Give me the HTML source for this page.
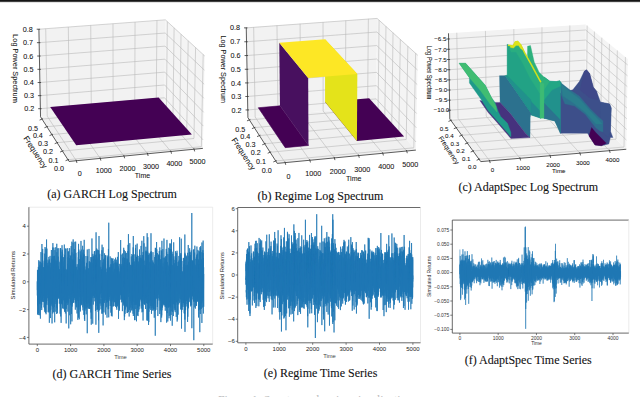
<!DOCTYPE html>
<html><head><meta charset="utf-8"><style>html,body{margin:0;padding:0;background:#fff;width:640px;height:397px;overflow:hidden}svg{display:block}</style></head>
<body><svg width="640" height="397" viewBox="0 0 640 397">
<rect width="640" height="397" fill="#fff"/>
<rect x="0" y="0" width="640" height="1" fill="#141414"/><rect x="0" y="1" width="640" height="1" fill="#404040"/><rect x="0" y="2" width="640" height="1" fill="#e2e2e2"/>
<polygon points="69.09,161.45 202.89,148.37 164.41,105.70 40.53,116.78" fill="#f0f0f0" />
<polygon points="40.53,116.78 164.41,105.70 165.33,19.79 38.90,29.15" fill="#f2f2f2" />
<polygon points="202.89,148.37 164.41,105.70 165.33,19.79 204.73,55.89" fill="#f4f4f4" />
<line x1="76.32" y1="160.74" x2="47.22" y2="116.18" stroke="#b8b8b8" stroke-width="0.6" />
<line x1="47.22" y1="116.18" x2="45.72" y2="28.64" stroke="#b8b8b8" stroke-width="0.6" />
<line x1="100.26" y1="158.40" x2="69.35" y2="114.20" stroke="#b8b8b8" stroke-width="0.6" />
<line x1="69.35" y1="114.20" x2="68.32" y2="26.97" stroke="#b8b8b8" stroke-width="0.6" />
<line x1="124.00" y1="156.08" x2="91.32" y2="112.24" stroke="#b8b8b8" stroke-width="0.6" />
<line x1="91.32" y1="112.24" x2="90.74" y2="25.31" stroke="#b8b8b8" stroke-width="0.6" />
<line x1="147.54" y1="153.78" x2="113.12" y2="110.29" stroke="#b8b8b8" stroke-width="0.6" />
<line x1="113.12" y1="110.29" x2="112.99" y2="23.66" stroke="#b8b8b8" stroke-width="0.6" />
<line x1="170.89" y1="151.50" x2="134.74" y2="108.35" stroke="#b8b8b8" stroke-width="0.6" />
<line x1="134.74" y1="108.35" x2="135.06" y2="22.03" stroke="#b8b8b8" stroke-width="0.6" />
<line x1="194.04" y1="149.23" x2="156.21" y2="106.43" stroke="#b8b8b8" stroke-width="0.6" />
<line x1="156.21" y1="106.43" x2="156.96" y2="20.41" stroke="#b8b8b8" stroke-width="0.6" />
<line x1="67.97" y1="159.70" x2="201.38" y2="146.70" stroke="#b8b8b8" stroke-width="0.6" />
<line x1="201.38" y1="146.70" x2="203.18" y2="54.48" stroke="#b8b8b8" stroke-width="0.6" />
<line x1="62.45" y1="151.07" x2="193.96" y2="138.47" stroke="#b8b8b8" stroke-width="0.6" />
<line x1="193.96" y1="138.47" x2="195.57" y2="47.50" stroke="#b8b8b8" stroke-width="0.6" />
<line x1="57.10" y1="142.70" x2="186.76" y2="130.48" stroke="#b8b8b8" stroke-width="0.6" />
<line x1="186.76" y1="130.48" x2="188.20" y2="40.74" stroke="#b8b8b8" stroke-width="0.6" />
<line x1="51.92" y1="134.59" x2="179.77" y2="122.73" stroke="#b8b8b8" stroke-width="0.6" />
<line x1="179.77" y1="122.73" x2="181.04" y2="34.18" stroke="#b8b8b8" stroke-width="0.6" />
<line x1="46.88" y1="126.72" x2="172.99" y2="115.21" stroke="#b8b8b8" stroke-width="0.6" />
<line x1="172.99" y1="115.21" x2="174.10" y2="27.82" stroke="#b8b8b8" stroke-width="0.6" />
<line x1="42.00" y1="119.08" x2="166.40" y2="107.90" stroke="#b8b8b8" stroke-width="0.6" />
<line x1="166.40" y1="107.90" x2="167.36" y2="21.65" stroke="#b8b8b8" stroke-width="0.6" />
<line x1="40.38" y1="108.69" x2="164.50" y2="97.77" stroke="#b8b8b8" stroke-width="0.6" />
<line x1="164.50" y1="97.77" x2="203.06" y2="139.85" stroke="#b8b8b8" stroke-width="0.6" />
<line x1="40.13" y1="95.65" x2="164.63" y2="84.98" stroke="#b8b8b8" stroke-width="0.6" />
<line x1="164.63" y1="84.98" x2="203.33" y2="126.10" stroke="#b8b8b8" stroke-width="0.6" />
<line x1="39.89" y1="82.53" x2="164.77" y2="72.11" stroke="#b8b8b8" stroke-width="0.6" />
<line x1="164.77" y1="72.11" x2="203.61" y2="112.25" stroke="#b8b8b8" stroke-width="0.6" />
<line x1="39.64" y1="69.32" x2="164.91" y2="59.16" stroke="#b8b8b8" stroke-width="0.6" />
<line x1="164.91" y1="59.16" x2="203.88" y2="98.32" stroke="#b8b8b8" stroke-width="0.6" />
<line x1="39.40" y1="56.03" x2="165.05" y2="46.14" stroke="#b8b8b8" stroke-width="0.6" />
<line x1="165.05" y1="46.14" x2="204.16" y2="84.29" stroke="#b8b8b8" stroke-width="0.6" />
<line x1="39.15" y1="42.66" x2="165.19" y2="33.03" stroke="#b8b8b8" stroke-width="0.6" />
<line x1="165.19" y1="33.03" x2="204.44" y2="70.17" stroke="#b8b8b8" stroke-width="0.6" />
<line x1="38.90" y1="29.21" x2="165.33" y2="19.84" stroke="#b8b8b8" stroke-width="0.6" />
<line x1="165.33" y1="19.84" x2="204.73" y2="55.96" stroke="#b8b8b8" stroke-width="0.6" />
<line x1="40.53" y1="116.78" x2="38.90" y2="29.15" stroke="#333" stroke-width="0.8" />
<line x1="69.09" y1="161.45" x2="40.53" y2="116.78" stroke="#333" stroke-width="0.8" />
<line x1="69.09" y1="161.45" x2="202.89" y2="148.37" stroke="#333" stroke-width="0.8" />
<line x1="38.18" y1="108.69" x2="41.58" y2="108.69" stroke="#333" stroke-width="0.8" />
<line x1="37.93" y1="95.65" x2="41.33" y2="95.65" stroke="#333" stroke-width="0.8" />
<line x1="37.69" y1="82.53" x2="41.09" y2="82.53" stroke="#333" stroke-width="0.8" />
<line x1="37.44" y1="69.32" x2="40.84" y2="69.32" stroke="#333" stroke-width="0.8" />
<line x1="37.20" y1="56.03" x2="40.60" y2="56.03" stroke="#333" stroke-width="0.8" />
<line x1="36.95" y1="42.66" x2="40.35" y2="42.66" stroke="#333" stroke-width="0.8" />
<line x1="36.70" y1="29.21" x2="40.10" y2="29.21" stroke="#333" stroke-width="0.8" />
<line x1="76.12" y1="159.74" x2="76.92" y2="162.94" stroke="#333" stroke-width="0.8" />
<line x1="100.06" y1="157.40" x2="100.86" y2="160.60" stroke="#333" stroke-width="0.8" />
<line x1="123.80" y1="155.08" x2="124.60" y2="158.28" stroke="#333" stroke-width="0.8" />
<line x1="147.34" y1="152.78" x2="148.14" y2="155.98" stroke="#333" stroke-width="0.8" />
<line x1="170.69" y1="150.50" x2="171.49" y2="153.70" stroke="#333" stroke-width="0.8" />
<line x1="193.84" y1="148.23" x2="194.64" y2="151.43" stroke="#333" stroke-width="0.8" />
<line x1="68.97" y1="159.30" x2="65.57" y2="160.70" stroke="#333" stroke-width="0.8" />
<line x1="63.45" y1="150.67" x2="60.05" y2="152.07" stroke="#333" stroke-width="0.8" />
<line x1="58.10" y1="142.30" x2="54.70" y2="143.70" stroke="#333" stroke-width="0.8" />
<line x1="52.92" y1="134.19" x2="49.52" y2="135.59" stroke="#333" stroke-width="0.8" />
<line x1="47.88" y1="126.32" x2="44.48" y2="127.72" stroke="#333" stroke-width="0.8" />
<line x1="43.00" y1="118.68" x2="39.60" y2="120.08" stroke="#333" stroke-width="0.8" />
<text x="79.82" y="175.74" font-family="Liberation Sans" font-size="7.2" text-anchor="middle" fill="#111" stroke="#111" stroke-width="0.06" >0</text>
<text x="103.76" y="173.39" font-family="Liberation Sans" font-size="7.2" text-anchor="middle" fill="#111" stroke="#111" stroke-width="0.06" >1000</text>
<text x="127.50" y="171.07" font-family="Liberation Sans" font-size="7.2" text-anchor="middle" fill="#111" stroke="#111" stroke-width="0.06" >2000</text>
<text x="151.04" y="168.77" font-family="Liberation Sans" font-size="7.2" text-anchor="middle" fill="#111" stroke="#111" stroke-width="0.06" >3000</text>
<text x="174.39" y="166.49" font-family="Liberation Sans" font-size="7.2" text-anchor="middle" fill="#111" stroke="#111" stroke-width="0.06" >4000</text>
<text x="197.54" y="164.23" font-family="Liberation Sans" font-size="7.2" text-anchor="middle" fill="#111" stroke="#111" stroke-width="0.06" >5000</text>
<text x="58.97" y="171.39" font-family="Liberation Sans" font-size="7.2" text-anchor="middle" fill="#111" stroke="#111" stroke-width="0.06" >0.0</text>
<text x="53.45" y="162.76" font-family="Liberation Sans" font-size="7.2" text-anchor="middle" fill="#111" stroke="#111" stroke-width="0.06" >0.1</text>
<text x="48.10" y="154.40" font-family="Liberation Sans" font-size="7.2" text-anchor="middle" fill="#111" stroke="#111" stroke-width="0.06" >0.2</text>
<text x="42.92" y="146.28" font-family="Liberation Sans" font-size="7.2" text-anchor="middle" fill="#111" stroke="#111" stroke-width="0.06" >0.3</text>
<text x="37.88" y="138.41" font-family="Liberation Sans" font-size="7.2" text-anchor="middle" fill="#111" stroke="#111" stroke-width="0.06" >0.4</text>
<text x="33.00" y="130.77" font-family="Liberation Sans" font-size="7.2" text-anchor="middle" fill="#111" stroke="#111" stroke-width="0.06" >0.5</text>
<text x="29.18" y="111.29" font-family="Liberation Sans" font-size="7.2" text-anchor="middle" fill="#111" stroke="#111" stroke-width="0.06" >0.2</text>
<text x="28.93" y="98.24" font-family="Liberation Sans" font-size="7.2" text-anchor="middle" fill="#111" stroke="#111" stroke-width="0.06" >0.3</text>
<text x="28.69" y="85.12" font-family="Liberation Sans" font-size="7.2" text-anchor="middle" fill="#111" stroke="#111" stroke-width="0.06" >0.4</text>
<text x="28.44" y="71.91" font-family="Liberation Sans" font-size="7.2" text-anchor="middle" fill="#111" stroke="#111" stroke-width="0.06" >0.5</text>
<text x="28.20" y="58.63" font-family="Liberation Sans" font-size="7.2" text-anchor="middle" fill="#111" stroke="#111" stroke-width="0.06" >0.6</text>
<text x="27.95" y="45.26" font-family="Liberation Sans" font-size="7.2" text-anchor="middle" fill="#111" stroke="#111" stroke-width="0.06" >0.7</text>
<text x="27.70" y="31.80" font-family="Liberation Sans" font-size="7.2" text-anchor="middle" fill="#111" stroke="#111" stroke-width="0.06" >0.8</text>
<polygon points="50.20,107.10 158.60,97.60 191.90,134.40 76.20,145.30" fill="#440154" />
<text x="15.40" y="68.50" font-family="Liberation Sans" font-size="7.8" text-anchor="middle" fill="#111" stroke="#111" stroke-width="0.06" transform="rotate(90 15.40 68.50)" dominant-baseline="central" textLength="68.5" lengthAdjust="spacingAndGlyphs">Log Power Spectrum</text>
<text x="35.30" y="152.30" font-family="Liberation Sans" font-size="7.8" text-anchor="middle" fill="#111" stroke="#111" stroke-width="0.06" transform="rotate(57 35.30 152.30)" dominant-baseline="central">Frequency</text>
<text x="142.50" y="178.00" font-family="Liberation Sans" font-size="7.0" text-anchor="middle" fill="#111" stroke="#111" stroke-width="0.06" >Time</text>
<polygon points="277.26,163.38 415.89,150.11 376.15,106.42 247.91,117.64" fill="#f0f0f0" />
<polygon points="247.91,117.64 376.15,106.42 377.08,18.19 246.26,27.64" fill="#f2f2f2" />
<polygon points="415.89,150.11 376.15,106.42 377.08,18.19 417.77,55.03" fill="#f4f4f4" />
<line x1="285.12" y1="162.62" x2="255.17" y2="117.00" stroke="#b8b8b8" stroke-width="0.6" />
<line x1="255.17" y1="117.00" x2="253.66" y2="27.11" stroke="#b8b8b8" stroke-width="0.6" />
<line x1="309.84" y1="160.26" x2="278.01" y2="115.00" stroke="#b8b8b8" stroke-width="0.6" />
<line x1="278.01" y1="115.00" x2="276.97" y2="25.42" stroke="#b8b8b8" stroke-width="0.6" />
<line x1="334.35" y1="157.91" x2="300.67" y2="113.02" stroke="#b8b8b8" stroke-width="0.6" />
<line x1="300.67" y1="113.02" x2="300.09" y2="23.75" stroke="#b8b8b8" stroke-width="0.6" />
<line x1="358.66" y1="155.58" x2="323.15" y2="111.05" stroke="#b8b8b8" stroke-width="0.6" />
<line x1="323.15" y1="111.05" x2="323.03" y2="22.10" stroke="#b8b8b8" stroke-width="0.6" />
<line x1="382.77" y1="153.28" x2="345.46" y2="109.10" stroke="#b8b8b8" stroke-width="0.6" />
<line x1="345.46" y1="109.10" x2="345.79" y2="20.45" stroke="#b8b8b8" stroke-width="0.6" />
<line x1="406.68" y1="150.99" x2="367.61" y2="107.16" stroke="#b8b8b8" stroke-width="0.6" />
<line x1="367.61" y1="107.16" x2="368.37" y2="18.82" stroke="#b8b8b8" stroke-width="0.6" />
<line x1="275.71" y1="160.96" x2="413.80" y2="147.80" stroke="#b8b8b8" stroke-width="0.6" />
<line x1="413.80" y1="147.80" x2="415.62" y2="53.09" stroke="#b8b8b8" stroke-width="0.6" />
<line x1="270.11" y1="152.24" x2="406.23" y2="139.48" stroke="#b8b8b8" stroke-width="0.6" />
<line x1="406.23" y1="139.48" x2="407.86" y2="46.06" stroke="#b8b8b8" stroke-width="0.6" />
<line x1="264.69" y1="143.78" x2="398.89" y2="131.41" stroke="#b8b8b8" stroke-width="0.6" />
<line x1="398.89" y1="131.41" x2="400.34" y2="39.25" stroke="#b8b8b8" stroke-width="0.6" />
<line x1="259.43" y1="135.58" x2="391.76" y2="123.58" stroke="#b8b8b8" stroke-width="0.6" />
<line x1="391.76" y1="123.58" x2="393.04" y2="32.65" stroke="#b8b8b8" stroke-width="0.6" />
<line x1="254.32" y1="127.63" x2="384.84" y2="115.97" stroke="#b8b8b8" stroke-width="0.6" />
<line x1="384.84" y1="115.97" x2="385.97" y2="26.24" stroke="#b8b8b8" stroke-width="0.6" />
<line x1="249.37" y1="119.90" x2="378.12" y2="108.59" stroke="#b8b8b8" stroke-width="0.6" />
<line x1="378.12" y1="108.59" x2="379.10" y2="20.02" stroke="#b8b8b8" stroke-width="0.6" />
<line x1="247.77" y1="109.94" x2="376.23" y2="98.87" stroke="#b8b8b8" stroke-width="0.6" />
<line x1="376.23" y1="98.87" x2="416.05" y2="141.99" stroke="#b8b8b8" stroke-width="0.6" />
<line x1="247.52" y1="96.47" x2="376.37" y2="85.66" stroke="#b8b8b8" stroke-width="0.6" />
<line x1="376.37" y1="85.66" x2="416.33" y2="127.77" stroke="#b8b8b8" stroke-width="0.6" />
<line x1="247.27" y1="82.92" x2="376.51" y2="72.37" stroke="#b8b8b8" stroke-width="0.6" />
<line x1="376.51" y1="72.37" x2="416.62" y2="113.46" stroke="#b8b8b8" stroke-width="0.6" />
<line x1="247.02" y1="69.28" x2="376.65" y2="59.00" stroke="#b8b8b8" stroke-width="0.6" />
<line x1="376.65" y1="59.00" x2="416.90" y2="99.05" stroke="#b8b8b8" stroke-width="0.6" />
<line x1="246.77" y1="55.56" x2="376.79" y2="45.55" stroke="#b8b8b8" stroke-width="0.6" />
<line x1="376.79" y1="45.55" x2="417.19" y2="84.55" stroke="#b8b8b8" stroke-width="0.6" />
<line x1="246.52" y1="41.76" x2="376.93" y2="32.02" stroke="#b8b8b8" stroke-width="0.6" />
<line x1="376.93" y1="32.02" x2="417.47" y2="69.96" stroke="#b8b8b8" stroke-width="0.6" />
<line x1="246.26" y1="27.87" x2="377.08" y2="18.41" stroke="#b8b8b8" stroke-width="0.6" />
<line x1="377.08" y1="18.41" x2="417.76" y2="55.27" stroke="#b8b8b8" stroke-width="0.6" />
<line x1="247.91" y1="117.64" x2="246.26" y2="27.64" stroke="#333" stroke-width="0.8" />
<line x1="277.26" y1="163.38" x2="247.91" y2="117.64" stroke="#333" stroke-width="0.8" />
<line x1="277.26" y1="163.38" x2="415.89" y2="150.11" stroke="#333" stroke-width="0.8" />
<line x1="245.57" y1="109.94" x2="248.97" y2="109.94" stroke="#333" stroke-width="0.8" />
<line x1="245.32" y1="96.47" x2="248.72" y2="96.47" stroke="#333" stroke-width="0.8" />
<line x1="245.07" y1="82.92" x2="248.47" y2="82.92" stroke="#333" stroke-width="0.8" />
<line x1="244.82" y1="69.28" x2="248.22" y2="69.28" stroke="#333" stroke-width="0.8" />
<line x1="244.57" y1="55.56" x2="247.97" y2="55.56" stroke="#333" stroke-width="0.8" />
<line x1="244.32" y1="41.76" x2="247.72" y2="41.76" stroke="#333" stroke-width="0.8" />
<line x1="244.06" y1="27.87" x2="247.46" y2="27.87" stroke="#333" stroke-width="0.8" />
<line x1="284.92" y1="161.62" x2="285.72" y2="164.82" stroke="#333" stroke-width="0.8" />
<line x1="309.64" y1="159.26" x2="310.44" y2="162.46" stroke="#333" stroke-width="0.8" />
<line x1="334.15" y1="156.91" x2="334.95" y2="160.11" stroke="#333" stroke-width="0.8" />
<line x1="358.46" y1="154.58" x2="359.26" y2="157.78" stroke="#333" stroke-width="0.8" />
<line x1="382.57" y1="152.28" x2="383.37" y2="155.48" stroke="#333" stroke-width="0.8" />
<line x1="406.48" y1="149.99" x2="407.28" y2="153.19" stroke="#333" stroke-width="0.8" />
<line x1="276.71" y1="160.56" x2="273.31" y2="161.96" stroke="#333" stroke-width="0.8" />
<line x1="271.11" y1="151.84" x2="267.71" y2="153.24" stroke="#333" stroke-width="0.8" />
<line x1="265.69" y1="143.38" x2="262.29" y2="144.78" stroke="#333" stroke-width="0.8" />
<line x1="260.43" y1="135.18" x2="257.03" y2="136.58" stroke="#333" stroke-width="0.8" />
<line x1="255.32" y1="127.23" x2="251.92" y2="128.63" stroke="#333" stroke-width="0.8" />
<line x1="250.37" y1="119.50" x2="246.97" y2="120.90" stroke="#333" stroke-width="0.8" />
<text x="288.62" y="178.82" font-family="Liberation Sans" font-size="7.2" text-anchor="middle" fill="#111" stroke="#111" stroke-width="0.06" >0</text>
<text x="313.34" y="176.45" font-family="Liberation Sans" font-size="7.2" text-anchor="middle" fill="#111" stroke="#111" stroke-width="0.06" >1000</text>
<text x="337.85" y="174.10" font-family="Liberation Sans" font-size="7.2" text-anchor="middle" fill="#111" stroke="#111" stroke-width="0.06" >2000</text>
<text x="362.16" y="171.78" font-family="Liberation Sans" font-size="7.2" text-anchor="middle" fill="#111" stroke="#111" stroke-width="0.06" >3000</text>
<text x="386.27" y="169.47" font-family="Liberation Sans" font-size="7.2" text-anchor="middle" fill="#111" stroke="#111" stroke-width="0.06" >4000</text>
<text x="410.18" y="167.18" font-family="Liberation Sans" font-size="7.2" text-anchor="middle" fill="#111" stroke="#111" stroke-width="0.06" >5000</text>
<text x="266.71" y="172.65" font-family="Liberation Sans" font-size="7.2" text-anchor="middle" fill="#111" stroke="#111" stroke-width="0.06" >0.0</text>
<text x="261.11" y="163.93" font-family="Liberation Sans" font-size="7.2" text-anchor="middle" fill="#111" stroke="#111" stroke-width="0.06" >0.1</text>
<text x="255.69" y="155.47" font-family="Liberation Sans" font-size="7.2" text-anchor="middle" fill="#111" stroke="#111" stroke-width="0.06" >0.2</text>
<text x="250.43" y="147.27" font-family="Liberation Sans" font-size="7.2" text-anchor="middle" fill="#111" stroke="#111" stroke-width="0.06" >0.3</text>
<text x="245.32" y="139.32" font-family="Liberation Sans" font-size="7.2" text-anchor="middle" fill="#111" stroke="#111" stroke-width="0.06" >0.4</text>
<text x="240.37" y="131.60" font-family="Liberation Sans" font-size="7.2" text-anchor="middle" fill="#111" stroke="#111" stroke-width="0.06" >0.5</text>
<text x="236.57" y="112.54" font-family="Liberation Sans" font-size="7.2" text-anchor="middle" fill="#111" stroke="#111" stroke-width="0.06" >0.2</text>
<text x="236.32" y="99.06" font-family="Liberation Sans" font-size="7.2" text-anchor="middle" fill="#111" stroke="#111" stroke-width="0.06" >0.3</text>
<text x="236.07" y="85.51" font-family="Liberation Sans" font-size="7.2" text-anchor="middle" fill="#111" stroke="#111" stroke-width="0.06" >0.4</text>
<text x="235.82" y="71.87" font-family="Liberation Sans" font-size="7.2" text-anchor="middle" fill="#111" stroke="#111" stroke-width="0.06" >0.5</text>
<text x="235.57" y="58.15" font-family="Liberation Sans" font-size="7.2" text-anchor="middle" fill="#111" stroke="#111" stroke-width="0.06" >0.6</text>
<text x="235.32" y="44.35" font-family="Liberation Sans" font-size="7.2" text-anchor="middle" fill="#111" stroke="#111" stroke-width="0.06" >0.7</text>
<text x="235.06" y="30.46" font-family="Liberation Sans" font-size="7.2" text-anchor="middle" fill="#111" stroke="#111" stroke-width="0.06" >0.8</text>
<polygon points="285.22,147.64 308.49,145.47 279.96,105.85 258.28,107.72" fill="#440154" stroke="#440154" stroke-width="0.6" stroke-linejoin="round"/>
<polygon points="356.91,140.96 404.07,136.57 369.12,98.19 325.10,101.97" fill="#440154" />
<polygon points="356.91,140.96 325.10,101.97 325.04,39.32 357.33,73.95" fill="#e4e31a" />
<polygon points="308.49,145.47 279.96,105.85 279.26,42.76 308.17,77.96" fill="#48105f" />
<polygon points="308.17,77.96 357.33,73.95 325.04,39.32 279.26,42.76" fill="#fde725" />
<text x="223.50" y="69.30" font-family="Liberation Sans" font-size="7.8" text-anchor="middle" fill="#111" stroke="#111" stroke-width="0.06" transform="rotate(90 223.50 69.30)" dominant-baseline="central" textLength="67.5" lengthAdjust="spacingAndGlyphs">Log Power Spectrum</text>
<text x="243.50" y="154.00" font-family="Liberation Sans" font-size="7.8" text-anchor="middle" fill="#111" stroke="#111" stroke-width="0.06" transform="rotate(57 243.50 154.00)" dominant-baseline="central">Frequency</text>
<text x="353.75" y="181.25" font-family="Liberation Sans" font-size="7.0" text-anchor="middle" fill="#111" stroke="#111" stroke-width="0.06" >Time</text>
<polygon points="480.75,161.62 626.28,149.28 584.96,108.40 449.79,118.93" fill="#f0f0f0" />
<polygon points="449.79,118.93 584.96,108.40 585.70,24.41 448.49,33.30" fill="#f2f2f2" />
<polygon points="626.28,149.28 584.96,108.40 585.70,24.41 627.75,58.96" fill="#f4f4f4" />
<line x1="489.60" y1="160.87" x2="457.99" y2="118.29" stroke="#b8b8b8" stroke-width="0.55" />
<line x1="457.99" y1="118.29" x2="456.81" y2="32.76" stroke="#b8b8b8" stroke-width="0.55" />
<line x1="519.99" y1="158.29" x2="486.19" y2="116.10" stroke="#b8b8b8" stroke-width="0.55" />
<line x1="486.19" y1="116.10" x2="485.44" y2="30.90" stroke="#b8b8b8" stroke-width="0.55" />
<line x1="550.10" y1="155.74" x2="514.15" y2="113.92" stroke="#b8b8b8" stroke-width="0.55" />
<line x1="514.15" y1="113.92" x2="513.83" y2="29.06" stroke="#b8b8b8" stroke-width="0.55" />
<line x1="579.94" y1="153.21" x2="541.87" y2="111.76" stroke="#b8b8b8" stroke-width="0.55" />
<line x1="541.87" y1="111.76" x2="541.96" y2="27.24" stroke="#b8b8b8" stroke-width="0.55" />
<line x1="609.50" y1="150.70" x2="569.35" y2="109.62" stroke="#b8b8b8" stroke-width="0.55" />
<line x1="569.35" y1="109.62" x2="569.85" y2="25.43" stroke="#b8b8b8" stroke-width="0.55" />
<line x1="479.04" y1="159.26" x2="624.01" y2="147.02" stroke="#b8b8b8" stroke-width="0.55" />
<line x1="624.01" y1="147.02" x2="625.43" y2="57.06" stroke="#b8b8b8" stroke-width="0.55" />
<line x1="473.07" y1="151.03" x2="616.05" y2="139.15" stroke="#b8b8b8" stroke-width="0.55" />
<line x1="616.05" y1="139.15" x2="617.33" y2="50.40" stroke="#b8b8b8" stroke-width="0.55" />
<line x1="467.28" y1="143.04" x2="608.32" y2="131.51" stroke="#b8b8b8" stroke-width="0.55" />
<line x1="608.32" y1="131.51" x2="609.46" y2="43.93" stroke="#b8b8b8" stroke-width="0.55" />
<line x1="461.66" y1="135.29" x2="600.81" y2="124.08" stroke="#b8b8b8" stroke-width="0.55" />
<line x1="600.81" y1="124.08" x2="601.82" y2="37.65" stroke="#b8b8b8" stroke-width="0.55" />
<line x1="456.19" y1="127.75" x2="593.52" y2="116.86" stroke="#b8b8b8" stroke-width="0.55" />
<line x1="593.52" y1="116.86" x2="594.40" y2="31.55" stroke="#b8b8b8" stroke-width="0.55" />
<line x1="450.88" y1="120.43" x2="586.42" y2="109.84" stroke="#b8b8b8" stroke-width="0.55" />
<line x1="586.42" y1="109.84" x2="587.18" y2="25.62" stroke="#b8b8b8" stroke-width="0.55" />
<line x1="449.66" y1="110.21" x2="585.04" y2="99.85" stroke="#b8b8b8" stroke-width="0.55" />
<line x1="585.04" y1="99.85" x2="626.43" y2="140.09" stroke="#b8b8b8" stroke-width="0.55" />
<line x1="449.51" y1="100.15" x2="585.13" y2="89.97" stroke="#b8b8b8" stroke-width="0.55" />
<line x1="585.13" y1="89.97" x2="626.61" y2="129.48" stroke="#b8b8b8" stroke-width="0.55" />
<line x1="449.35" y1="90.04" x2="585.21" y2="80.06" stroke="#b8b8b8" stroke-width="0.55" />
<line x1="585.21" y1="80.06" x2="626.78" y2="118.83" stroke="#b8b8b8" stroke-width="0.55" />
<line x1="449.20" y1="79.90" x2="585.30" y2="70.11" stroke="#b8b8b8" stroke-width="0.55" />
<line x1="585.30" y1="70.11" x2="626.95" y2="108.14" stroke="#b8b8b8" stroke-width="0.55" />
<line x1="449.04" y1="69.73" x2="585.39" y2="60.13" stroke="#b8b8b8" stroke-width="0.55" />
<line x1="585.39" y1="60.13" x2="627.13" y2="97.40" stroke="#b8b8b8" stroke-width="0.55" />
<line x1="448.89" y1="59.52" x2="585.48" y2="50.12" stroke="#b8b8b8" stroke-width="0.55" />
<line x1="585.48" y1="50.12" x2="627.30" y2="86.63" stroke="#b8b8b8" stroke-width="0.55" />
<line x1="448.73" y1="49.27" x2="585.57" y2="40.06" stroke="#b8b8b8" stroke-width="0.55" />
<line x1="585.57" y1="40.06" x2="627.48" y2="75.82" stroke="#b8b8b8" stroke-width="0.55" />
<line x1="448.57" y1="38.98" x2="585.65" y2="29.98" stroke="#b8b8b8" stroke-width="0.55" />
<line x1="585.65" y1="29.98" x2="627.66" y2="64.96" stroke="#b8b8b8" stroke-width="0.55" />
<line x1="449.79" y1="118.93" x2="448.49" y2="33.30" stroke="#333" stroke-width="0.8" />
<line x1="480.75" y1="161.62" x2="449.79" y2="118.93" stroke="#333" stroke-width="0.8" />
<line x1="480.75" y1="161.62" x2="626.28" y2="149.28" stroke="#333" stroke-width="0.8" />
<line x1="447.46" y1="110.21" x2="450.86" y2="110.21" stroke="#333" stroke-width="0.8" />
<line x1="447.31" y1="100.15" x2="450.71" y2="100.15" stroke="#333" stroke-width="0.8" />
<line x1="447.15" y1="90.04" x2="450.55" y2="90.04" stroke="#333" stroke-width="0.8" />
<line x1="447.00" y1="79.90" x2="450.40" y2="79.90" stroke="#333" stroke-width="0.8" />
<line x1="446.84" y1="69.73" x2="450.24" y2="69.73" stroke="#333" stroke-width="0.8" />
<line x1="446.69" y1="59.52" x2="450.09" y2="59.52" stroke="#333" stroke-width="0.8" />
<line x1="446.53" y1="49.27" x2="449.93" y2="49.27" stroke="#333" stroke-width="0.8" />
<line x1="446.37" y1="38.98" x2="449.77" y2="38.98" stroke="#333" stroke-width="0.8" />
<line x1="489.40" y1="159.87" x2="490.20" y2="163.07" stroke="#333" stroke-width="0.8" />
<line x1="519.79" y1="157.29" x2="520.59" y2="160.49" stroke="#333" stroke-width="0.8" />
<line x1="549.90" y1="154.74" x2="550.70" y2="157.94" stroke="#333" stroke-width="0.8" />
<line x1="579.74" y1="152.21" x2="580.54" y2="155.41" stroke="#333" stroke-width="0.8" />
<line x1="609.30" y1="149.70" x2="610.10" y2="152.90" stroke="#333" stroke-width="0.8" />
<line x1="480.04" y1="158.86" x2="476.64" y2="160.26" stroke="#333" stroke-width="0.8" />
<line x1="474.07" y1="150.63" x2="470.67" y2="152.03" stroke="#333" stroke-width="0.8" />
<line x1="468.28" y1="142.64" x2="464.88" y2="144.04" stroke="#333" stroke-width="0.8" />
<line x1="462.66" y1="134.89" x2="459.26" y2="136.29" stroke="#333" stroke-width="0.8" />
<line x1="457.19" y1="127.35" x2="453.79" y2="128.75" stroke="#333" stroke-width="0.8" />
<line x1="451.88" y1="120.03" x2="448.48" y2="121.43" stroke="#333" stroke-width="0.8" />
<text x="492.60" y="172.40" font-family="Liberation Sans" font-size="6.2" text-anchor="middle" fill="#111" stroke="#111" stroke-width="0.06" >0</text>
<text x="522.99" y="169.82" font-family="Liberation Sans" font-size="6.2" text-anchor="middle" fill="#111" stroke="#111" stroke-width="0.06" >1000</text>
<text x="553.10" y="167.27" font-family="Liberation Sans" font-size="6.2" text-anchor="middle" fill="#111" stroke="#111" stroke-width="0.06" >2000</text>
<text x="582.94" y="164.74" font-family="Liberation Sans" font-size="6.2" text-anchor="middle" fill="#111" stroke="#111" stroke-width="0.06" >3000</text>
<text x="612.50" y="162.23" font-family="Liberation Sans" font-size="6.2" text-anchor="middle" fill="#111" stroke="#111" stroke-width="0.06" >4000</text>
<text x="472.24" y="169.49" font-family="Liberation Sans" font-size="6.2" text-anchor="middle" fill="#111" stroke="#111" stroke-width="0.06" >0.0</text>
<text x="466.27" y="161.26" font-family="Liberation Sans" font-size="6.2" text-anchor="middle" fill="#111" stroke="#111" stroke-width="0.06" >0.1</text>
<text x="460.48" y="153.28" font-family="Liberation Sans" font-size="6.2" text-anchor="middle" fill="#111" stroke="#111" stroke-width="0.06" >0.2</text>
<text x="454.86" y="145.52" font-family="Liberation Sans" font-size="6.2" text-anchor="middle" fill="#111" stroke="#111" stroke-width="0.06" >0.3</text>
<text x="449.39" y="137.99" font-family="Liberation Sans" font-size="6.2" text-anchor="middle" fill="#111" stroke="#111" stroke-width="0.06" >0.4</text>
<text x="444.08" y="130.66" font-family="Liberation Sans" font-size="6.2" text-anchor="middle" fill="#111" stroke="#111" stroke-width="0.06" >0.5</text>
<text x="441.46" y="112.44" font-family="Liberation Sans" font-size="6.2" text-anchor="middle" fill="#111" stroke="#111" stroke-width="0.06" >−10.0</text>
<text x="441.31" y="102.38" font-family="Liberation Sans" font-size="6.2" text-anchor="middle" fill="#111" stroke="#111" stroke-width="0.06" >−9.5</text>
<text x="441.15" y="92.28" font-family="Liberation Sans" font-size="6.2" text-anchor="middle" fill="#111" stroke="#111" stroke-width="0.06" >−9.0</text>
<text x="441.00" y="82.14" font-family="Liberation Sans" font-size="6.2" text-anchor="middle" fill="#111" stroke="#111" stroke-width="0.06" >−8.5</text>
<text x="440.84" y="71.96" font-family="Liberation Sans" font-size="6.2" text-anchor="middle" fill="#111" stroke="#111" stroke-width="0.06" >−8.0</text>
<text x="440.69" y="61.75" font-family="Liberation Sans" font-size="6.2" text-anchor="middle" fill="#111" stroke="#111" stroke-width="0.06" >−7.5</text>
<text x="440.53" y="51.50" font-family="Liberation Sans" font-size="6.2" text-anchor="middle" fill="#111" stroke="#111" stroke-width="0.06" >−7.0</text>
<text x="440.37" y="41.21" font-family="Liberation Sans" font-size="6.2" text-anchor="middle" fill="#111" stroke="#111" stroke-width="0.06" >−6.5</text>
<polygon points="560.0,93.0 572.8,89.8 579.3,81.6 584.3,71.3 586.5,69.8 589.6,73.6 593.3,87.2 596.6,91.4 600.6,102.2 604.7,103.0 609.6,103.9 611.2,108.0 610.4,130.9 612.9,137.5 610.4,137.5 608.8,144.0 601.4,145.7 595.0,145.0 587.5,133.2 560.0,133.2" fill="#3d4f8a" stroke="#3d4f8a" stroke-width="0.35" stroke-linejoin="round" />
<polygon points="600.6,102.2 604.7,103.0 609.6,103.9 611.2,108.0 610.4,130.9 608.0,137.0 600.0,130.0" fill="#3b528b" stroke="#3b528b" stroke-width="0.35" stroke-linejoin="round" />
<polygon points="584.3,71.3 586.5,69.8 589.6,73.6 593.3,87.2 596.6,91.4 598.0,100.0 590.0,98.0 580.0,90.0" fill="#3f4889" stroke="#3f4889" stroke-width="0.35" stroke-linejoin="round" />
<polygon points="559.5,81.8 570.1,90.1 579.2,96.1 589.7,108.2 598.8,117.3 603.0,121.0 603.0,132.0 600.0,130.9 595.8,127.8 585.2,114.3 574.6,106.0 564.8,103.7 560.5,93.0" fill="#2d708e" stroke="#2d708e" stroke-width="0.35" stroke-linejoin="round" />
<polygon points="561.0,84.0 570.1,92.0 579.2,98.5 589.7,110.5 598.8,120.0 602.0,124.0 596.0,124.0 585.0,112.0 572.0,102.0 563.0,96.0" fill="#2a7f8e" stroke="#2a7f8e" stroke-width="0.35" stroke-linejoin="round" />
<polygon points="591.6,127.6 595.7,132.5 606.3,143.2 601.4,145.7 595.0,145.0 589.0,136.0" fill="#440154" stroke="#440154" stroke-width="0.35" stroke-linejoin="round" />
<polygon points="544.0,77.0 549.7,81.2 556.4,81.6 559.7,80.7 561.3,82.4 560.5,93.0 560.5,133.2 554.8,120.9 544.9,118.4 544.0,118.4" fill="#21918c" stroke="#21918c" stroke-width="0.35" stroke-linejoin="round" />
<polygon points="544.0,77.0 549.7,81.2 556.4,81.6 559.7,80.7 560.5,86.0 552.0,90.0 544.0,100.0" fill="#22a785" stroke="#22a785" stroke-width="0.35" stroke-linejoin="round" />
<polygon points="544.0,103.0 559.7,119.3 560.5,133.2 554.8,120.9 544.9,118.4 544.0,118.4" fill="#2c728e" stroke="#2c728e" stroke-width="0.35" stroke-linejoin="round" />
<polygon points="527.5,46.3 530.5,45.6 534.3,62.2 536.5,66.7 539.1,72.3 544.0,77.0 549.7,81.2 544.0,90.0 540.3,83.3 531.3,65.2 527.5,58.0" fill="#2db17d" stroke="#2db17d" stroke-width="0.35" stroke-linejoin="round" />
<polygon points="505.2,75.7 507.1,75.0 507.1,44.1 510.1,46.3 513.1,47.1 515.4,42.6 517.7,42.3 520.7,45.6 525.2,54.6 531.3,65.2 540.9,82.9 540.9,118.2 530.5,114.7 531.0,113.0" fill="#22a285" stroke="#22a285" stroke-width="0.35" stroke-linejoin="round" />
<polygon points="516.0,90.0 525.0,95.0 540.9,112.0 540.9,118.2 530.5,114.7 531.0,113.0" fill="#23898e" stroke="#23898e" stroke-width="0.35" stroke-linejoin="round" />
<polygon points="509.0,46.5 513.1,47.1 515.4,42.6 517.7,42.3 520.7,45.6 525.2,54.6 531.3,65.2 540.9,82.9 540.9,95.0 530.0,78.0 522.0,62.0 516.0,52.0 511.0,52.0" fill="#29ad80" stroke="#29ad80" stroke-width="0.35" stroke-linejoin="round" />
<polyline points="508,45.2 510.1,45.6 513.1,46.2 515.4,41.9 517.7,41.6 520.7,44.9 525.2,53.9 531.3,64.6 540.9,82.4" fill="none" stroke="#cfe01c" stroke-width="1.5" stroke-linejoin="round"/>
<polygon points="510.5,45.6 513.1,46.0 515.4,41.5 517.7,41.2 520.7,44.5 523.5,50.0 521.0,49.0 518.5,45.5 516.0,45.6 513.5,48.0 510.5,47.5" fill="#dde31b" stroke="#dde31b" stroke-width="0.35" stroke-linejoin="round" />
<polygon points="540.0,82.9 544.0,83.5 544.0,118.2 540.0,118.2" fill="#3dbb74" stroke="#3dbb74" stroke-width="0.35" stroke-linejoin="round" />
<polygon points="499.5,75.7 505.2,75.7 531.0,113.0 530.2,117.7 530.0,137.5 525.6,133.5 517.7,123.3 510.9,114.3 500.1,102.4" fill="#2c718e" stroke="#2c718e" stroke-width="0.35" stroke-linejoin="round" />
<polygon points="505.2,75.7 507.1,75.7 531.0,100.0 531.0,113.0" fill="#21918c" stroke="#21918c" stroke-width="0.35" stroke-linejoin="round" />
<polygon points="495.0,102.4 500.1,102.4 510.9,114.3 517.7,123.3 525.6,133.5 530.0,137.5 510.9,138.6 507.5,134.6 497.3,122.7 488.2,112.5 479.8,100.5" fill="#46327e" stroke="#46327e" stroke-width="0.35" stroke-linejoin="round" />
<polygon points="459.2,63.3 465.6,63.3 485.2,85.2 491.3,97.3 495.0,102.4 498.4,112.0 500.7,116.5 507.5,123.3 510.9,132.4 510.9,136.8 507.5,132.8 497.3,121.0 488.2,110.8 481.5,100.0 469.4,83.0 469.4,77.7" fill="#1f9a8a" stroke="#1f9a8a" stroke-width="0.35" stroke-linejoin="round" />
<polygon points="459.2,63.3 465.6,63.3 485.2,85.2 491.3,97.3 496.0,106.0 497.0,112.0 490.0,104.0 480.0,90.0 469.4,77.7" fill="#40bd72" stroke="#40bd72" stroke-width="0.35" stroke-linejoin="round" />
<text x="429.00" y="72.50" font-family="Liberation Sans" font-size="6.3" text-anchor="middle" fill="#111" stroke="#111" stroke-width="0.06" transform="rotate(90 429.00 72.50)" dominant-baseline="central" textLength="53.5" lengthAdjust="spacingAndGlyphs">Log Power Spectrum</text>
<text x="449.00" y="150.00" font-family="Liberation Sans" font-size="6.8" text-anchor="middle" fill="#111" stroke="#111" stroke-width="0.06" transform="rotate(57 449.00 150.00)" dominant-baseline="central">Frequency</text>
<text x="558.75" y="172.75" font-family="Liberation Sans" font-size="6.2" text-anchor="middle" fill="#111" stroke="#111" stroke-width="0.06" >Time</text>
<text x="47.30" y="197.70" font-family="Liberation Serif" font-size="12.0" text-anchor="start" fill="#111" stroke="#111" stroke-width="0.1" >(a) GARCH Log Spectrum</text>
<text x="257.60" y="199.50" font-family="Liberation Serif" font-size="12.0" text-anchor="start" fill="#111" stroke="#111" stroke-width="0.1" >(b) Regime Log Spectrum</text>
<text x="458.40" y="190.70" font-family="Liberation Serif" font-size="12.0" text-anchor="start" fill="#111" stroke="#111" stroke-width="0.1" >(c) AdaptSpec Log Spectrum</text>
<text x="52.50" y="377.80" font-family="Liberation Serif" font-size="12.0" text-anchor="start" fill="#111" stroke="#111" stroke-width="0.1" >(d) GARCH Time Series</text>
<text x="263.70" y="377.20" font-family="Liberation Serif" font-size="12.0" text-anchor="start" fill="#111" stroke="#111" stroke-width="0.1" >(e) Regime Time Series</text>
<text x="464.80" y="363.80" font-family="Liberation Serif" font-size="12.0" text-anchor="start" fill="#111" stroke="#111" stroke-width="0.1" >(f) AdaptSpec Time Series</text>
<text x="218.00" y="403.50" font-family="Liberation Serif" font-size="11.8" text-anchor="start" fill="#bbb" >Figure 1: Spectra and series visualization</text>
<path d="M37.30,281.78 37.33,295.52 37.37,281.05 37.40,290.17 37.43,280.08 37.47,269.87 37.50,314.57 37.53,286.27 37.57,279.37 37.60,289.73 37.63,305.40 37.67,292.57 37.70,282.23 37.73,283.40 37.77,299.15 37.80,302.22 37.83,289.41 37.87,299.26 37.90,284.38 37.93,273.68 37.97,278.68 38.00,300.13 38.03,270.30 38.07,292.53 38.10,288.64 38.13,271.42 38.17,284.80 38.20,285.95 38.23,285.07 38.27,287.25 38.30,282.12 38.33,266.89 38.37,299.71 38.40,313.24 38.43,279.79 38.47,290.98 38.50,284.47 38.53,273.15 38.57,281.21 38.60,292.63 38.63,280.41 38.67,315.06 38.70,312.29 38.73,267.83 38.77,279.26 38.80,260.13 38.83,284.59 38.87,289.84 38.90,292.65 38.93,283.78 38.96,292.18 39.00,281.68 39.03,303.72 39.06,293.41 39.10,291.27 39.13,285.11 39.16,271.20 39.20,292.04 39.23,284.20 39.26,261.38 39.30,282.33 39.33,272.29 39.36,281.52 39.40,275.90 39.43,269.81 39.46,274.72 39.50,267.75 39.53,298.09 39.56,271.52 39.60,303.05 39.63,297.15 39.66,315.22 39.70,281.05 39.73,298.01 39.76,300.31 39.80,282.68 39.83,292.85 39.86,278.63 39.90,277.97 39.93,268.98 39.96,304.10 40.00,283.03 40.03,264.88 40.06,295.41 40.10,292.68 40.13,280.99 40.16,265.87 40.20,282.58 40.23,274.07 40.26,273.76 40.30,300.36 40.33,297.69 40.36,288.05 40.40,318.64 40.43,280.21 40.46,284.16 40.50,281.87 40.53,286.78 40.56,272.36 40.60,285.52 40.63,261.71 40.66,291.17 40.70,274.45 40.73,297.98 40.76,287.75 40.80,279.82 40.83,292.73 40.86,274.90 40.90,272.43 40.93,281.83 40.96,252.10 41.00,297.44 41.03,296.22 41.06,268.32 41.10,275.30 41.13,292.23 41.16,262.75 41.20,295.44 41.23,284.76 41.26,286.15 41.30,282.93 41.33,273.44 41.36,274.48 41.40,270.63 41.43,307.69 41.46,274.33 41.50,295.38 41.53,284.86 41.56,296.29 41.60,264.89 41.63,283.86 41.66,304.84 41.70,284.62 41.73,310.05 41.76,275.35 41.80,278.08 41.83,270.74 41.86,263.63 41.90,287.73 41.93,244.01 41.96,292.28 42.00,287.06 42.03,266.51 42.06,289.74 42.10,290.56 42.13,299.59 42.16,265.59 42.20,292.86 42.23,288.14 42.26,276.03 42.29,273.19 42.33,282.59 42.36,281.14 42.39,282.51 42.43,301.57 42.46,280.71 42.49,299.18 42.53,275.54 42.56,272.42 42.59,298.40 42.63,253.17 42.66,282.28 42.69,248.93 42.73,301.54 42.76,267.02 42.79,286.38 42.83,272.79 42.86,298.12 42.89,293.98 42.93,288.44 42.96,287.52 42.99,283.37 43.03,282.27 43.06,283.95 43.09,291.31 43.13,295.60 43.16,278.08 43.19,295.82 43.23,278.39 43.26,280.64 43.29,287.45 43.33,279.61 43.36,287.85 43.39,289.56 43.43,278.50 43.46,287.61 43.49,275.46 43.53,275.84 43.56,273.22 43.59,302.01 43.63,267.23 43.66,267.53 43.69,274.91 43.73,289.69 43.76,278.64 43.79,283.32 43.83,291.14 43.86,280.41 43.89,282.53 43.93,267.38 43.96,275.78 43.99,273.40 44.03,307.38 44.06,300.14 44.09,268.77 44.13,282.00 44.16,283.49 44.19,260.63 44.23,277.71 44.26,282.32 44.29,284.10 44.33,262.60 44.36,296.44 44.39,271.58 44.43,294.62 44.46,301.38 44.49,273.92 44.53,284.87 44.56,293.79 44.59,272.33 44.63,280.70 44.66,279.08 44.69,287.17 44.73,253.62 44.76,257.73 44.79,280.07 44.83,311.84 44.86,294.12 44.89,271.90 44.93,295.69 44.96,264.98 44.99,287.22 45.03,308.60 45.06,247.00 45.09,272.54 45.13,286.71 45.16,271.10 45.19,258.42 45.23,310.38 45.26,275.44 45.29,306.21 45.33,287.38 45.36,311.41 45.39,267.88 45.43,313.01 45.46,289.87 45.49,275.32 45.53,283.49 45.56,290.28 45.59,282.14 45.62,264.56 45.66,260.47 45.69,286.16 45.72,283.23 45.76,248.67 45.79,274.02 45.82,284.60 45.86,280.32 45.89,280.52 45.92,312.26 45.96,272.18 45.99,303.36 46.02,291.33 46.06,314.27 46.09,291.79 46.12,256.84 46.16,295.26 46.19,274.57 46.22,282.82 46.26,283.34 46.29,272.82 46.32,276.01 46.36,303.06 46.39,278.06 46.42,280.00 46.46,285.88 46.49,280.37 46.52,292.13 46.56,239.51 46.59,294.70 46.62,289.51 46.66,297.21 46.69,304.70 46.72,285.48 46.76,270.80 46.79,293.80 46.82,300.86 46.86,278.95 46.89,267.00 46.92,248.63 46.96,283.11 46.99,291.29 47.02,281.58 47.06,277.67 47.09,272.14 47.12,278.23 47.16,295.22 47.19,270.37 47.22,285.77 47.26,298.22 47.29,296.45 47.32,297.21 47.36,269.03 47.39,284.74 47.42,280.58 47.46,266.63 47.49,278.81 47.52,271.28 47.56,292.04 47.59,271.89 47.62,265.89 47.66,284.19 47.69,263.08 47.72,262.86 47.76,286.61 47.79,287.73 47.82,290.69 47.86,290.05 47.89,281.34 47.92,266.37 47.96,265.55 47.99,292.81 48.02,259.70 48.06,295.31 48.09,270.69 48.12,272.08 48.16,312.20 48.19,266.18 48.22,275.29 48.26,305.11 48.29,283.89 48.32,266.38 48.36,274.35 48.39,285.43 48.42,293.17 48.46,274.33 48.49,275.85 48.52,277.52 48.56,291.72 48.59,280.93 48.62,308.31 48.66,275.52 48.69,284.93 48.72,311.08 48.76,294.26 48.79,269.86 48.82,286.59 48.86,256.91 48.89,295.65 48.92,269.22 48.95,312.40 48.99,288.03 49.02,302.35 49.05,261.40 49.09,287.29 49.12,290.94 49.15,288.16 49.19,295.74 49.22,290.44 49.25,261.90 49.29,262.66 49.32,283.88 49.35,322.78 49.39,285.56 49.42,284.69 49.45,281.80 49.49,278.17 49.52,270.94 49.55,259.45 49.59,278.42 49.62,298.66 49.65,290.06 49.69,270.34 49.72,299.43 49.75,284.16 49.79,274.81 49.82,283.71 49.85,294.90 49.89,293.37 49.92,279.24 49.95,297.39 49.99,311.32 50.02,269.52 50.05,255.86 50.09,288.83 50.12,262.68 50.15,271.64 50.19,280.92 50.22,280.75 50.25,305.50 50.29,284.15 50.32,289.82 50.35,294.33 50.39,297.33 50.42,273.76 50.45,312.76 50.49,318.05 50.52,288.88 50.55,281.88 50.59,284.27 50.62,278.76 50.65,288.14 50.69,268.11 50.72,284.08 50.75,278.58 50.79,309.78 50.82,269.68 50.85,284.98 50.89,285.14 50.92,284.76 50.95,296.85 50.99,263.34 51.02,273.47 51.05,292.14 51.09,273.76 51.12,267.33 51.15,304.57 51.19,287.00 51.22,293.20 51.25,278.94 51.29,274.76 51.32,289.29 51.35,263.59 51.39,250.01 51.42,278.19 51.45,269.05 51.49,279.39 51.52,276.94 51.55,290.38 51.59,283.46 51.62,264.50 51.65,289.19 51.69,262.61 51.72,259.67 51.75,303.85 51.79,293.06 51.82,259.08 51.85,284.85 51.89,289.68 51.92,305.76 51.95,279.23 51.99,267.58 52.02,290.02 52.05,323.45 52.09,256.38 52.12,301.43 52.15,281.33 52.19,272.10 52.22,264.40 52.25,258.13 52.28,277.95 52.32,275.45 52.35,280.82 52.38,301.16 52.42,306.97 52.45,276.84 52.48,290.80 52.52,285.68 52.55,301.78 52.58,276.29 52.62,274.56 52.65,273.45 52.68,286.06 52.72,313.51 52.75,247.51 52.78,298.54 52.82,266.46 52.85,271.17 52.88,243.12 52.92,294.60 52.95,257.21 52.98,285.68 53.02,280.21 53.05,283.06 53.08,282.35 53.12,286.08 53.15,286.56 53.18,256.14 53.22,297.80 53.25,265.22 53.28,291.66 53.32,270.42 53.35,272.19 53.38,308.33 53.42,284.35 53.45,273.62 53.48,294.31 53.52,268.77 53.55,300.24 53.58,312.21 53.62,297.93 53.65,279.85 53.68,275.06 53.72,280.92 53.75,276.91 53.78,260.25 53.82,282.87 53.85,289.78 53.88,271.63 53.92,277.67 53.95,247.63 53.98,284.90 54.02,255.97 54.05,288.36 54.08,287.94 54.12,259.27 54.15,271.72 54.18,274.06 54.22,267.86 54.25,272.22 54.28,274.95 54.32,291.08 54.35,273.63 54.38,266.32 54.42,283.04 54.45,304.29 54.48,306.92 54.52,283.30 54.55,279.73 54.58,287.93 54.62,255.87 54.65,299.88 54.68,322.33 54.72,288.26 54.75,296.13 54.78,258.59 54.82,282.71 54.85,281.79 54.88,288.58 54.92,250.10 54.95,270.92 54.98,292.21 55.02,299.70 55.05,276.85 55.08,281.56 55.12,286.56 55.15,294.24 55.18,311.71 55.22,290.79 55.25,282.41 55.28,270.52 55.32,260.29 55.35,264.25 55.38,278.80 55.42,296.15 55.45,296.32 55.48,295.05 55.52,292.63 55.55,276.53 55.58,296.79 55.61,267.33 55.65,263.88 55.68,299.31 55.71,247.27 55.75,291.25 55.78,279.51 55.81,261.13 55.85,304.04 55.88,286.92 55.91,287.88 55.95,284.95 55.98,294.66 56.01,287.70 56.05,282.52 56.08,262.29 56.11,267.57 56.15,301.95 56.18,289.49 56.21,272.92 56.25,288.84 56.28,296.33 56.31,272.36 56.35,294.41 56.38,262.54 56.41,277.34 56.45,266.73 56.48,263.23 56.51,279.36 56.55,285.61 56.58,272.88 56.61,313.94 56.65,293.77 56.68,270.61 56.71,306.94 56.75,267.59 56.78,243.78 56.81,287.15 56.85,252.26 56.88,265.26 56.91,261.48 56.95,308.00 56.98,289.95 57.01,290.57 57.05,273.31 57.08,260.41 57.11,266.75 57.15,288.10 57.18,280.41 57.21,303.12 57.25,275.79 57.28,294.16 57.31,309.57 57.35,287.60 57.38,299.91 57.41,313.25 57.45,297.58 57.48,300.90 57.51,278.08 57.55,287.75 57.58,263.74 57.61,254.77 57.65,248.32 57.68,267.45 57.71,261.33 57.75,279.05 57.78,270.46 57.81,287.96 57.85,298.30 57.88,293.39 57.91,275.78 57.95,268.32 57.98,286.81 58.01,277.93 58.05,266.46 58.08,274.82 58.11,278.92 58.15,256.65 58.18,283.22 58.21,287.22 58.25,285.34 58.28,266.47 58.31,273.92 58.35,273.41 58.38,282.09 58.41,273.83 58.45,297.75 58.48,269.30 58.51,269.54 58.55,283.05 58.58,279.98 58.61,276.31 58.65,282.60 58.68,288.60 58.71,275.36 58.75,277.15 58.78,278.15 58.81,248.23 58.85,294.61 58.88,282.59 58.91,298.94 58.94,279.73 58.98,292.26 59.01,275.43 59.04,283.56 59.08,295.63 59.11,271.83 59.14,276.27 59.18,273.57 59.21,269.66 59.24,291.15 59.28,294.35 59.31,290.85 59.34,303.68 59.38,292.19 59.41,269.24 59.44,291.62 59.48,297.87 59.51,276.13 59.54,289.71 59.58,278.28 59.61,279.92 59.64,279.90 59.68,286.76 59.71,293.22 59.74,290.49 59.78,270.04 59.81,270.88 59.84,295.56 59.88,277.39 59.91,270.38 59.94,262.21 59.98,281.78 60.01,270.20 60.04,300.64 60.08,313.72 60.11,287.76 60.14,293.10 60.18,292.58 60.21,287.20 60.24,270.96 60.28,260.66 60.31,296.58 60.34,286.60 60.38,291.45 60.41,294.41 60.44,306.67 60.48,293.38 60.51,248.09 60.54,271.53 60.58,268.78 60.61,285.74 60.64,250.26 60.68,297.30 60.71,316.43 60.74,248.53 60.78,273.47 60.81,266.48 60.84,280.62 60.88,299.39 60.91,299.68 60.94,283.35 60.98,275.52 61.01,266.39 61.04,302.67 61.08,287.23 61.11,322.87 61.14,268.32 61.18,280.58 61.21,273.54 61.24,255.60 61.28,265.39 61.31,293.18 61.34,261.36 61.38,273.17 61.41,260.72 61.44,274.92 61.48,262.26 61.51,300.83 61.54,291.59 61.58,261.34 61.61,293.75 61.64,289.89 61.68,303.19 61.71,279.87 61.74,287.55 61.78,303.99 61.81,280.77 61.84,259.36 61.88,292.76 61.91,302.20 61.94,276.53 61.98,268.27 62.01,286.00 62.04,245.20 62.08,275.94 62.11,268.61 62.14,267.87 62.18,251.81 62.21,304.56 62.24,290.04 62.27,284.38 62.31,280.35 62.34,249.75 62.37,292.87 62.41,276.23 62.44,264.05 62.47,260.84 62.51,272.36 62.54,263.39 62.57,280.21 62.61,308.28 62.64,253.84 62.67,290.16 62.71,300.62 62.74,287.45 62.77,285.21 62.81,286.07 62.84,291.89 62.87,273.87 62.91,287.76 62.94,288.72 62.97,278.81 63.01,266.50 63.04,291.10 63.07,294.01 63.11,279.07 63.14,295.99 63.17,308.56 63.21,277.33 63.24,283.93 63.27,293.35 63.31,267.44 63.34,284.15 63.37,278.02 63.41,257.21 63.44,262.38 63.47,286.41 63.51,273.56 63.54,300.22 63.57,286.00 63.61,287.64 63.64,269.89 63.67,291.47 63.71,287.79 63.74,268.96 63.77,278.95 63.81,298.01 63.84,261.60 63.87,299.44 63.91,280.55 63.94,286.98 63.97,286.09 64.01,269.74 64.04,288.78 64.07,295.74 64.11,309.22 64.14,296.81 64.17,285.26 64.21,276.84 64.24,273.45 64.27,297.11 64.31,286.00 64.34,244.58 64.37,272.75 64.41,290.99 64.44,293.74 64.47,281.60 64.51,301.94 64.54,254.90 64.57,265.46 64.61,264.94 64.64,279.18 64.67,297.35 64.71,311.50 64.74,306.13 64.77,280.55 64.81,297.74 64.84,276.22 64.87,291.48 64.91,283.55 64.94,273.45 64.97,311.91 65.01,281.25 65.04,282.67 65.07,270.85 65.11,276.20 65.14,279.60 65.17,268.95 65.21,269.32 65.24,282.32 65.27,279.98 65.31,291.58 65.34,279.15 65.37,286.30 65.41,313.45 65.44,290.75 65.47,248.65 65.51,288.81 65.54,284.31 65.57,289.78 65.60,302.16 65.64,290.55 65.67,303.05 65.70,280.85 65.74,275.12 65.77,278.05 65.80,275.30 65.84,279.96 65.87,283.69 65.90,270.73 65.94,286.26 65.97,293.18 66.00,284.89 66.04,284.84 66.07,276.96 66.10,248.56 66.14,259.86 66.17,323.46 66.20,269.42 66.24,282.46 66.27,286.50 66.30,300.49 66.34,293.39 66.37,308.81 66.40,304.76 66.44,269.92 66.47,279.87 66.50,296.83 66.54,275.88 66.57,280.37 66.60,280.10 66.64,278.75 66.67,274.96 66.70,275.88 66.74,302.91 66.77,276.54 66.80,293.29 66.84,297.71 66.87,271.98 66.90,278.24 66.94,298.59 66.97,274.50 67.00,290.07 67.04,274.85 67.07,275.21 67.10,276.18 67.14,283.44 67.17,270.67 67.20,300.81 67.24,285.76 67.27,290.26 67.30,295.89 67.34,290.83 67.37,285.27 67.40,300.20 67.44,268.49 67.47,269.73 67.50,263.76 67.54,274.40 67.57,270.96 67.60,265.84 67.64,290.04 67.67,293.28 67.70,248.16 67.74,305.08 67.77,268.89 67.80,293.82 67.84,270.31 67.87,273.02 67.90,311.62 67.94,288.08 67.97,257.26 68.00,262.03 68.04,293.48 68.07,289.23 68.10,273.94 68.14,301.74 68.17,297.38 68.20,303.43 68.24,279.87 68.27,285.51 68.30,252.04 68.34,263.82 68.37,251.17 68.40,285.26 68.44,284.10 68.47,295.66 68.50,263.15 68.54,275.97 68.57,278.49 68.60,290.74 68.64,291.12 68.67,266.00 68.70,265.29 68.74,271.65 68.77,328.39 68.80,284.04 68.84,292.76 68.87,282.58 68.90,268.36 68.94,289.92 68.97,291.39 69.00,295.58 69.03,282.80 69.07,289.72 69.10,281.89 69.13,272.92 69.17,270.29 69.20,290.27 69.23,285.32 69.27,276.64 69.30,278.15 69.33,267.09 69.37,298.73 69.40,258.14 69.43,296.37 69.47,278.08 69.50,277.10 69.53,271.72 69.57,283.20 69.60,275.67 69.63,268.26 69.67,248.13 69.70,267.84 69.73,315.28 69.77,266.23 69.80,294.54 69.83,285.47 69.87,287.04 69.90,265.70 69.93,282.57 69.97,280.58 70.00,290.69 70.03,268.62 70.07,297.33 70.10,255.23 70.13,284.92 70.17,262.48 70.20,290.57 70.23,284.75 70.27,286.10 70.30,267.19 70.33,291.68 70.37,281.52 70.40,302.11 70.43,282.00 70.47,273.32 70.50,269.65 70.53,267.46 70.57,273.69 70.60,256.20 70.63,276.19 70.67,324.26 70.70,282.65 70.73,269.00 70.77,296.72 70.80,283.71 70.83,287.33 70.87,305.25 70.90,273.60 70.93,295.34 70.97,283.26 71.00,282.09 71.03,266.25 71.07,268.06 71.10,283.34 71.13,252.69 71.17,246.08 71.20,272.02 71.23,280.39 71.27,279.62 71.30,281.02 71.33,283.87 71.37,259.07 71.40,263.50 71.43,282.05 71.47,290.16 71.50,313.93 71.53,302.08 71.57,286.34 71.60,280.73 71.63,265.58 71.67,279.60 71.70,297.57 71.73,291.42 71.77,285.41 71.80,281.70 71.83,241.69 71.87,294.50 71.90,279.58 71.93,252.39 71.97,321.42 72.00,270.11 72.03,267.91 72.07,268.26 72.10,306.59 72.13,270.89 72.17,281.33 72.20,289.67 72.23,292.29 72.27,286.19 72.30,270.62 72.33,286.92 72.36,277.82 72.40,283.55 72.43,304.20 72.46,276.60 72.50,267.90 72.53,288.13 72.56,268.61 72.60,287.55 72.63,271.39 72.66,281.07 72.70,266.39 72.73,279.63 72.76,266.12 72.80,286.17 72.83,291.48 72.86,259.63 72.90,285.86 72.93,292.84 72.96,259.68 73.00,278.40 73.03,266.92 73.06,242.69 73.10,296.02 73.13,280.87 73.16,239.37 73.20,271.57 73.23,282.08 73.26,277.33 73.30,275.32 73.33,274.32 73.36,287.46 73.40,276.81 73.43,301.50 73.46,293.85 73.50,302.70 73.53,278.20 73.56,278.14 73.60,295.01 73.63,280.29 73.66,274.28 73.70,289.69 73.73,287.42 73.76,261.51 73.80,268.66 73.83,302.53 73.86,283.03 73.90,288.64 73.93,262.13 73.96,290.08 74.00,254.30 74.03,290.10 74.06,264.96 74.10,299.88 74.13,266.44 74.16,297.55 74.20,260.91 74.23,289.93 74.26,297.55 74.30,294.35 74.33,297.83 74.36,292.79 74.40,249.06 74.43,281.13 74.46,286.34 74.50,283.67 74.53,283.97 74.56,279.30 74.60,295.41 74.63,293.74 74.66,272.01 74.70,281.33 74.73,280.72 74.76,297.26 74.80,297.58 74.83,241.82 74.86,270.80 74.90,275.47 74.93,277.86 74.96,267.77 75.00,298.21 75.03,287.68 75.06,264.56 75.10,275.68 75.13,275.54 75.16,279.72 75.20,291.31 75.23,266.07 75.26,294.29 75.30,278.98 75.33,309.68 75.36,256.99 75.40,303.43 75.43,279.88 75.46,286.43 75.50,267.42 75.53,287.20 75.56,276.70 75.59,290.84 75.63,295.08 75.66,241.64 75.69,267.84 75.73,276.19 75.76,302.82 75.79,288.86 75.83,284.35 75.86,287.57 75.89,253.77 75.93,252.89 75.96,281.73 75.99,289.37 76.03,276.31 76.06,283.57 76.09,292.71 76.13,274.47 76.16,275.95 76.19,282.42 76.23,274.37 76.26,306.77 76.29,267.21 76.33,289.43 76.36,294.54 76.39,299.16 76.43,280.99 76.46,290.60 76.49,273.36 76.53,281.77 76.56,271.44 76.59,288.78 76.63,290.34 76.66,272.44 76.69,294.41 76.73,285.39 76.76,274.96 76.79,282.24 76.83,277.64 76.86,307.46 76.89,266.71 76.93,297.32 76.96,280.10 76.99,272.69 77.03,313.44 77.06,286.17 77.09,270.95 77.13,297.41 77.16,299.57 77.19,264.23 77.23,283.86 77.26,288.85 77.29,272.12 77.33,298.77 77.36,272.46 77.39,279.31 77.43,293.72 77.46,284.18 77.49,298.07 77.53,283.97 77.56,285.53 77.59,289.99 77.63,276.49 77.66,300.87 77.69,287.00 77.73,292.39 77.76,281.08 77.79,291.84 77.83,319.84 77.86,288.20 77.89,279.41 77.93,270.07 77.96,295.93 77.99,285.44 78.03,270.66 78.06,290.90 78.09,269.83 78.13,274.88 78.16,269.34 78.19,286.80 78.23,273.86 78.26,292.64 78.29,252.09 78.33,269.25 78.36,257.26 78.39,289.21 78.43,271.02 78.46,271.23 78.49,286.62 78.53,317.61 78.56,243.89 78.59,270.21 78.63,306.85 78.66,300.82 78.69,274.41 78.73,291.24 78.76,296.02 78.79,293.79 78.83,271.35 78.86,268.99 78.89,274.00 78.92,249.60 78.96,265.81 78.99,296.09 79.02,272.36 79.06,295.46 79.09,287.40 79.12,280.76 79.16,277.63 79.19,272.70 79.22,281.69 79.26,301.93 79.29,319.31 79.32,289.42 79.36,288.48 79.39,278.34 79.42,277.72 79.46,267.83 79.49,288.18 79.52,297.11 79.56,276.07 79.59,277.72 79.62,282.52 79.66,285.68 79.69,288.69 79.72,273.30 79.76,272.02 79.79,277.18 79.82,290.19 79.86,259.11 79.89,288.25 79.92,280.46 79.96,273.13 79.99,265.03 80.02,259.16 80.06,309.50 80.09,283.32 80.12,300.15 80.16,264.69 80.19,272.85 80.22,251.31 80.26,288.67 80.29,282.13 80.32,265.77 80.36,290.86 80.39,291.99 80.42,311.48 80.46,300.54 80.49,278.87 80.52,288.15 80.56,281.75 80.59,293.23 80.62,287.26 80.66,263.44 80.69,288.02 80.72,286.48 80.76,285.09 80.79,255.91 80.82,288.94 80.86,283.50 80.89,254.63 80.92,269.87 80.96,305.47 80.99,240.92 81.02,302.94 81.06,265.09 81.09,293.33 81.12,300.83 81.16,300.23 81.19,292.96 81.22,262.97 81.26,285.40 81.29,261.24 81.32,304.20 81.36,249.65 81.39,291.48 81.42,281.48 81.46,281.57 81.49,281.51 81.52,276.25 81.56,281.14 81.59,286.75 81.62,269.66 81.66,296.43 81.69,288.33 81.72,282.07 81.76,261.42 81.79,304.92 81.82,291.70 81.86,277.79 81.89,294.78 81.92,300.60 81.96,284.46 81.99,274.94 82.02,281.12 82.06,279.17 82.09,283.47 82.12,293.78 82.16,296.88 82.19,290.49 82.22,284.51 82.25,281.73 82.29,294.64 82.32,278.32 82.35,285.86 82.39,270.98 82.42,282.13 82.45,288.23 82.49,281.74 82.52,278.96 82.55,290.71 82.59,275.68 82.62,245.81 82.65,276.75 82.69,257.43 82.72,272.68 82.75,284.28 82.79,269.14 82.82,307.31 82.85,260.35 82.89,276.88 82.92,288.72 82.95,310.32 82.99,305.75 83.02,261.60 83.05,252.60 83.09,282.06 83.12,276.48 83.15,271.67 83.19,304.75 83.22,290.92 83.25,260.43 83.29,287.22 83.32,296.80 83.35,279.16 83.39,293.55 83.42,272.33 83.45,276.83 83.49,298.64 83.52,262.66 83.55,255.53 83.59,302.62 83.62,283.89 83.65,249.71 83.69,291.78 83.72,274.43 83.75,265.96 83.79,302.11 83.82,289.12 83.85,314.89 83.89,281.50 83.92,270.12 83.95,296.15 83.99,283.99 84.02,293.81 84.05,261.95 84.09,278.51 84.12,287.92 84.15,258.34 84.19,239.85 84.22,291.59 84.25,254.41 84.29,306.03 84.32,273.94 84.35,265.61 84.39,273.44 84.42,267.60 84.45,319.30 84.49,294.58 84.52,282.33 84.55,286.08 84.59,315.28 84.62,288.29 84.65,288.20 84.69,305.98 84.72,320.96 84.75,265.91 84.79,273.61 84.82,311.01 84.85,297.72 84.89,302.09 84.92,286.51 84.95,302.27 84.99,295.46 85.02,290.55 85.05,292.63 85.09,276.53 85.12,281.47 85.15,302.12 85.19,271.08 85.22,290.96 85.25,290.38 85.29,289.53 85.32,271.54 85.35,298.31 85.39,289.95 85.42,279.70 85.45,279.78 85.49,283.42 85.52,288.04 85.55,269.63 85.58,283.29 85.62,287.00 85.65,285.12 85.68,284.18 85.72,273.79 85.75,274.54 85.78,289.92 85.82,278.57 85.85,309.62 85.88,293.92 85.92,291.22 85.95,308.21 85.98,256.01 86.02,260.91 86.05,292.28 86.08,282.35 86.12,277.68 86.15,276.82 86.18,279.32 86.22,298.26 86.25,314.32 86.28,298.50 86.32,266.99 86.35,273.10 86.38,290.55 86.42,271.35 86.45,267.24 86.48,299.72 86.52,263.50 86.55,283.12 86.58,274.82 86.62,287.12 86.65,262.79 86.68,292.09 86.72,271.76 86.75,303.66 86.78,283.94 86.82,282.27 86.85,267.98 86.88,275.96 86.92,285.21 86.95,284.30 86.98,289.33 87.02,295.65 87.05,275.40 87.08,274.09 87.12,286.81 87.15,295.30 87.18,303.92 87.22,295.60 87.25,333.23 87.28,249.49 87.32,307.43 87.35,269.80 87.38,284.28 87.42,272.38 87.45,287.57 87.48,268.42 87.52,282.27 87.55,276.74 87.58,282.62 87.62,260.84 87.65,256.29 87.68,280.98 87.72,273.15 87.75,286.46 87.78,286.66 87.82,283.73 87.85,299.06 87.88,286.63 87.92,279.35 87.95,287.99 87.98,270.78 88.02,281.31 88.05,281.25 88.08,291.89 88.12,292.77 88.15,293.94 88.18,286.45 88.22,292.48 88.25,288.16 88.28,308.72 88.32,279.34 88.35,272.66 88.38,303.15 88.42,272.45 88.45,281.47 88.48,291.86 88.52,277.02 88.55,298.90 88.58,299.72 88.62,285.90 88.65,277.95 88.68,292.10 88.72,268.27 88.75,291.49 88.78,268.71 88.82,308.28 88.85,275.10 88.88,284.77 88.91,286.08 88.95,273.25 88.98,248.92 89.01,253.53 89.05,261.19 89.08,268.40 89.11,285.09 89.15,288.85 89.18,282.74 89.21,305.74 89.25,261.37 89.28,265.58 89.31,287.76 89.35,286.41 89.38,283.33 89.41,284.94 89.45,281.12 89.48,308.95 89.51,297.81 89.55,291.92 89.58,302.21 89.61,277.29 89.65,276.08 89.68,264.14 89.71,286.58 89.75,305.70 89.78,261.58 89.81,285.83 89.85,284.61 89.88,271.05 89.91,304.23 89.95,304.77 89.98,274.99 90.01,297.59 90.05,308.91 90.08,266.65 90.11,289.75 90.15,295.39 90.18,270.57 90.21,299.76 90.25,300.48 90.28,300.58 90.31,302.25 90.35,289.03 90.38,279.83 90.41,291.01 90.45,305.13 90.48,303.82 90.51,284.44 90.55,263.43 90.58,285.27 90.61,296.67 90.65,282.20 90.68,305.65 90.71,293.40 90.75,281.66 90.78,262.22 90.81,276.98 90.85,266.52 90.88,273.18 90.91,312.48 90.95,302.95 90.98,257.17 91.01,265.15 91.05,276.62 91.08,296.23 91.11,280.49 91.15,318.80 91.18,276.02 91.21,257.03 91.25,287.68 91.28,324.71 91.31,287.85 91.35,287.67 91.38,284.99 91.41,273.25 91.45,291.42 91.48,287.23 91.51,279.70 91.55,258.62 91.58,281.32 91.61,268.57 91.65,278.15 91.68,302.04 91.71,289.38 91.75,286.96 91.78,274.23 91.81,284.33 91.85,288.53 91.88,265.67 91.91,283.89 91.95,238.46 91.98,263.92 92.01,285.32 92.05,269.74 92.08,270.39 92.11,296.36 92.15,279.44 92.18,283.63 92.21,290.22 92.25,275.15 92.28,287.42 92.31,274.87 92.34,275.67 92.38,278.03 92.41,281.39 92.44,262.79 92.48,283.78 92.51,280.75 92.54,290.48 92.58,295.23 92.61,291.08 92.64,280.27 92.68,290.47 92.71,291.86 92.74,323.70 92.78,283.42 92.81,296.21 92.84,253.86 92.88,267.71 92.91,256.91 92.94,281.89 92.98,298.02 93.01,265.51 93.04,273.30 93.08,268.27 93.11,295.58 93.14,294.06 93.18,294.38 93.21,276.43 93.24,304.60 93.28,285.48 93.31,275.31 93.34,285.35 93.38,275.41 93.41,274.67 93.44,293.33 93.48,285.77 93.51,276.56 93.54,294.66 93.58,287.20 93.61,282.30 93.64,271.30 93.68,259.40 93.71,293.26 93.74,287.65 93.78,284.92 93.81,266.54 93.84,256.07 93.88,295.78 93.91,270.11 93.94,265.15 93.98,275.54 94.01,276.90 94.04,293.43 94.08,280.52 94.11,260.97 94.14,254.87 94.18,254.61 94.21,279.95 94.24,286.96 94.28,284.70 94.31,251.39 94.34,270.78 94.38,260.22 94.41,297.48 94.44,278.80 94.48,263.38 94.51,277.87 94.54,262.33 94.58,294.76 94.61,286.29 94.64,258.52 94.68,297.76 94.71,294.77 94.74,251.00 94.78,296.40 94.81,273.39 94.84,301.32 94.88,294.09 94.91,280.23 94.94,289.64 94.98,290.72 95.01,271.57 95.04,255.17 95.08,264.87 95.11,293.19 95.14,292.42 95.18,292.21 95.21,262.84 95.24,268.96 95.28,266.30 95.31,291.01 95.34,276.24 95.38,260.73 95.41,288.74 95.44,288.26 95.48,311.05 95.51,277.45 95.54,271.13 95.57,285.13 95.61,259.56 95.64,293.08 95.67,276.81 95.71,269.47 95.74,280.57 95.77,261.04 95.81,268.38 95.84,286.29 95.87,281.60 95.91,324.70 95.94,278.60 95.97,254.59 96.01,283.45 96.04,281.25 96.07,232.30 96.11,299.38 96.14,283.31 96.17,290.81 96.21,286.95 96.24,286.71 96.27,249.95 96.31,268.69 96.34,279.14 96.37,268.65 96.41,279.69 96.44,278.94 96.47,272.64 96.51,262.87 96.54,282.66 96.57,296.70 96.61,260.46 96.64,256.49 96.67,248.36 96.71,277.04 96.74,274.86 96.77,259.75 96.81,287.54 96.84,280.45 96.87,289.07 96.91,292.73 96.94,310.04 96.97,300.96 97.01,269.25 97.04,298.04 97.07,305.87 97.11,285.78 97.14,264.20 97.17,282.56 97.21,277.92 97.24,269.26 97.27,303.08 97.31,295.45 97.34,268.22 97.37,281.58 97.41,309.22 97.44,281.64 97.47,249.65 97.51,309.22 97.54,285.46 97.57,259.66 97.61,294.01 97.64,278.20 97.67,282.63 97.71,268.31 97.74,272.48 97.77,271.24 97.81,286.68 97.84,283.40 97.87,299.65 97.91,301.37 97.94,257.41 97.97,278.20 98.01,271.73 98.04,289.93 98.07,283.74 98.11,311.83 98.14,260.74 98.17,277.26 98.21,297.98 98.24,289.52 98.27,268.22 98.31,268.82 98.34,287.89 98.37,307.29 98.41,284.93 98.44,289.18 98.47,270.59 98.51,320.28 98.54,304.66 98.57,280.09 98.61,279.11 98.64,250.23 98.67,268.45 98.71,250.63 98.74,263.29 98.77,332.85 98.81,317.60 98.84,273.17 98.87,281.17 98.91,282.28 98.94,270.09 98.97,275.90 99.00,235.99 99.04,277.38 99.07,283.06 99.10,300.18 99.14,287.93 99.17,295.76 99.20,258.66 99.24,294.40 99.27,278.35 99.30,276.72 99.34,269.73 99.37,310.34 99.40,255.19 99.44,301.13 99.47,303.40 99.50,273.75 99.54,300.51 99.57,296.71 99.60,289.29 99.64,277.84 99.67,267.25 99.70,296.88 99.74,296.95 99.77,253.80 99.80,286.77 99.84,269.05 99.87,281.33 99.90,291.85 99.94,268.50 99.97,290.52 100.00,285.30 100.04,285.96 100.07,281.38 100.10,283.85 100.14,275.30 100.17,287.31 100.20,303.45 100.24,271.38 100.27,270.86 100.30,267.50 100.34,269.54 100.37,280.23 100.40,285.38 100.44,277.73 100.47,276.54 100.50,280.07 100.54,276.19 100.57,292.98 100.60,280.72 100.64,286.50 100.67,290.28 100.70,260.14 100.74,294.12 100.77,270.10 100.80,266.75 100.84,275.10 100.87,274.66 100.90,293.64 100.94,288.96 100.97,305.71 101.00,298.79 101.04,309.33 101.07,283.81 101.10,284.52 101.14,272.40 101.17,279.71 101.20,294.83 101.24,298.02 101.27,287.21 101.30,279.50 101.34,269.76 101.37,277.03 101.40,285.17 101.44,272.88 101.47,292.74 101.50,275.96 101.54,273.11 101.57,270.26 101.60,287.81 101.64,270.19 101.67,268.99 101.70,286.82 101.74,283.78 101.77,286.33 101.80,282.11 101.84,270.68 101.87,313.64 101.90,250.24 101.94,255.88 101.97,254.94 102.00,270.55 102.04,289.97 102.07,244.68 102.10,292.52 102.14,289.19 102.17,292.35 102.20,269.23 102.23,283.07 102.27,313.62 102.30,277.03 102.33,303.51 102.37,267.01 102.40,286.97 102.43,299.42 102.47,274.61 102.50,304.04 102.53,285.78 102.57,301.16 102.60,277.69 102.63,282.76 102.67,265.47 102.70,284.96 102.73,311.66 102.77,287.36 102.80,294.29 102.83,307.41 102.87,296.44 102.90,280.44 102.93,273.71 102.97,291.02 103.00,291.48 103.03,286.32 103.07,262.68 103.10,325.42 103.13,247.31 103.17,270.02 103.20,290.00 103.23,268.54 103.27,298.86 103.30,262.68 103.33,279.85 103.37,305.62 103.40,287.18 103.43,259.42 103.47,290.55 103.50,280.07 103.53,271.06 103.57,271.95 103.60,272.36 103.63,297.86 103.67,265.00 103.70,265.62 103.73,280.09 103.77,276.77 103.80,280.00 103.83,282.29 103.87,281.45 103.90,268.35 103.93,296.97 103.97,291.66 104.00,312.47 104.03,292.13 104.07,275.78 104.10,287.20 104.13,269.16 104.17,296.01 104.20,300.86 104.23,289.98 104.27,291.35 104.30,303.03 104.33,294.84 104.37,257.81 104.40,279.26 104.43,298.14 104.47,301.43 104.50,282.63 104.53,266.95 104.57,253.40 104.60,278.41 104.63,265.07 104.67,277.03 104.70,264.55 104.73,288.67 104.77,298.89 104.80,258.83 104.83,279.66 104.87,286.15 104.90,267.01 104.93,284.10 104.97,268.03 105.00,262.35 105.03,274.54 105.07,286.32 105.10,287.69 105.13,279.96 105.17,278.51 105.20,279.59 105.23,283.13 105.27,295.42 105.30,288.70 105.33,296.51 105.37,255.45 105.40,289.40 105.43,258.01 105.47,294.49 105.50,298.79 105.53,314.56 105.56,264.00 105.60,269.79 105.63,285.00 105.66,255.22 105.70,271.32 105.73,276.49 105.76,267.79 105.80,285.33 105.83,300.11 105.86,278.88 105.90,278.46 105.93,282.64 105.96,268.92 106.00,292.06 106.03,287.37 106.06,293.94 106.10,284.20 106.13,292.90 106.16,285.19 106.20,299.64 106.23,277.72 106.26,292.50 106.30,277.95 106.33,281.82 106.36,274.76 106.40,292.01 106.43,278.64 106.46,280.75 106.50,282.04 106.53,296.97 106.56,277.00 106.60,302.60 106.63,272.23 106.66,277.24 106.70,287.13 106.73,307.28 106.76,278.91 106.80,289.42 106.83,288.01 106.86,296.10 106.90,275.58 106.93,297.46 106.96,279.50 107.00,288.98 107.03,317.64 107.06,314.39 107.10,299.11 107.13,279.15 107.16,291.43 107.20,301.71 107.23,255.56 107.26,278.67 107.30,278.16 107.33,279.89 107.36,286.76 107.40,299.70 107.43,275.48 107.46,260.80 107.50,289.92 107.53,273.43 107.56,293.92 107.60,291.40 107.63,288.30 107.66,257.30 107.70,273.14 107.73,267.59 107.76,273.33 107.80,294.74 107.83,276.31 107.86,281.72 107.90,302.29 107.93,258.98 107.96,281.19 108.00,264.99 108.03,271.24 108.06,295.34 108.10,297.50 108.13,305.21 108.16,309.22 108.20,264.96 108.23,268.59 108.26,293.27 108.30,283.06 108.33,290.52 108.36,289.32 108.40,306.02 108.43,248.94 108.46,265.38 108.50,260.82 108.53,305.95 108.56,291.55 108.60,308.88 108.63,301.96 108.66,294.24 108.70,265.45 108.73,317.35 108.76,222.72 108.80,276.47 108.83,281.30 108.86,270.81 108.89,286.32 108.93,274.76 108.96,267.21 108.99,275.43 109.03,281.26 109.06,299.42 109.09,288.68 109.13,283.37 109.16,278.63 109.19,281.55 109.23,274.20 109.26,271.62 109.29,272.39 109.33,282.66 109.36,273.86 109.39,276.86 109.43,288.18 109.46,278.48 109.49,284.58 109.53,287.88 109.56,281.65 109.59,293.70 109.63,285.65 109.66,296.82 109.69,268.47 109.73,267.78 109.76,275.83 109.79,296.38 109.83,284.86 109.86,297.41 109.89,300.74 109.93,279.95 109.96,281.73 109.99,289.95 110.03,267.35 110.06,279.81 110.09,292.74 110.13,256.37 110.16,295.29 110.19,272.51 110.23,268.01 110.26,305.92 110.29,292.59 110.33,290.53 110.36,284.20 110.39,275.74 110.43,275.74 110.46,288.39 110.49,272.70 110.53,276.33 110.56,287.20 110.59,277.14 110.63,284.37 110.66,276.13 110.69,267.02 110.73,291.50 110.76,293.84 110.79,278.65 110.83,286.15 110.86,312.66 110.89,264.15 110.93,268.93 110.96,284.84 110.99,290.07 111.03,282.28 111.06,301.73 111.09,296.33 111.13,282.90 111.16,278.31 111.19,280.34 111.23,273.59 111.26,257.87 111.29,260.90 111.33,285.08 111.36,265.23 111.39,315.93 111.43,269.47 111.46,272.62 111.49,285.29 111.53,314.98 111.56,271.46 111.59,271.58 111.63,264.54 111.66,290.27 111.69,296.48 111.73,289.96 111.76,286.47 111.79,280.62 111.83,274.79 111.86,283.59 111.89,266.97 111.93,301.44 111.96,279.02 111.99,284.37 112.03,258.76 112.06,280.70 112.09,316.44 112.13,287.20 112.16,300.50 112.19,258.78 112.22,275.91 112.26,279.07 112.29,293.17 112.32,295.80 112.36,283.98 112.39,279.14 112.42,276.35 112.46,292.44 112.49,292.88 112.52,281.36 112.56,282.33 112.59,289.67 112.62,297.67 112.66,282.23 112.69,271.04 112.72,274.56 112.76,280.07 112.79,283.97 112.82,291.25 112.86,271.65 112.89,306.60 112.92,300.63 112.96,273.20 112.99,258.35 113.02,285.63 113.06,261.09 113.09,268.21 113.12,273.44 113.16,279.13 113.19,291.48 113.22,301.47 113.26,281.16 113.29,272.40 113.32,299.04 113.36,283.17 113.39,263.58 113.42,297.12 113.46,287.99 113.49,297.64 113.52,292.80 113.56,306.17 113.59,277.76 113.62,287.55 113.66,298.32 113.69,295.52 113.72,294.96 113.76,273.73 113.79,299.38 113.82,276.39 113.86,297.47 113.89,273.19 113.92,276.27 113.96,281.66 113.99,273.86 114.02,297.89 114.06,276.37 114.09,278.41 114.12,280.42 114.16,296.55 114.19,286.29 114.22,279.53 114.26,296.60 114.29,290.21 114.32,276.67 114.36,285.11 114.39,270.56 114.42,286.84 114.46,283.48 114.49,294.03 114.52,293.28 114.56,291.06 114.59,268.93 114.62,302.27 114.66,287.24 114.69,259.42 114.72,286.52 114.76,274.84 114.79,284.38 114.82,295.71 114.86,276.39 114.89,262.68 114.92,301.40 114.96,301.69 114.99,293.25 115.02,279.42 115.06,306.01 115.09,277.51 115.12,294.43 115.16,275.00 115.19,271.00 115.22,284.25 115.26,290.64 115.29,295.54 115.32,288.13 115.36,282.18 115.39,280.05 115.42,273.36 115.46,263.01 115.49,306.77 115.52,269.39 115.55,257.71 115.59,265.81 115.62,291.78 115.65,303.92 115.69,277.58 115.72,287.20 115.75,276.07 115.79,283.50 115.82,293.69 115.85,281.37 115.89,261.87 115.92,272.18 115.95,264.90 115.99,289.00 116.02,289.08 116.05,278.59 116.09,299.65 116.12,297.97 116.15,298.11 116.19,287.73 116.22,275.80 116.25,296.20 116.29,268.83 116.32,259.68 116.35,278.85 116.39,286.65 116.42,272.60 116.45,282.34 116.49,307.96 116.52,285.30 116.55,264.16 116.59,263.54 116.62,273.64 116.65,286.78 116.69,276.31 116.72,271.84 116.75,269.16 116.79,275.98 116.82,309.78 116.85,266.85 116.89,288.80 116.92,298.90 116.95,272.60 116.99,269.12 117.02,283.56 117.05,278.12 117.09,283.94 117.12,263.90 117.15,284.36 117.19,271.99 117.22,281.10 117.25,305.71 117.29,294.40 117.32,262.75 117.35,297.72 117.39,306.43 117.42,287.29 117.45,256.86 117.49,264.32 117.52,303.57 117.55,291.71 117.59,286.14 117.62,298.93 117.65,286.97 117.69,290.02 117.72,290.69 117.75,267.55 117.79,269.60 117.82,288.05 117.85,276.38 117.89,291.64 117.92,266.42 117.95,288.47 117.99,266.54 118.02,266.81 118.05,282.48 118.09,302.46 118.12,277.51 118.15,291.59 118.19,302.70 118.22,272.96 118.25,275.62 118.29,265.57 118.32,252.07 118.35,278.31 118.39,289.03 118.42,274.67 118.45,289.92 118.49,284.59 118.52,318.87 118.55,308.63 118.59,268.96 118.62,284.01 118.65,288.54 118.69,268.41 118.72,297.73 118.75,296.65 118.79,280.45 118.82,274.67 118.85,279.08 118.88,304.80 118.92,274.43 118.95,281.60 118.98,294.93 119.02,278.95 119.05,279.66 119.08,284.84 119.12,263.80 119.15,281.51 119.18,271.45 119.22,296.74 119.25,282.05 119.28,274.55 119.32,297.14 119.35,308.73 119.38,294.19 119.42,281.08 119.45,285.15 119.48,310.64 119.52,280.73 119.55,283.75 119.58,276.41 119.62,290.45 119.65,295.44 119.68,285.19 119.72,277.36 119.75,294.72 119.78,281.03 119.82,283.73 119.85,275.22 119.88,299.97 119.92,275.42 119.95,283.57 119.98,278.22 120.02,274.99 120.05,281.33 120.08,273.90 120.12,299.35 120.15,294.01 120.18,273.58 120.22,283.24 120.25,264.09 120.28,269.85 120.32,279.51 120.35,290.90 120.38,290.80 120.42,265.23 120.45,266.92 120.48,275.65 120.52,290.40 120.55,284.82 120.58,274.06 120.62,276.81 120.65,240.04 120.68,293.09 120.72,265.98 120.75,287.54 120.78,294.21 120.82,294.85 120.85,271.43 120.88,279.36 120.92,284.65 120.95,283.32 120.98,289.81 121.02,278.82 121.05,287.78 121.08,295.25 121.12,278.52 121.15,254.62 121.18,294.61 121.22,281.61 121.25,274.90 121.28,278.43 121.32,267.22 121.35,272.08 121.38,298.69 121.42,302.31 121.45,298.79 121.48,274.38 121.52,291.08 121.55,290.65 121.58,298.85 121.62,286.90 121.65,289.92 121.68,294.91 121.72,292.21 121.75,270.42 121.78,271.87 121.82,264.15 121.85,291.12 121.88,265.64 121.92,288.56 121.95,284.16 121.98,281.41 122.02,273.97 122.05,283.52 122.08,299.73 122.12,273.89 122.15,275.39 122.18,292.18 122.22,271.82 122.25,279.28 122.28,274.55 122.31,289.25 122.35,281.32 122.38,288.10 122.41,311.12 122.45,253.56 122.48,268.58 122.51,281.44 122.55,297.62 122.58,299.93 122.61,257.87 122.65,279.32 122.68,284.95 122.71,301.50 122.75,297.67 122.78,281.18 122.81,290.78 122.85,282.86 122.88,271.34 122.91,263.77 122.95,285.71 122.98,264.61 123.01,266.45 123.05,279.88 123.08,294.68 123.11,288.61 123.15,280.68 123.18,289.41 123.21,287.67 123.25,281.90 123.28,278.57 123.31,289.77 123.35,276.28 123.38,271.32 123.41,282.22 123.45,286.64 123.48,298.41 123.51,301.90 123.55,286.89 123.58,303.50 123.61,293.61 123.65,256.91 123.68,305.51 123.71,247.79 123.75,291.90 123.78,271.05 123.81,293.15 123.85,287.66 123.88,290.60 123.91,283.84 123.95,294.16 123.98,294.20 124.01,292.66 124.05,293.07 124.08,276.19 124.11,282.15 124.15,270.45 124.18,268.84 124.21,249.91 124.25,286.26 124.28,282.96 124.31,267.60 124.35,320.14 124.38,280.35 124.41,299.46 124.45,315.81 124.48,281.95 124.51,282.46 124.55,274.99 124.58,264.46 124.61,316.68 124.65,262.50 124.68,284.96 124.71,301.79 124.75,306.82 124.78,258.05 124.81,279.06 124.85,303.75 124.88,258.36 124.91,290.60 124.95,265.79 124.98,293.73 125.01,263.43 125.05,269.97 125.08,313.87 125.11,271.72 125.15,267.94 125.18,285.30 125.21,286.89 125.25,287.11 125.28,291.06 125.31,276.18 125.35,309.50 125.38,251.29 125.41,283.50 125.45,290.65 125.48,306.39 125.51,280.48 125.55,265.05 125.58,286.54 125.61,295.72 125.64,283.47 125.68,253.36 125.71,265.22 125.74,268.66 125.78,265.49 125.81,288.94 125.84,275.11 125.88,287.11 125.91,284.51 125.94,264.69 125.98,292.50 126.01,275.45 126.04,265.97 126.08,265.46 126.11,269.99 126.14,268.19 126.18,268.72 126.21,278.20 126.24,266.20 126.28,280.75 126.31,299.13 126.34,288.16 126.38,270.22 126.41,279.79 126.44,266.49 126.48,262.14 126.51,278.29 126.54,271.87 126.58,270.65 126.61,277.14 126.64,305.87 126.68,252.88 126.71,290.83 126.74,294.84 126.78,258.63 126.81,293.67 126.84,307.23 126.88,280.33 126.91,298.36 126.94,289.28 126.98,279.91 127.01,279.68 127.04,289.19 127.08,290.73 127.11,313.08 127.14,279.57 127.18,283.57 127.21,282.92 127.24,286.25 127.28,275.05 127.31,261.22 127.34,270.25 127.38,258.86 127.41,286.09 127.44,312.73 127.48,296.11 127.51,275.25 127.54,292.98 127.58,284.42 127.61,291.71 127.64,287.07 127.68,291.49 127.71,275.33 127.74,290.37 127.78,279.71 127.81,263.71 127.84,268.34 127.88,280.57 127.91,266.04 127.94,250.97 127.98,263.50 128.01,278.11 128.04,244.85 128.08,257.57 128.11,293.60 128.14,273.13 128.18,285.68 128.21,269.31 128.24,297.13 128.28,278.78 128.31,285.65 128.34,289.04 128.38,283.99 128.41,264.31 128.44,234.14 128.48,278.94 128.51,276.98 128.54,278.66 128.58,311.95 128.61,286.50 128.64,272.33 128.68,280.95 128.71,285.75 128.74,272.81 128.78,273.27 128.81,269.94 128.84,280.06 128.88,282.75 128.91,277.58 128.94,269.75 128.97,288.76 129.01,268.35 129.04,280.03 129.07,285.33 129.11,262.99 129.14,290.06 129.17,316.53 129.21,280.16 129.24,282.00 129.27,272.41 129.31,278.06 129.34,262.92 129.37,271.01 129.41,290.63 129.44,262.52 129.47,278.09 129.51,309.84 129.54,271.35 129.57,269.32 129.61,277.15 129.64,280.90 129.67,288.95 129.71,293.51 129.74,272.26 129.77,293.04 129.81,243.19 129.84,273.63 129.87,275.14 129.91,281.76 129.94,268.76 129.97,292.90 130.01,268.72 130.04,284.07 130.07,264.89 130.11,279.55 130.14,286.62 130.17,299.14 130.21,294.94 130.24,294.96 130.27,275.01 130.31,283.91 130.34,290.68 130.37,301.03 130.41,277.55 130.44,278.11 130.47,285.28 130.51,292.42 130.54,276.72 130.57,312.48 130.61,283.39 130.64,267.24 130.67,273.60 130.71,264.91 130.74,279.42 130.77,270.06 130.81,276.43 130.84,307.60 130.87,283.50 130.91,289.56 130.94,270.84 130.97,280.31 131.01,287.03 131.04,267.75 131.07,279.78 131.11,289.61 131.14,279.96 131.17,280.34 131.21,265.12 131.24,283.72 131.27,302.45 131.31,278.81 131.34,256.51 131.37,274.18 131.41,265.84 131.44,286.08 131.47,293.69 131.51,297.41 131.54,310.42 131.57,279.12 131.61,273.69 131.64,294.67 131.67,282.23 131.71,296.10 131.74,275.61 131.77,277.41 131.81,303.51 131.84,276.91 131.87,254.02 131.91,296.15 131.94,271.69 131.97,304.97 132.01,288.64 132.04,284.99 132.07,269.14 132.11,271.46 132.14,279.55 132.17,284.02 132.20,278.30 132.24,287.42 132.27,279.60 132.30,279.99 132.34,289.43 132.37,283.37 132.40,308.42 132.44,262.41 132.47,287.55 132.50,285.40 132.54,278.99 132.57,273.05 132.60,276.82 132.64,288.61 132.67,254.99 132.70,277.65 132.74,293.52 132.77,310.45 132.80,279.04 132.84,305.01 132.87,282.27 132.90,283.23 132.94,298.37 132.97,296.15 133.00,313.69 133.04,307.12 133.07,283.98 133.10,290.07 133.14,276.85 133.17,270.37 133.20,247.38 133.24,271.84 133.27,251.29 133.30,236.01 133.34,315.99 133.37,288.40 133.40,284.31 133.44,301.38 133.47,271.24 133.50,265.11 133.54,271.12 133.57,289.42 133.60,285.63 133.64,258.83 133.67,292.58 133.70,279.83 133.74,288.40 133.77,285.53 133.80,283.08 133.84,263.75 133.87,287.16 133.90,294.48 133.94,283.32 133.97,281.15 134.00,283.08 134.04,301.14 134.07,287.94 134.10,262.27 134.14,254.32 134.17,274.16 134.20,272.92 134.24,291.29 134.27,281.91 134.30,289.98 134.34,272.72 134.37,276.55 134.40,300.89 134.44,295.52 134.47,289.13 134.50,320.10 134.54,264.24 134.57,261.47 134.60,263.22 134.64,266.92 134.67,294.80 134.70,304.88 134.74,281.44 134.77,268.99 134.80,283.48 134.84,272.81 134.87,278.05 134.90,271.50 134.94,301.56 134.97,267.41 135.00,283.69 135.04,320.13 135.07,318.78 135.10,290.16 135.14,278.86 135.17,274.97 135.20,274.00 135.24,279.01 135.27,269.03 135.30,304.44 135.34,277.61 135.37,285.66 135.40,296.59 135.44,291.39 135.47,248.31 135.50,269.86 135.53,304.63 135.57,288.82 135.60,297.92 135.63,280.82 135.67,309.04 135.70,274.61 135.73,290.66 135.77,301.49 135.80,244.81 135.83,283.30 135.87,288.74 135.90,270.40 135.93,278.67 135.97,292.59 136.00,265.45 136.03,272.43 136.07,278.12 136.10,283.06 136.13,290.42 136.17,283.64 136.20,261.81 136.23,296.23 136.27,280.43 136.30,273.01 136.33,278.57 136.37,304.56 136.40,257.03 136.43,278.11 136.47,279.85 136.50,321.33 136.53,285.91 136.57,286.52 136.60,256.86 136.63,286.43 136.67,296.13 136.70,282.76 136.73,274.76 136.77,277.25 136.80,269.69 136.83,288.34 136.87,275.45 136.90,294.84 136.93,302.13 136.97,271.45 137.00,304.74 137.03,298.44 137.07,291.38 137.10,295.44 137.13,277.38 137.17,243.65 137.20,276.48 137.23,286.34 137.27,284.46 137.30,254.85 137.33,278.13 137.37,276.48 137.40,256.22 137.43,307.71 137.47,265.39 137.50,302.62 137.53,279.46 137.57,315.36 137.60,289.77 137.63,307.54 137.67,270.19 137.70,287.94 137.73,261.26 137.77,285.57 137.80,292.29 137.83,277.74 137.87,285.10 137.90,282.30 137.93,272.46 137.97,285.72 138.00,274.24 138.03,316.08 138.07,261.64 138.10,282.78 138.13,294.89 138.17,255.95 138.20,277.45 138.23,295.96 138.27,284.33 138.30,274.25 138.33,306.09 138.37,297.40 138.40,291.38 138.43,282.29 138.47,276.07 138.50,274.44 138.53,284.34 138.57,299.84 138.60,278.27 138.63,290.54 138.67,294.50 138.70,311.77 138.73,299.85 138.77,298.40 138.80,298.34 138.83,292.31 138.87,261.83 138.90,280.85 138.93,283.82 138.96,286.77 139.00,266.28 139.03,284.90 139.06,309.42 139.10,304.53 139.13,287.82 139.16,295.96 139.20,264.83 139.23,267.13 139.26,275.08 139.30,258.06 139.33,305.44 139.36,291.71 139.40,282.90 139.43,266.43 139.46,298.19 139.50,249.49 139.53,256.53 139.56,291.70 139.60,279.11 139.63,277.92 139.66,306.36 139.70,300.08 139.73,260.82 139.76,274.62 139.80,271.62 139.83,299.13 139.86,280.45 139.90,286.40 139.93,298.25 139.96,285.77 140.00,284.41 140.03,279.74 140.06,277.72 140.10,255.12 140.13,296.29 140.16,263.34 140.20,257.90 140.23,263.52 140.26,275.34 140.30,271.40 140.33,264.82 140.36,296.44 140.40,299.68 140.43,290.20 140.46,292.58 140.50,280.12 140.53,295.34 140.56,289.75 140.60,279.17 140.63,285.34 140.66,273.44 140.70,272.03 140.73,277.77 140.76,284.21 140.80,260.50 140.83,273.10 140.86,298.71 140.90,292.42 140.93,257.63 140.96,272.89 141.00,273.26 141.03,245.92 141.06,269.72 141.10,291.62 141.13,289.22 141.16,282.02 141.20,301.42 141.23,275.37 141.26,308.59 141.30,290.74 141.33,287.36 141.36,285.16 141.40,291.52 141.43,291.53 141.46,258.65 141.50,276.09 141.53,292.24 141.56,270.21 141.60,286.48 141.63,263.47 141.66,292.70 141.70,300.71 141.73,288.35 141.76,277.26 141.80,259.55 141.83,265.19 141.86,240.77 141.90,276.38 141.93,270.46 141.96,259.88 142.00,312.30 142.03,267.41 142.06,293.37 142.10,279.79 142.13,292.71 142.16,264.57 142.19,305.87 142.23,287.52 142.26,295.38 142.29,302.69 142.33,263.72 142.36,270.04 142.39,255.09 142.43,263.20 142.46,291.84 142.49,284.38 142.53,279.94 142.56,281.83 142.59,269.09 142.63,281.40 142.66,285.82 142.69,291.12 142.73,279.07 142.76,286.61 142.79,311.72 142.83,271.40 142.86,282.46 142.89,285.20 142.93,265.36 142.96,294.02 142.99,293.15 143.03,276.32 143.06,320.51 143.09,286.76 143.13,298.63 143.16,258.09 143.19,252.08 143.23,296.31 143.26,259.80 143.29,295.04 143.33,251.83 143.36,252.78 143.39,299.43 143.43,278.56 143.46,274.35 143.49,291.41 143.53,284.15 143.56,271.66 143.59,280.83 143.63,259.54 143.66,272.97 143.69,277.22 143.73,277.54 143.76,236.17 143.79,262.19 143.83,303.84 143.86,284.64 143.89,277.93 143.93,278.65 143.96,287.35 143.99,300.62 144.03,295.07 144.06,243.29 144.09,293.36 144.13,285.87 144.16,285.18 144.19,260.74 144.23,276.19 144.26,294.46 144.29,265.54 144.33,274.05 144.36,292.48 144.39,283.21 144.43,304.69 144.46,289.34 144.49,283.38 144.53,300.26 144.56,265.28 144.59,296.22 144.63,290.52 144.66,303.41 144.69,266.59 144.73,304.22 144.76,265.39 144.79,275.01 144.83,280.23 144.86,302.40 144.89,296.86 144.93,273.64 144.96,285.94 144.99,284.20 145.03,294.24 145.06,266.45 145.09,284.69 145.13,293.92 145.16,265.76 145.19,277.06 145.23,290.34 145.26,293.01 145.29,270.82 145.33,272.31 145.36,271.07 145.39,268.82 145.43,272.79 145.46,288.36 145.49,266.43 145.52,308.99 145.56,273.68 145.59,298.81 145.62,276.09 145.66,273.86 145.69,299.30 145.72,292.68 145.76,289.87 145.79,297.59 145.82,250.65 145.86,269.11 145.89,295.70 145.92,246.75 145.96,262.97 145.99,282.10 146.02,268.18 146.06,251.97 146.09,271.25 146.12,299.93 146.16,270.11 146.19,285.94 146.22,296.06 146.26,266.30 146.29,251.90 146.32,279.79 146.36,283.83 146.39,276.72 146.42,265.20 146.46,294.12 146.49,260.17 146.52,303.07 146.56,268.05 146.59,264.57 146.62,288.37 146.66,260.26 146.69,275.73 146.72,255.17 146.76,278.20 146.79,299.35 146.82,320.46 146.86,268.81 146.89,274.81 146.92,287.44 146.96,250.76 146.99,296.80 147.02,264.05 147.06,293.90 147.09,288.89 147.12,258.24 147.16,233.20 147.19,283.86 147.22,273.62 147.26,297.58 147.29,303.94 147.32,291.58 147.36,262.69 147.39,270.64 147.42,283.25 147.46,290.88 147.49,270.64 147.52,272.38 147.56,276.73 147.59,268.47 147.62,285.88 147.66,320.68 147.69,251.63 147.72,278.27 147.76,284.51 147.79,279.03 147.82,237.21 147.86,299.70 147.89,290.38 147.92,303.10 147.96,298.08 147.99,290.85 148.02,288.31 148.06,298.90 148.09,279.50 148.12,276.91 148.16,265.03 148.19,285.20 148.22,298.64 148.26,269.55 148.29,319.49 148.32,310.42 148.36,317.05 148.39,275.77 148.42,290.64 148.46,259.40 148.49,254.85 148.52,278.52 148.56,324.98 148.59,257.19 148.62,264.77 148.66,268.91 148.69,308.95 148.72,298.63 148.76,270.60 148.79,273.26 148.82,322.12 148.86,281.94 148.89,277.40 148.92,311.78 148.95,262.83 148.99,275.49 149.02,279.00 149.05,292.43 149.09,252.89 149.12,295.28 149.15,289.92 149.19,282.44 149.22,273.58 149.25,287.45 149.29,292.47 149.32,270.95 149.35,276.63 149.39,290.93 149.42,277.83 149.45,280.14 149.49,285.00 149.52,282.72 149.55,273.37 149.59,284.82 149.62,290.95 149.65,290.39 149.69,270.52 149.72,265.39 149.75,254.21 149.79,289.52 149.82,308.33 149.85,277.27 149.89,269.99 149.92,289.33 149.95,302.78 149.99,296.32 150.02,262.09 150.05,300.57 150.09,268.69 150.12,285.94 150.15,291.70 150.19,283.02 150.22,273.28 150.25,274.31 150.29,261.56 150.32,273.45 150.35,278.19 150.39,271.39 150.42,263.70 150.45,271.11 150.49,285.95 150.52,262.54 150.55,251.69 150.59,300.85 150.62,270.05 150.65,309.88 150.69,308.22 150.72,271.33 150.75,281.90 150.79,280.91 150.82,281.17 150.85,303.40 150.89,306.04 150.92,266.26 150.95,299.58 150.99,233.22 151.02,292.25 151.05,273.13 151.09,281.93 151.12,305.68 151.15,298.83 151.19,253.54 151.22,280.36 151.25,263.59 151.29,284.87 151.32,283.18 151.35,286.90 151.39,266.04 151.42,266.41 151.45,301.11 151.49,313.83 151.52,273.94 151.55,251.38 151.59,302.47 151.62,284.95 151.65,279.81 151.69,275.62 151.72,297.68 151.75,273.60 151.79,294.93 151.82,273.47 151.85,281.75 151.89,273.69 151.92,262.87 151.95,274.34 151.99,289.09 152.02,308.18 152.05,263.76 152.09,306.06 152.12,269.78 152.15,284.31 152.19,293.42 152.22,301.54 152.25,289.58 152.28,273.92 152.32,269.67 152.35,282.20 152.38,284.14 152.42,292.71 152.45,284.78 152.48,280.50 152.52,296.56 152.55,291.66 152.58,273.69 152.62,273.83 152.65,272.90 152.68,266.30 152.72,294.05 152.75,260.36 152.78,289.26 152.82,310.42 152.85,261.85 152.88,282.58 152.92,299.34 152.95,288.91 152.98,252.17 153.02,310.52 153.05,284.74 153.08,288.82 153.12,281.60 153.15,293.21 153.18,263.87 153.22,269.17 153.25,287.83 153.28,306.71 153.32,286.33 153.35,268.32 153.38,286.87 153.42,262.77 153.45,293.99 153.48,263.21 153.52,292.95 153.55,284.98 153.58,266.73 153.62,308.91 153.65,280.74 153.68,288.74 153.72,282.45 153.75,304.47 153.78,309.49 153.82,274.79 153.85,276.94 153.88,264.44 153.92,276.46 153.95,280.82 153.98,267.22 154.02,297.41 154.05,280.91 154.08,299.87 154.12,272.29 154.15,277.25 154.18,300.39 154.22,282.17 154.25,317.71 154.28,306.72 154.32,273.01 154.35,287.43 154.38,295.14 154.42,285.49 154.45,273.00 154.48,270.68 154.52,271.62 154.55,269.92 154.58,303.38 154.62,300.72 154.65,264.25 154.68,289.26 154.72,257.03 154.75,279.14 154.78,279.09 154.82,285.75 154.85,276.33 154.88,296.06 154.92,284.89 154.95,308.91 154.98,282.91 155.02,273.59 155.05,265.88 155.08,287.25 155.12,289.19 155.15,264.87 155.18,283.07 155.22,278.78 155.25,255.22 155.28,335.72 155.32,247.80 155.35,311.00 155.38,276.39 155.42,262.97 155.45,302.54 155.48,284.18 155.51,248.01 155.55,275.98 155.58,265.19 155.61,277.73 155.65,291.05 155.68,280.89 155.71,261.64 155.75,281.79 155.78,290.92 155.81,283.70 155.85,260.92 155.88,261.45 155.91,296.14 155.95,309.86 155.98,297.98 156.01,271.65 156.05,259.65 156.08,296.18 156.11,291.43 156.15,280.27 156.18,298.68 156.21,285.42 156.25,298.14 156.28,282.72 156.31,293.53 156.35,260.86 156.38,272.41 156.41,292.21 156.45,286.57 156.48,274.74 156.51,263.21 156.55,263.70 156.58,242.00 156.61,285.83 156.65,287.72 156.68,270.42 156.71,268.50 156.75,275.46 156.78,295.73 156.81,249.27 156.85,276.76 156.88,287.00 156.91,291.43 156.95,280.11 156.98,279.54 157.01,288.92 157.05,267.29 157.08,274.42 157.11,297.83 157.15,274.97 157.18,259.61 157.21,286.62 157.25,290.11 157.28,299.12 157.31,282.82 157.35,307.01 157.38,259.80 157.41,253.04 157.45,274.18 157.48,270.11 157.51,286.60 157.55,304.37 157.58,281.31 157.61,278.03 157.65,293.16 157.68,280.03 157.71,289.13 157.75,290.20 157.78,267.13 157.81,265.65 157.85,316.05 157.88,304.88 157.91,286.21 157.95,285.16 157.98,288.79 158.01,268.91 158.05,284.35 158.08,290.73 158.11,283.17 158.15,276.80 158.18,269.74 158.21,275.68 158.25,266.74 158.28,268.74 158.31,298.25 158.35,266.86 158.38,281.31 158.41,266.27 158.45,291.61 158.48,294.65 158.51,289.21 158.55,292.31 158.58,254.52 158.61,276.38 158.65,259.40 158.68,278.94 158.71,260.52 158.75,285.66 158.78,284.30 158.81,275.65 158.84,256.40 158.88,278.86 158.91,255.25 158.94,265.15 158.98,258.07 159.01,267.17 159.04,279.05 159.08,300.54 159.11,300.37 159.14,274.19 159.18,271.55 159.21,280.85 159.24,277.08 159.28,251.10 159.31,264.25 159.34,264.77 159.38,267.22 159.41,281.57 159.44,277.80 159.48,287.68 159.51,279.92 159.54,288.66 159.58,285.96 159.61,297.35 159.64,279.73 159.68,266.13 159.71,255.31 159.74,284.56 159.78,314.02 159.81,247.38 159.84,298.94 159.88,278.48 159.91,277.65 159.94,260.98 159.98,292.71 160.01,271.21 160.04,294.31 160.08,271.42 160.11,287.28 160.14,299.02 160.18,271.68 160.21,299.65 160.24,273.83 160.28,277.89 160.31,285.67 160.34,290.61 160.38,310.39 160.41,306.03 160.44,295.55 160.48,297.49 160.51,300.83 160.54,260.00 160.58,269.67 160.61,275.40 160.64,265.12 160.68,281.73 160.71,265.61 160.74,288.57 160.78,281.80 160.81,281.96 160.84,277.12 160.88,322.10 160.91,259.07 160.94,272.86 160.98,293.11 161.01,278.02 161.04,290.53 161.08,279.45 161.11,259.28 161.14,271.10 161.18,277.78 161.21,259.61 161.24,250.27 161.28,292.00 161.31,271.77 161.34,259.85 161.38,285.75 161.41,290.80 161.44,296.59 161.48,266.29 161.51,295.28 161.54,288.06 161.58,288.36 161.61,260.37 161.64,317.55 161.68,251.22 161.71,315.37 161.74,282.71 161.78,271.02 161.81,307.88 161.84,293.69 161.88,280.52 161.91,240.83 161.94,294.21 161.98,310.31 162.01,283.89 162.04,286.53 162.08,298.69 162.11,289.48 162.14,274.52 162.18,286.61 162.21,287.84 162.24,276.29 162.27,266.74 162.31,275.13 162.34,303.64 162.37,276.29 162.41,286.60 162.44,282.71 162.47,301.74 162.51,288.31 162.54,276.88 162.57,307.37 162.61,273.58 162.64,287.72 162.67,276.89 162.71,266.71 162.74,272.70 162.77,287.46 162.81,280.16 162.84,249.18 162.87,258.26 162.91,285.24 162.94,278.88 162.97,263.46 163.01,265.46 163.04,274.73 163.07,266.82 163.11,263.50 163.14,257.81 163.17,278.06 163.21,285.12 163.24,283.18 163.27,276.23 163.31,299.41 163.34,290.14 163.37,291.98 163.41,275.57 163.44,304.03 163.47,292.33 163.51,270.72 163.54,286.48 163.57,273.29 163.61,277.43 163.64,282.02 163.67,305.16 163.71,305.34 163.74,287.12 163.77,281.49 163.81,287.27 163.84,293.16 163.87,291.81 163.91,254.69 163.94,252.28 163.97,238.53 164.01,285.67 164.04,268.45 164.07,278.18 164.11,295.99 164.14,275.12 164.17,288.24 164.21,302.78 164.24,280.55 164.27,284.76 164.31,277.94 164.34,262.32 164.37,288.65 164.41,293.70 164.44,305.02 164.47,257.57 164.51,291.61 164.54,289.54 164.57,299.94 164.61,278.26 164.64,281.65 164.67,267.25 164.71,270.87 164.74,268.14 164.77,299.05 164.81,268.85 164.84,290.14 164.87,281.09 164.91,261.87 164.94,296.16 164.97,297.08 165.01,306.55 165.04,271.43 165.07,285.76 165.11,285.24 165.14,282.88 165.17,290.17 165.21,289.96 165.24,274.04 165.27,310.70 165.31,258.67 165.34,272.52 165.37,294.47 165.41,287.90 165.44,276.99 165.47,256.35 165.50,306.73 165.54,280.40 165.57,284.36 165.60,275.61 165.64,287.79 165.67,278.43 165.70,286.29 165.74,288.62 165.77,288.71 165.80,266.98 165.84,278.53 165.87,289.53 165.90,283.27 165.94,282.58 165.97,302.41 166.00,302.86 166.04,267.89 166.07,283.11 166.10,273.17 166.14,289.46 166.17,280.62 166.20,273.19 166.24,248.91 166.27,275.99 166.30,279.02 166.34,268.26 166.37,285.91 166.40,261.72 166.44,286.42 166.47,259.26 166.50,308.00 166.54,270.51 166.57,289.54 166.60,299.21 166.64,322.65 166.67,279.36 166.70,251.82 166.74,284.92 166.77,276.74 166.80,282.29 166.84,285.20 166.87,271.00 166.90,289.90 166.94,239.90 166.97,290.55 167.00,290.48 167.04,298.36 167.07,305.29 167.10,253.97 167.14,280.10 167.17,313.10 167.20,282.67 167.24,282.50 167.27,278.17 167.30,275.09 167.34,273.25 167.37,291.80 167.40,295.61 167.44,297.61 167.47,262.17 167.50,264.39 167.54,297.34 167.57,289.45 167.60,279.48 167.64,275.12 167.67,302.86 167.70,272.81 167.74,265.01 167.77,321.48 167.80,282.42 167.84,286.53 167.87,286.28 167.90,271.08 167.94,286.12 167.97,271.52 168.00,283.40 168.04,289.74 168.07,278.67 168.10,282.76 168.14,285.82 168.17,307.34 168.20,275.60 168.24,307.49 168.27,279.85 168.30,281.35 168.34,289.25 168.37,295.33 168.40,280.40 168.44,294.50 168.47,278.93 168.50,285.02 168.54,272.87 168.57,287.17 168.60,286.59 168.64,288.28 168.67,266.53 168.70,301.49 168.74,281.22 168.77,284.56 168.80,247.80 168.83,290.13 168.87,307.32 168.90,285.61 168.93,305.97 168.97,286.09 169.00,298.49 169.03,318.29 169.07,274.41 169.10,296.44 169.13,254.13 169.17,271.41 169.20,265.71 169.23,315.86 169.27,275.25 169.30,264.28 169.33,301.18 169.37,289.67 169.40,259.71 169.43,255.77 169.47,297.82 169.50,278.81 169.53,260.87 169.57,269.91 169.60,279.73 169.63,248.78 169.67,273.03 169.70,285.08 169.73,267.95 169.77,302.94 169.80,292.91 169.83,278.71 169.87,267.55 169.90,306.79 169.93,305.18 169.97,276.90 170.00,243.13 170.03,248.75 170.07,301.27 170.10,275.34 170.13,243.96 170.17,271.88 170.20,299.88 170.23,262.84 170.27,306.16 170.30,279.32 170.33,280.49 170.37,302.70 170.40,304.20 170.43,289.80 170.47,280.99 170.50,268.35 170.53,320.61 170.57,293.15 170.60,304.40 170.63,291.98 170.67,258.24 170.70,302.04 170.73,282.18 170.77,307.55 170.80,293.41 170.83,277.33 170.87,274.32 170.90,249.44 170.93,287.92 170.97,261.96 171.00,249.51 171.03,288.52 171.07,269.67 171.10,250.21 171.13,314.93 171.17,280.51 171.20,286.52 171.23,249.54 171.27,311.35 171.30,282.49 171.33,270.25 171.37,293.38 171.40,278.78 171.43,274.14 171.47,288.53 171.50,239.42 171.53,258.09 171.57,302.84 171.60,277.88 171.63,274.32 171.67,294.85 171.70,288.61 171.73,265.50 171.77,277.71 171.80,288.08 171.83,271.87 171.87,279.17 171.90,291.43 171.93,275.10 171.97,290.00 172.00,280.15 172.03,300.80 172.07,284.21 172.10,251.69 172.13,273.91 172.17,296.45 172.20,280.78 172.23,325.74 172.26,265.11 172.30,281.14 172.33,289.78 172.36,284.64 172.40,303.89 172.43,278.01 172.46,269.76 172.50,299.34 172.53,311.89 172.56,280.04 172.60,295.08 172.63,275.92 172.66,281.81 172.70,289.59 172.73,265.58 172.76,292.21 172.80,294.20 172.83,253.90 172.86,260.10 172.90,303.98 172.93,277.09 172.96,271.14 173.00,304.22 173.03,278.22 173.06,281.59 173.10,277.37 173.13,275.59 173.16,284.24 173.20,283.65 173.23,265.89 173.26,304.20 173.30,268.72 173.33,283.81 173.36,316.06 173.40,296.82 173.43,293.11 173.46,278.43 173.50,270.82 173.53,294.18 173.56,282.92 173.60,258.70 173.63,261.06 173.66,275.68 173.70,242.34 173.73,287.94 173.76,294.26 173.80,270.52 173.83,297.49 173.86,292.66 173.90,256.33 173.93,292.49 173.96,296.78 174.00,259.95 174.03,277.35 174.06,287.11 174.10,277.75 174.13,292.39 174.16,298.33 174.20,263.21 174.23,276.68 174.26,308.41 174.30,304.98 174.33,287.56 174.36,293.54 174.40,292.53 174.43,289.71 174.46,292.24 174.50,277.77 174.53,265.57 174.56,304.97 174.60,289.07 174.63,264.48 174.66,299.15 174.70,292.47 174.73,279.40 174.76,310.36 174.80,267.60 174.83,285.06 174.86,263.51 174.90,287.56 174.93,271.62 174.96,275.51 175.00,283.14 175.03,283.63 175.06,290.35 175.10,299.40 175.13,284.43 175.16,269.82 175.20,312.15 175.23,296.58 175.26,286.93 175.30,298.44 175.33,284.99 175.36,277.64 175.40,279.15 175.43,301.55 175.46,309.95 175.50,251.28 175.53,259.24 175.56,293.78 175.59,267.57 175.63,290.97 175.66,283.84 175.69,268.65 175.73,276.18 175.76,270.97 175.79,256.36 175.83,286.83 175.86,260.83 175.89,281.58 175.93,264.35 175.96,261.51 175.99,293.54 176.03,301.85 176.06,266.04 176.09,279.59 176.13,275.98 176.16,294.60 176.19,296.69 176.23,316.90 176.26,278.34 176.29,271.82 176.33,261.99 176.36,281.85 176.39,276.90 176.43,282.94 176.46,288.42 176.49,258.07 176.53,280.03 176.56,273.57 176.59,283.44 176.63,281.48 176.66,302.36 176.69,262.07 176.73,252.80 176.76,282.67 176.79,285.56 176.83,281.88 176.86,287.47 176.89,275.01 176.93,285.74 176.96,266.80 176.99,283.91 177.03,250.78 177.06,290.03 177.09,267.39 177.13,296.85 177.16,321.54 177.19,285.30 177.23,304.73 177.26,266.72 177.29,295.04 177.33,274.08 177.36,294.59 177.39,280.81 177.43,281.33 177.46,266.46 177.49,277.87 177.53,305.46 177.56,319.58 177.59,293.97 177.63,271.05 177.66,286.76 177.69,265.92 177.73,286.32 177.76,284.59 177.79,282.52 177.83,282.48 177.86,282.61 177.89,275.25 177.93,290.71 177.96,288.06 177.99,279.79 178.03,294.85 178.06,262.13 178.09,283.12 178.13,314.66 178.16,291.20 178.19,268.61 178.23,275.77 178.26,287.86 178.29,291.18 178.33,266.21 178.36,282.20 178.39,275.04 178.43,276.62 178.46,270.61 178.49,301.02 178.53,284.33 178.56,268.22 178.59,280.11 178.63,295.92 178.66,261.60 178.69,281.37 178.73,282.22 178.76,304.45 178.79,297.56 178.82,266.36 178.86,275.10 178.89,255.94 178.92,293.95 178.96,272.73 178.99,271.72 179.02,287.35 179.06,272.88 179.09,260.38 179.12,290.80 179.16,282.81 179.19,284.18 179.22,268.74 179.26,273.42 179.29,267.14 179.32,287.53 179.36,269.99 179.39,282.54 179.42,294.22 179.46,267.29 179.49,265.78 179.52,282.29 179.56,271.47 179.59,302.81 179.62,237.23 179.66,271.55 179.69,282.53 179.72,278.19 179.76,286.54 179.79,298.32 179.82,284.81 179.86,273.82 179.89,289.86 179.92,270.89 179.96,268.84 179.99,277.36 180.02,295.09 180.06,287.55 180.09,276.69 180.12,259.90 180.16,280.63 180.19,288.65 180.22,274.07 180.26,285.13 180.29,283.17 180.32,283.23 180.36,271.39 180.39,279.26 180.42,259.47 180.46,299.47 180.49,293.25 180.52,278.85 180.56,276.95 180.59,285.32 180.62,274.43 180.66,309.47 180.69,271.94 180.72,269.30 180.76,254.59 180.79,274.35 180.82,285.60 180.86,253.05 180.89,285.85 180.92,289.07 180.96,285.86 180.99,280.00 181.02,283.44 181.06,283.18 181.09,281.33 181.12,282.19 181.16,257.79 181.19,264.03 181.22,302.06 181.26,273.49 181.29,238.68 181.32,270.35 181.36,272.90 181.39,258.93 181.42,278.70 181.46,286.79 181.49,268.23 181.52,328.61 181.56,278.35 181.59,311.84 181.62,267.01 181.66,293.97 181.69,271.42 181.72,296.25 181.76,271.54 181.79,275.04 181.82,307.15 181.86,294.40 181.89,287.86 181.92,265.23 181.96,261.04 181.99,294.91 182.02,271.36 182.06,272.21 182.09,271.67 182.12,294.94 182.15,279.67 182.19,272.95 182.22,272.83 182.25,274.51 182.29,309.75 182.32,285.78 182.35,290.14 182.39,274.11 182.42,277.37 182.45,282.75 182.49,296.63 182.52,286.57 182.55,296.89 182.59,272.43 182.62,285.10 182.65,287.72 182.69,284.01 182.72,277.62 182.75,280.31 182.79,272.35 182.82,279.79 182.85,281.62 182.89,294.66 182.92,277.51 182.95,274.14 182.99,300.09 183.02,283.86 183.05,306.81 183.09,296.59 183.12,283.71 183.15,279.84 183.19,302.90 183.22,281.37 183.25,273.23 183.29,277.24 183.32,294.18 183.35,257.88 183.39,270.08 183.42,274.02 183.45,283.38 183.49,271.00 183.52,278.46 183.55,301.04 183.59,264.56 183.62,279.16 183.65,282.87 183.69,284.97 183.72,288.68 183.75,285.38 183.79,277.97 183.82,289.85 183.85,290.63 183.89,303.14 183.92,278.46 183.95,272.81 183.99,282.31 184.02,258.42 184.05,273.94 184.09,273.84 184.12,272.02 184.15,292.29 184.19,304.81 184.22,288.49 184.25,274.23 184.29,313.41 184.32,283.56 184.35,313.15 184.39,290.01 184.42,284.41 184.45,282.62 184.49,276.26 184.52,300.64 184.55,271.25 184.59,297.62 184.62,265.31 184.65,272.08 184.69,293.06 184.72,278.61 184.75,313.73 184.79,260.03 184.82,295.77 184.85,234.52 184.89,319.61 184.92,252.79 184.95,279.44 184.99,331.86 185.02,266.76 185.05,275.31 185.09,254.14 185.12,306.77 185.15,285.35 185.19,298.59 185.22,296.05 185.25,275.45 185.29,287.35 185.32,303.77 185.35,277.34 185.39,299.06 185.42,281.51 185.45,270.98 185.49,284.15 185.52,294.80 185.55,265.29 185.58,278.93 185.62,310.12 185.65,277.49 185.68,276.40 185.72,271.81 185.75,277.50 185.78,280.93 185.82,285.74 185.85,284.53 185.88,265.48 185.92,286.46 185.95,289.43 185.98,289.18 186.02,273.82 186.05,288.98 186.08,276.34 186.12,278.32 186.15,255.54 186.18,287.56 186.22,275.48 186.25,287.24 186.28,276.28 186.32,282.38 186.35,265.62 186.38,288.37 186.42,298.91 186.45,300.85 186.48,279.28 186.52,296.18 186.55,287.59 186.58,289.30 186.62,256.55 186.65,265.86 186.68,294.81 186.72,284.17 186.75,300.92 186.78,268.98 186.82,272.38 186.85,285.96 186.88,306.48 186.92,289.35 186.95,283.32 186.98,304.08 187.02,282.91 187.05,292.28 187.08,298.62 187.12,298.56 187.15,298.74 187.18,287.22 187.22,289.93 187.25,285.99 187.28,287.14 187.32,288.34 187.35,291.27 187.38,281.10 187.42,265.35 187.45,287.64 187.48,283.37 187.52,270.03 187.55,294.22 187.58,321.96 187.62,292.92 187.65,252.79 187.68,300.53 187.72,282.73 187.75,265.45 187.78,265.62 187.82,273.82 187.85,316.76 187.88,273.19 187.92,300.67 187.95,281.21 187.98,264.71 188.02,306.41 188.05,303.39 188.08,275.24 188.12,284.05 188.15,305.94 188.18,266.28 188.22,289.93 188.25,244.98 188.28,259.93 188.32,302.71 188.35,288.43 188.38,292.12 188.42,261.72 188.45,288.67 188.48,308.30 188.52,281.73 188.55,271.95 188.58,279.86 188.62,281.37 188.65,289.92 188.68,267.55 188.72,269.49 188.75,275.71 188.78,291.16 188.81,292.19 188.85,298.54 188.88,255.79 188.91,265.75 188.95,278.11 188.98,301.96 189.01,270.17 189.05,277.83 189.08,295.93 189.11,277.66 189.15,282.19 189.18,269.34 189.21,296.85 189.25,283.03 189.28,268.69 189.31,293.48 189.35,269.80 189.38,265.11 189.41,264.02 189.45,286.69 189.48,270.49 189.51,251.97 189.55,283.07 189.58,281.28 189.61,253.18 189.65,248.27 189.68,280.14 189.71,290.18 189.75,260.18 189.78,284.59 189.81,279.76 189.85,281.07 189.88,282.46 189.91,290.55 189.95,266.93 189.98,281.95 190.01,294.59 190.05,287.78 190.08,301.48 190.11,265.76 190.15,298.11 190.18,285.89 190.21,282.29 190.25,271.99 190.28,261.88 190.31,288.97 190.35,256.90 190.38,302.64 190.41,285.24 190.45,284.83 190.48,269.50 190.51,273.65 190.55,255.08 190.58,290.59 190.61,264.12 190.65,305.41 190.68,283.48 190.71,292.50 190.75,252.30 190.78,288.85 190.81,306.46 190.85,287.05 190.88,271.22 190.91,286.68 190.95,287.10 190.98,284.68 191.01,286.73 191.05,260.97 191.08,278.38 191.11,293.79 191.15,296.58 191.18,259.77 191.21,302.02 191.25,250.46 191.28,282.60 191.31,285.97 191.35,272.06 191.38,284.84 191.41,295.79 191.45,291.71 191.48,274.14 191.51,285.88 191.55,265.28 191.58,290.00 191.61,305.31 191.65,259.91 191.68,260.83 191.71,283.39 191.75,288.21 191.78,266.06 191.81,213.00 191.85,328.21 191.88,285.36 191.91,277.15 191.95,280.00 191.98,284.01 192.01,265.16 192.05,289.99 192.08,291.74 192.11,294.94 192.14,261.01 192.18,271.67 192.21,279.21 192.24,270.94 192.28,285.13 192.31,296.42 192.34,295.36 192.38,290.37 192.41,269.18 192.44,269.94 192.48,292.49 192.51,295.74 192.54,295.44 192.58,276.39 192.61,270.21 192.64,268.37 192.68,273.07 192.71,260.51 192.74,275.06 192.78,276.54 192.81,277.79 192.84,272.03 192.88,282.10 192.91,299.46 192.94,260.78 192.98,278.37 193.01,275.81 193.04,285.48 193.08,292.03 193.11,274.57 193.14,279.40 193.18,260.83 193.21,270.53 193.24,266.11 193.28,274.14 193.31,269.91 193.34,275.28 193.38,288.96 193.41,249.93 193.44,296.46 193.48,272.07 193.51,301.49 193.54,298.46 193.58,282.15 193.61,282.13 193.64,298.39 193.68,285.32 193.71,273.07 193.74,284.23 193.78,315.18 193.81,340.18 193.84,249.18 193.88,284.85 193.91,266.95 193.94,289.26 193.98,294.39 194.01,263.59 194.04,291.05 194.08,268.45 194.11,271.14 194.14,270.97 194.18,273.34 194.21,290.26 194.24,284.03 194.28,297.57 194.31,272.11 194.34,288.23 194.38,273.51 194.41,301.56 194.44,301.39 194.48,271.67 194.51,264.50 194.54,284.27 194.58,274.11 194.61,275.56 194.64,252.59 194.68,293.70 194.71,278.21 194.74,273.87 194.78,307.38 194.81,287.94 194.84,245.69 194.88,291.51 194.91,293.47 194.94,274.49 194.98,271.23 195.01,285.24 195.04,283.20 195.08,285.92 195.11,283.76 195.14,279.18 195.18,278.02 195.21,281.19 195.24,284.30 195.28,276.05 195.31,269.61 195.34,308.64 195.38,279.15 195.41,280.42 195.44,285.98 195.48,278.10 195.51,274.56 195.54,268.39 195.57,300.64 195.61,289.47 195.64,266.52 195.67,269.63 195.71,285.23 195.74,298.45 195.77,264.86 195.81,302.49 195.84,258.79 195.87,298.15 195.91,292.89 195.94,287.57 195.97,294.30 196.01,284.87 196.04,279.80 196.07,291.72 196.11,278.87 196.14,285.19 196.17,268.27 196.21,285.07 196.24,305.62 196.27,281.22 196.31,279.14 196.34,256.96 196.37,287.87 196.41,274.32 196.44,288.50 196.47,268.95 196.51,293.25 196.54,305.74 196.57,273.59 196.61,298.20 196.64,290.94 196.67,286.52 196.71,256.60 196.74,269.06 196.77,254.65 196.81,289.64 196.84,281.42 196.87,285.76 196.91,246.53 196.94,291.08 196.97,271.98 197.01,280.82 197.04,268.30 197.07,263.48 197.11,302.00 197.14,282.17 197.17,299.67 197.21,280.63 197.24,295.83 197.27,297.52 197.31,278.69 197.34,284.35 197.37,298.60 197.41,284.26 197.44,286.57 197.47,299.87 197.51,301.13 197.54,265.85 197.57,253.63 197.61,256.31 197.64,264.27 197.67,291.68 197.71,274.57 197.74,270.37 197.77,286.15 197.81,279.97 197.84,282.93 197.87,274.23 197.91,249.92 197.94,277.93 197.97,268.02 198.01,299.39 198.04,268.55 198.07,273.53 198.11,271.57 198.14,294.34 198.17,284.75 198.21,280.64 198.24,293.03 198.27,286.04 198.31,272.96 198.34,295.39 198.37,290.64 198.41,267.55 198.44,263.95 198.47,311.32 198.51,317.47 198.54,295.62 198.57,283.22 198.61,259.44 198.64,280.93 198.67,310.34 198.71,264.66 198.74,270.45 198.77,274.64 198.81,283.39 198.84,264.38 198.87,292.06 198.90,273.19 198.94,250.96 198.97,292.24 199.00,287.81 199.04,281.72 199.07,267.80 199.10,298.56 199.14,272.27 199.17,286.04 199.20,283.16 199.24,289.76 199.27,300.07 199.30,280.58 199.34,276.15 199.37,300.21 199.40,276.25 199.44,277.47 199.47,251.71 199.50,270.89 199.54,264.19 199.57,309.52 199.60,270.75 199.64,275.80 199.67,278.08 199.70,282.18 199.74,298.62 199.77,265.92 199.80,332.17 199.84,277.62 199.87,280.94 199.90,247.23 199.94,276.31 199.97,277.35 200.00,298.50 200.04,280.41 200.07,271.26 200.10,300.81 200.14,291.38 200.17,280.60 200.20,273.88 200.24,285.08 200.27,285.71 200.30,314.02 200.34,296.79 200.37,300.43 200.40,291.92 200.44,283.62 200.47,283.25 200.50,263.04 200.54,309.47 200.57,247.84 200.60,296.40 200.64,246.11 200.67,305.88 200.70,283.15 200.74,277.46 200.77,276.19 200.80,273.47 200.84,268.09 200.87,271.85 200.90,281.04 200.94,292.37 200.97,280.58 201.00,288.32 201.04,292.52 201.07,275.88 201.10,269.84 201.14,303.32 201.17,291.88 201.20,271.76 201.24,293.41 201.27,289.53 201.30,264.25 201.34,287.41 201.37,308.89 201.40,266.49 201.44,291.09 201.47,267.99 201.50,264.82 201.54,259.37 201.57,274.98 201.60,268.58 201.64,296.58 201.67,283.84 201.70,277.95 201.74,270.39 201.77,297.95 201.80,270.22 201.84,276.49 201.87,252.21 201.90,322.94 201.94,242.53 201.97,302.66 202.00,265.83 202.04,286.04 202.07,296.16 202.10,272.60 202.13,291.23 202.17,285.27 202.20,277.81 202.23,282.77 202.27,273.80 202.30,307.54 202.33,273.24 202.37,275.41 202.40,289.88 202.43,295.29 202.47,284.93 202.50,295.75 202.53,292.01 202.57,288.74 202.60,279.65 202.63,261.35 202.67,294.31 202.70,300.59 202.73,300.57 202.77,290.42 202.80,285.62 202.83,283.58 202.87,250.19 202.90,291.43 202.93,284.31 202.97,285.65 203.00,287.74 203.03,253.12 203.07,297.47 203.10,271.56 203.13,240.59 203.17,282.24 203.20,297.49 203.23,293.29 203.27,263.05 203.30,289.49 203.33,281.50 203.37,311.08 203.40,313.50 203.43,260.93 203.47,258.09 203.50,290.25 203.53,290.24 203.57,284.85 203.60,272.11 203.63,267.25 203.67,280.12 203.70,306.76 203.73,283.01 203.77,273.93" fill="none" stroke="#1f77b4" stroke-width="0.75" stroke-linejoin="round"/>
<line x1="28.90" y1="207.20" x2="212.70" y2="207.20" stroke="#e6e6e6" stroke-width="0.8" />
<line x1="212.70" y1="207.20" x2="212.70" y2="344.10" stroke="#e6e6e6" stroke-width="0.8" />
<line x1="28.90" y1="344.10" x2="212.70" y2="344.10" stroke="#444" stroke-width="0.8" />
<line x1="28.90" y1="207.20" x2="28.90" y2="344.10" stroke="#444" stroke-width="0.8" />
<line x1="26.90" y1="226.20" x2="28.90" y2="226.20" stroke="#444" stroke-width="0.7" />
<text x="25.80" y="228.36" font-family="Liberation Sans" font-size="6.0" text-anchor="end" fill="#222" >4</text>
<line x1="26.90" y1="254.00" x2="28.90" y2="254.00" stroke="#444" stroke-width="0.7" />
<text x="25.80" y="256.16" font-family="Liberation Sans" font-size="6.0" text-anchor="end" fill="#222" >2</text>
<line x1="26.90" y1="281.80" x2="28.90" y2="281.80" stroke="#444" stroke-width="0.7" />
<text x="25.80" y="283.96" font-family="Liberation Sans" font-size="6.0" text-anchor="end" fill="#222" >0</text>
<line x1="26.90" y1="309.60" x2="28.90" y2="309.60" stroke="#444" stroke-width="0.7" />
<text x="25.80" y="311.76" font-family="Liberation Sans" font-size="6.0" text-anchor="end" fill="#222" >−2</text>
<line x1="26.90" y1="337.40" x2="28.90" y2="337.40" stroke="#444" stroke-width="0.7" />
<text x="25.80" y="339.56" font-family="Liberation Sans" font-size="6.0" text-anchor="end" fill="#222" >−4</text>
<line x1="37.30" y1="344.10" x2="37.30" y2="346.10" stroke="#444" stroke-width="0.7" />
<text x="37.30" y="352.10" font-family="Liberation Sans" font-size="6.0" text-anchor="middle" fill="#222" >0</text>
<line x1="70.60" y1="344.10" x2="70.60" y2="346.10" stroke="#444" stroke-width="0.7" />
<text x="70.60" y="352.10" font-family="Liberation Sans" font-size="6.0" text-anchor="middle" fill="#222" >1000</text>
<line x1="103.90" y1="344.10" x2="103.90" y2="346.10" stroke="#444" stroke-width="0.7" />
<text x="103.90" y="352.10" font-family="Liberation Sans" font-size="6.0" text-anchor="middle" fill="#222" >2000</text>
<line x1="137.20" y1="344.10" x2="137.20" y2="346.10" stroke="#444" stroke-width="0.7" />
<text x="137.20" y="352.10" font-family="Liberation Sans" font-size="6.0" text-anchor="middle" fill="#222" >3000</text>
<line x1="170.50" y1="344.10" x2="170.50" y2="346.10" stroke="#444" stroke-width="0.7" />
<text x="170.50" y="352.10" font-family="Liberation Sans" font-size="6.0" text-anchor="middle" fill="#222" >4000</text>
<line x1="203.80" y1="344.10" x2="203.80" y2="346.10" stroke="#444" stroke-width="0.7" />
<text x="203.80" y="352.10" font-family="Liberation Sans" font-size="6.0" text-anchor="middle" fill="#222" >5000</text>
<text x="12.50" y="275.25" font-family="Liberation Sans" font-size="6.2" text-anchor="middle" fill="#222" transform="rotate(-90 12.50 275.25)" dominant-baseline="central" textLength="48.5" lengthAdjust="spacingAndGlyphs">Simulated Returns</text>
<text x="120.50" y="358.70" font-family="Liberation Sans" font-size="5.8" text-anchor="middle" fill="#444" >Time</text>
<path d="M245.90,275.96 245.93,284.71 245.97,277.49 246.00,279.90 246.03,274.37 246.07,263.76 246.10,276.59 246.13,275.88 246.17,261.46 246.20,271.15 246.23,262.31 246.27,273.21 246.30,292.44 246.33,290.01 246.37,297.20 246.40,259.78 246.43,269.46 246.47,281.36 246.50,288.25 246.53,270.18 246.57,276.78 246.60,270.73 246.63,286.28 246.67,289.83 246.70,254.01 246.74,287.74 246.77,275.31 246.80,257.13 246.84,299.51 246.87,265.65 246.90,274.08 246.94,276.93 246.97,271.39 247.00,290.86 247.04,304.71 247.07,249.76 247.10,278.83 247.14,263.11 247.17,260.21 247.20,271.15 247.24,268.91 247.27,265.49 247.30,253.94 247.34,268.43 247.37,258.15 247.40,278.88 247.44,280.64 247.47,273.86 247.50,269.65 247.54,267.83 247.57,249.00 247.60,263.78 247.64,274.13 247.67,248.45 247.70,270.59 247.74,270.20 247.77,268.41 247.80,279.41 247.84,289.53 247.87,273.21 247.90,279.11 247.94,286.50 247.97,273.38 248.00,277.62 248.04,282.87 248.07,298.68 248.10,277.22 248.14,251.52 248.17,263.13 248.20,260.55 248.24,275.25 248.27,260.89 248.30,283.94 248.34,281.06 248.37,268.05 248.41,293.98 248.44,274.21 248.47,270.96 248.51,252.47 248.54,284.29 248.57,269.35 248.61,283.65 248.64,282.23 248.67,310.93 248.71,287.48 248.74,259.62 248.77,268.05 248.81,272.86 248.84,242.09 248.87,267.74 248.91,291.45 248.94,277.66 248.97,275.72 249.01,253.54 249.04,286.94 249.07,269.31 249.11,261.92 249.14,285.74 249.17,273.77 249.21,301.74 249.24,273.62 249.27,304.31 249.31,280.08 249.34,252.01 249.37,269.48 249.41,274.26 249.44,272.92 249.47,246.19 249.51,267.55 249.54,261.06 249.57,280.75 249.61,280.71 249.64,288.85 249.67,277.27 249.71,284.23 249.74,261.78 249.77,266.37 249.81,276.50 249.84,282.17 249.87,313.48 249.91,282.82 249.94,270.87 249.97,266.13 250.01,316.04 250.04,306.93 250.08,272.82 250.11,288.69 250.14,277.83 250.18,281.24 250.21,267.11 250.24,299.69 250.28,282.53 250.31,262.37 250.34,272.17 250.38,285.98 250.41,268.89 250.44,271.13 250.48,286.77 250.51,265.73 250.54,265.94 250.58,276.69 250.61,262.39 250.64,290.54 250.68,264.73 250.71,277.49 250.74,287.43 250.78,282.87 250.81,259.37 250.84,282.32 250.88,279.55 250.91,283.65 250.94,285.48 250.98,262.11 251.01,245.43 251.04,257.09 251.08,268.17 251.11,264.85 251.14,279.53 251.18,281.53 251.21,290.56 251.24,255.74 251.28,279.43 251.31,284.46 251.34,283.41 251.38,272.38 251.41,282.23 251.44,274.67 251.48,272.69 251.51,257.09 251.54,291.44 251.58,270.97 251.61,284.17 251.64,280.63 251.68,253.33 251.71,266.57 251.75,280.07 251.78,268.36 251.81,275.17 251.85,260.11 251.88,281.38 251.91,268.39 251.95,277.65 251.98,274.75 252.01,276.93 252.05,283.16 252.08,273.47 252.11,261.83 252.15,282.96 252.18,280.04 252.21,269.98 252.25,284.92 252.28,263.30 252.31,265.48 252.35,305.44 252.38,283.59 252.41,289.25 252.45,263.86 252.48,262.39 252.51,290.82 252.55,284.01 252.58,275.95 252.61,279.79 252.65,265.30 252.68,261.85 252.71,267.00 252.75,260.35 252.78,262.41 252.81,275.81 252.85,280.64 252.88,284.68 252.91,263.97 252.95,263.02 252.98,261.35 253.01,279.21 253.05,280.05 253.08,271.33 253.11,258.20 253.15,270.10 253.18,271.86 253.21,285.81 253.25,268.95 253.28,267.69 253.31,287.46 253.35,251.49 253.38,287.05 253.41,262.49 253.45,277.54 253.48,272.69 253.52,285.28 253.55,282.32 253.58,265.51 253.62,277.41 253.65,279.36 253.68,263.02 253.72,265.36 253.75,272.62 253.78,271.74 253.82,251.95 253.85,277.04 253.88,269.64 253.92,269.15 253.95,293.40 253.98,300.48 254.02,273.12 254.05,263.29 254.08,272.13 254.12,281.89 254.15,283.50 254.18,264.02 254.22,278.76 254.25,296.17 254.28,265.77 254.32,271.64 254.35,269.75 254.38,260.99 254.42,257.23 254.45,267.37 254.48,277.12 254.52,302.89 254.55,270.88 254.58,276.79 254.62,257.30 254.65,257.87 254.68,268.49 254.72,256.63 254.75,275.80 254.78,275.39 254.82,286.04 254.85,278.94 254.88,272.01 254.92,260.77 254.95,284.56 254.98,264.19 255.02,243.76 255.05,292.66 255.09,278.25 255.12,274.54 255.15,261.48 255.19,248.44 255.22,258.45 255.25,275.31 255.29,286.10 255.32,275.57 255.35,275.34 255.39,271.59 255.42,286.69 255.45,254.58 255.49,284.42 255.52,265.78 255.55,271.99 255.59,289.37 255.62,273.95 255.65,274.57 255.69,277.33 255.72,264.12 255.75,281.14 255.79,241.02 255.82,259.84 255.85,287.01 255.89,307.94 255.92,258.16 255.95,271.51 255.99,273.77 256.02,287.83 256.05,294.01 256.09,299.64 256.12,240.72 256.15,253.52 256.19,282.21 256.22,249.90 256.25,299.53 256.29,265.57 256.32,265.48 256.35,286.33 256.39,280.95 256.42,288.78 256.45,274.33 256.49,257.38 256.52,261.64 256.55,269.34 256.59,260.00 256.62,298.71 256.65,247.94 256.69,275.59 256.72,292.48 256.75,280.02 256.79,283.59 256.82,273.67 256.86,270.75 256.89,306.11 256.92,258.08 256.96,251.83 256.99,288.78 257.02,255.20 257.06,258.11 257.09,261.38 257.12,253.11 257.16,293.53 257.19,265.23 257.22,288.49 257.26,243.23 257.29,287.95 257.32,291.36 257.36,259.91 257.39,266.62 257.42,274.57 257.46,273.12 257.49,266.72 257.52,251.79 257.56,284.51 257.59,282.47 257.62,282.71 257.66,275.94 257.69,274.80 257.72,292.24 257.76,270.90 257.79,291.94 257.82,279.14 257.86,278.31 257.89,278.23 257.92,255.05 257.96,252.96 257.99,260.48 258.02,253.68 258.06,278.82 258.09,256.03 258.12,275.68 258.16,271.91 258.19,271.31 258.22,292.95 258.26,283.18 258.29,277.12 258.32,270.06 258.36,276.68 258.39,286.45 258.43,290.56 258.46,274.85 258.49,290.90 258.53,290.84 258.56,276.38 258.59,272.59 258.63,286.16 258.66,298.97 258.69,271.13 258.73,263.98 258.76,280.49 258.79,280.05 258.83,306.30 258.86,262.84 258.89,289.75 258.93,265.30 258.96,282.94 258.99,276.91 259.03,277.53 259.06,299.23 259.09,237.93 259.13,296.07 259.16,273.52 259.19,285.95 259.23,278.19 259.26,256.44 259.29,300.11 259.33,276.92 259.36,268.36 259.39,273.37 259.43,269.65 259.46,285.11 259.49,297.11 259.53,292.68 259.56,280.52 259.59,264.99 259.63,273.91 259.66,253.38 259.69,273.64 259.73,272.39 259.76,272.30 259.79,298.34 259.83,267.23 259.86,289.97 259.89,280.12 259.93,243.41 259.96,291.66 259.99,273.40 260.03,271.06 260.06,273.26 260.10,274.95 260.13,282.52 260.16,248.14 260.20,302.05 260.23,288.83 260.26,255.00 260.30,267.60 260.33,285.31 260.36,287.11 260.40,278.36 260.43,239.41 260.46,268.35 260.50,288.90 260.53,271.79 260.56,283.44 260.60,254.80 260.63,271.04 260.66,258.01 260.70,272.83 260.73,247.51 260.76,269.45 260.80,271.21 260.83,288.74 260.86,280.68 260.90,269.74 260.93,281.69 260.96,241.46 261.00,275.15 261.03,285.27 261.06,261.69 261.10,282.14 261.13,269.51 261.16,276.26 261.20,284.71 261.23,256.28 261.26,273.76 261.30,260.33 261.33,279.57 261.36,294.24 261.40,291.76 261.43,281.99 261.46,277.48 261.50,274.25 261.53,268.08 261.56,291.75 261.60,271.91 261.63,291.42 261.66,284.22 261.70,240.42 261.73,257.83 261.76,279.89 261.80,250.84 261.83,255.87 261.87,263.01 261.90,255.22 261.93,278.34 261.97,276.68 262.00,286.59 262.03,267.13 262.07,291.90 262.10,281.79 262.13,268.82 262.17,281.80 262.20,270.32 262.23,250.40 262.27,288.28 262.30,256.08 262.33,284.21 262.37,287.59 262.40,271.96 262.43,261.13 262.47,284.62 262.50,284.82 262.53,280.92 262.57,284.71 262.60,272.46 262.63,284.60 262.67,278.43 262.70,270.23 262.73,280.63 262.77,259.44 262.80,284.12 262.83,285.40 262.87,247.53 262.90,254.70 262.93,274.04 262.97,263.81 263.00,270.41 263.03,281.88 263.07,265.89 263.10,270.90 263.13,257.72 263.17,299.85 263.20,264.12 263.23,272.75 263.27,284.26 263.30,280.78 263.33,280.46 263.37,292.83 263.40,282.74 263.44,264.45 263.47,295.45 263.50,280.07 263.54,306.88 263.57,282.76 263.60,269.72 263.64,275.67 263.67,274.41 263.70,290.07 263.74,267.32 263.77,287.18 263.80,262.75 263.84,272.14 263.87,280.17 263.90,254.97 263.94,280.32 263.97,261.19 264.00,273.58 264.04,274.99 264.07,261.50 264.10,269.09 264.14,275.10 264.17,276.59 264.20,272.14 264.24,273.84 264.27,279.39 264.30,288.97 264.34,309.92 264.37,276.50 264.40,278.27 264.44,258.63 264.47,268.94 264.50,259.61 264.54,251.58 264.57,276.44 264.60,286.33 264.64,263.97 264.67,283.02 264.70,278.42 264.74,255.58 264.77,267.53 264.80,260.19 264.84,293.17 264.87,274.50 264.90,259.89 264.94,292.25 264.97,272.30 265.00,269.53 265.04,306.05 265.07,253.45 265.11,284.58 265.14,276.83 265.17,252.33 265.21,299.09 265.24,268.71 265.27,280.99 265.31,274.38 265.34,286.01 265.37,256.57 265.41,290.07 265.44,270.08 265.47,267.66 265.51,276.20 265.54,278.65 265.57,278.53 265.61,261.17 265.64,268.86 265.67,276.06 265.71,289.67 265.74,272.81 265.77,267.77 265.81,275.39 265.84,255.58 265.87,300.71 265.91,241.33 265.94,277.43 265.97,290.32 266.01,298.47 266.04,263.25 266.07,267.23 266.11,277.88 266.14,275.61 266.17,272.67 266.21,280.66 266.24,259.39 266.27,266.50 266.31,276.56 266.34,297.04 266.37,256.46 266.41,281.38 266.44,288.89 266.47,257.55 266.51,268.21 266.54,302.10 266.57,297.35 266.61,280.29 266.64,291.88 266.67,277.01 266.71,239.65 266.74,234.73 266.77,275.48 266.81,264.11 266.84,262.90 266.88,276.52 266.91,294.82 266.94,260.41 266.98,277.29 267.01,268.77 267.04,265.34 267.08,285.80 267.11,252.13 267.14,273.87 267.18,271.85 267.21,280.72 267.24,265.30 267.28,261.22 267.31,282.40 267.34,266.99 267.38,280.74 267.41,291.49 267.44,279.32 267.48,266.65 267.51,267.41 267.54,260.30 267.58,283.97 267.61,278.96 267.64,273.88 267.68,266.48 267.71,276.44 267.74,287.69 267.78,295.79 267.81,258.93 267.84,260.42 267.88,283.83 267.91,254.86 267.94,275.70 267.98,268.70 268.01,257.78 268.04,281.32 268.08,285.31 268.11,298.30 268.14,270.70 268.18,268.73 268.21,263.15 268.24,266.64 268.28,273.39 268.31,259.28 268.34,288.68 268.38,269.53 268.41,267.86 268.44,276.43 268.48,251.44 268.51,268.86 268.55,256.56 268.58,262.66 268.61,277.21 268.65,248.62 268.68,259.77 268.71,274.53 268.75,276.40 268.78,288.80 268.81,276.83 268.85,277.98 268.88,271.95 268.91,280.50 268.95,267.05 268.98,275.90 269.01,296.17 269.05,281.63 269.08,286.94 269.11,292.02 269.15,278.20 269.18,262.40 269.21,289.91 269.25,301.89 269.28,276.96 269.31,234.32 269.35,282.75 269.38,271.08 269.41,280.33 269.45,263.13 269.48,255.24 269.51,276.90 269.55,258.73 269.58,289.42 269.61,271.92 269.65,291.93 269.68,272.20 269.71,283.03 269.75,271.49 269.78,289.90 269.81,271.60 269.85,273.19 269.88,282.44 269.91,285.59 269.95,290.76 269.98,280.08 270.01,269.28 270.05,276.51 270.08,272.59 270.12,257.54 270.15,279.06 270.18,270.72 270.22,263.48 270.25,267.72 270.28,269.46 270.32,273.61 270.35,248.58 270.38,275.70 270.42,279.91 270.45,266.67 270.48,252.54 270.52,255.52 270.55,274.22 270.58,263.39 270.62,267.90 270.65,273.65 270.68,265.83 270.72,266.28 270.75,272.75 270.78,251.33 270.82,279.76 270.85,255.78 270.88,246.24 270.92,246.05 270.95,270.95 270.98,277.13 271.02,296.27 271.05,275.43 271.08,241.62 271.12,295.85 271.15,295.56 271.18,263.32 271.22,266.29 271.25,299.33 271.28,275.43 271.32,270.04 271.35,295.15 271.38,261.65 271.42,292.58 271.45,259.34 271.48,271.91 271.52,284.08 271.55,296.41 271.58,279.28 271.62,275.94 271.65,276.42 271.68,282.69 271.72,277.51 271.75,262.87 271.79,286.97 271.82,277.50 271.85,268.46 271.89,274.97 271.92,262.98 271.95,253.65 271.99,279.46 272.02,271.76 272.05,314.40 272.09,279.38 272.12,265.62 272.15,289.84 272.19,256.71 272.22,300.17 272.25,256.44 272.29,281.69 272.32,288.52 272.35,281.28 272.39,278.32 272.42,288.45 272.45,293.41 272.49,281.81 272.52,261.91 272.55,269.25 272.59,256.58 272.62,283.00 272.65,279.56 272.69,279.27 272.72,272.81 272.75,268.51 272.79,250.99 272.82,265.25 272.85,272.54 272.89,256.43 272.92,285.36 272.95,292.55 272.99,265.75 273.02,272.52 273.05,273.16 273.09,262.18 273.12,279.32 273.15,276.31 273.19,269.66 273.22,266.01 273.25,261.48 273.29,273.21 273.32,271.22 273.35,307.52 273.39,258.26 273.42,296.03 273.45,275.42 273.49,240.54 273.52,279.25 273.56,296.23 273.59,253.03 273.62,282.33 273.66,277.05 273.69,277.07 273.72,264.90 273.76,264.33 273.79,276.52 273.82,259.83 273.86,287.05 273.89,265.73 273.92,283.28 273.96,265.41 273.99,283.89 274.02,280.80 274.06,254.93 274.09,290.05 274.12,290.74 274.16,267.13 274.19,278.51 274.22,280.69 274.26,276.81 274.29,246.23 274.32,288.87 274.36,278.55 274.39,272.66 274.42,287.60 274.46,275.38 274.49,268.36 274.52,287.20 274.56,259.83 274.59,290.35 274.62,276.87 274.66,270.38 274.69,231.98 274.72,298.55 274.76,271.13 274.79,240.90 274.82,282.99 274.86,260.24 274.89,272.05 274.92,294.23 274.96,269.62 274.99,286.96 275.02,273.78 275.06,295.19 275.09,265.10 275.12,307.53 275.16,277.25 275.19,257.59 275.23,268.00 275.26,279.67 275.29,278.12 275.33,280.71 275.36,238.31 275.39,275.68 275.43,275.16 275.46,284.88 275.49,281.38 275.53,266.75 275.56,283.20 275.59,285.85 275.63,282.41 275.66,279.74 275.69,272.65 275.73,281.53 275.76,277.57 275.79,285.10 275.83,258.31 275.86,273.77 275.89,279.23 275.93,271.08 275.96,275.61 275.99,296.12 276.03,277.42 276.06,252.73 276.09,268.19 276.13,259.13 276.16,284.04 276.19,295.04 276.23,284.40 276.26,256.78 276.29,288.47 276.33,285.70 276.36,260.10 276.39,278.38 276.43,277.68 276.46,269.87 276.49,273.83 276.53,279.09 276.56,271.59 276.59,284.63 276.63,275.58 276.66,266.16 276.69,289.30 276.73,277.88 276.76,290.42 276.80,264.95 276.83,266.71 276.86,262.29 276.90,261.08 276.93,261.19 276.96,265.33 277.00,285.49 277.03,262.39 277.06,287.30 277.10,243.56 277.13,271.11 277.16,267.00 277.20,291.63 277.23,260.55 277.26,259.18 277.30,296.16 277.33,282.51 277.36,281.32 277.40,283.75 277.43,256.37 277.46,245.82 277.50,289.37 277.53,260.86 277.56,278.54 277.60,256.53 277.63,308.03 277.66,280.87 277.70,258.61 277.73,285.27 277.76,258.96 277.80,281.92 277.83,259.67 277.86,267.14 277.90,280.69 277.93,285.32 277.96,277.31 278.00,259.39 278.03,275.12 278.06,283.99 278.10,230.24 278.13,296.31 278.16,278.10 278.20,267.74 278.23,289.14 278.26,275.20 278.30,280.72 278.33,295.02 278.36,268.90 278.40,290.41 278.43,285.21 278.47,258.41 278.50,290.15 278.53,266.91 278.57,259.10 278.60,261.65 278.63,268.73 278.67,278.23 278.70,294.00 278.73,273.12 278.77,269.07 278.80,281.96 278.83,288.39 278.87,263.37 278.90,289.33 278.93,269.14 278.97,281.60 279.00,297.85 279.03,253.33 279.07,266.88 279.10,267.81 279.13,294.24 279.17,276.88 279.20,271.38 279.23,285.24 279.27,252.91 279.30,312.15 279.33,262.43 279.37,309.81 279.40,303.94 279.43,298.75 279.47,264.97 279.50,288.46 279.53,287.72 279.57,292.06 279.60,302.53 279.63,291.96 279.67,293.59 279.70,281.49 279.73,282.61 279.77,319.55 279.80,287.59 279.83,253.67 279.87,284.50 279.90,277.27 279.93,289.16 279.97,288.58 280.00,277.45 280.03,300.79 280.07,279.25 280.10,306.65 280.13,270.19 280.17,305.08 280.20,264.45 280.24,257.92 280.27,306.08 280.30,264.16 280.34,283.96 280.37,255.33 280.40,286.29 280.44,281.78 280.47,281.97 280.50,253.72 280.54,312.02 280.57,262.74 280.60,275.04 280.64,285.67 280.67,281.11 280.70,259.74 280.74,261.74 280.77,245.88 280.80,288.52 280.84,311.33 280.87,286.92 280.90,280.38 280.94,284.85 280.97,254.57 281.00,235.29 281.04,269.93 281.07,309.41 281.10,257.92 281.14,288.65 281.17,276.11 281.20,261.57 281.24,270.19 281.27,278.15 281.30,271.68 281.34,263.08 281.37,265.47 281.40,239.14 281.44,331.54 281.47,291.20 281.50,287.61 281.54,261.90 281.57,272.90 281.60,261.42 281.64,302.97 281.67,280.94 281.70,265.18 281.74,277.89 281.77,284.24 281.81,271.98 281.84,246.91 281.87,315.40 281.91,248.00 281.94,271.88 281.97,292.58 282.01,264.96 282.04,276.23 282.07,254.93 282.11,291.66 282.14,259.33 282.17,293.49 282.21,271.15 282.24,264.28 282.27,278.45 282.31,265.29 282.34,287.83 282.37,257.60 282.41,286.14 282.44,289.80 282.47,279.08 282.51,277.90 282.54,292.24 282.57,262.43 282.61,279.21 282.64,265.91 282.67,304.17 282.71,300.92 282.74,281.80 282.77,295.04 282.81,279.37 282.84,266.73 282.87,256.62 282.91,250.15 282.94,262.61 282.97,289.82 283.01,266.91 283.04,286.48 283.07,267.06 283.11,296.15 283.14,252.41 283.17,269.38 283.21,282.14 283.24,301.72 283.27,271.79 283.31,286.50 283.34,272.33 283.37,289.89 283.41,286.80 283.44,265.57 283.48,249.94 283.51,299.95 283.54,280.44 283.58,269.77 283.61,279.69 283.64,284.89 283.68,237.42 283.71,292.19 283.74,270.30 283.78,285.77 283.81,278.63 283.84,318.54 283.88,260.70 283.91,280.71 283.94,294.47 283.98,246.54 284.01,281.91 284.04,288.04 284.08,292.27 284.11,257.40 284.14,276.32 284.18,282.49 284.21,300.99 284.24,293.31 284.28,270.55 284.31,277.23 284.34,313.54 284.38,292.78 284.41,272.71 284.44,227.92 284.48,290.57 284.51,317.38 284.54,262.88 284.58,285.59 284.61,300.93 284.64,266.57 284.68,281.08 284.71,294.41 284.74,300.76 284.78,279.09 284.81,275.27 284.84,309.26 284.88,258.88 284.91,299.98 284.94,251.30 284.98,270.79 285.01,280.25 285.04,270.72 285.08,287.65 285.11,278.04 285.14,246.81 285.18,287.26 285.21,261.94 285.25,293.20 285.28,277.19 285.31,259.26 285.35,298.75 285.38,270.72 285.41,316.04 285.45,297.75 285.48,284.46 285.51,260.75 285.55,263.77 285.58,293.51 285.61,279.23 285.65,273.45 285.68,305.35 285.71,269.12 285.75,252.21 285.78,254.16 285.81,287.61 285.85,284.28 285.88,293.90 285.91,285.87 285.95,281.39 285.98,330.25 286.01,275.33 286.05,293.76 286.08,261.89 286.11,260.78 286.15,287.96 286.18,281.33 286.21,278.70 286.25,306.81 286.28,274.36 286.31,264.56 286.35,241.32 286.38,273.32 286.41,282.01 286.45,279.51 286.48,265.66 286.51,262.28 286.55,292.46 286.58,273.29 286.61,264.87 286.65,313.40 286.68,251.78 286.71,280.67 286.75,260.89 286.78,277.61 286.81,281.24 286.85,278.13 286.88,271.51 286.92,260.90 286.95,281.56 286.98,297.17 287.02,289.48 287.05,294.53 287.08,262.87 287.12,294.19 287.15,248.99 287.18,274.33 287.22,278.31 287.25,252.88 287.28,283.37 287.32,282.06 287.35,262.45 287.38,263.17 287.42,294.83 287.45,231.83 287.48,266.27 287.52,299.50 287.55,279.79 287.58,259.72 287.62,272.59 287.65,260.97 287.68,233.44 287.72,259.59 287.75,239.94 287.78,264.12 287.82,288.64 287.85,248.94 287.88,289.24 287.92,259.01 287.95,264.51 287.98,291.84 288.02,289.22 288.05,279.56 288.08,269.01 288.12,251.99 288.15,274.88 288.18,241.55 288.22,260.23 288.25,287.81 288.28,287.37 288.32,274.51 288.35,285.51 288.38,277.63 288.42,261.82 288.45,271.17 288.49,258.13 288.52,288.44 288.55,291.59 288.59,301.35 288.62,308.30 288.65,283.96 288.69,274.53 288.72,279.39 288.75,275.62 288.79,238.45 288.82,295.58 288.85,280.59 288.89,284.57 288.92,292.21 288.95,250.98 288.99,276.21 289.02,252.77 289.05,296.16 289.09,241.38 289.12,234.27 289.15,291.44 289.19,275.73 289.22,277.89 289.25,265.33 289.29,299.22 289.32,266.98 289.35,262.24 289.39,286.42 289.42,316.76 289.45,287.87 289.49,282.67 289.52,261.52 289.55,286.73 289.59,296.41 289.62,264.18 289.65,268.66 289.69,262.04 289.72,274.57 289.75,256.14 289.79,266.05 289.82,307.94 289.85,271.76 289.89,261.28 289.92,274.70 289.95,248.73 289.99,283.66 290.02,262.63 290.05,297.76 290.09,275.35 290.12,285.36 290.15,293.59 290.19,299.16 290.22,271.26 290.26,267.53 290.29,286.90 290.32,297.89 290.36,291.31 290.39,261.46 290.42,297.25 290.46,254.57 290.49,305.75 290.52,270.22 290.56,263.15 290.59,253.04 290.62,283.12 290.66,289.24 290.69,301.23 290.72,258.71 290.76,277.63 290.79,283.65 290.82,282.92 290.86,270.65 290.89,274.67 290.92,253.75 290.96,314.48 290.99,259.85 291.02,284.96 291.06,276.67 291.09,280.97 291.12,276.78 291.16,261.45 291.19,271.18 291.22,301.51 291.26,276.43 291.29,276.98 291.32,268.43 291.36,274.44 291.39,276.65 291.42,256.48 291.46,295.02 291.49,235.43 291.52,285.44 291.56,294.03 291.59,260.86 291.62,255.55 291.66,252.33 291.69,248.53 291.72,266.41 291.76,273.94 291.79,268.23 291.82,275.16 291.86,284.98 291.89,245.83 291.93,241.94 291.96,274.92 291.99,279.25 292.03,284.01 292.06,305.74 292.09,287.40 292.13,284.45 292.16,275.39 292.19,293.28 292.23,309.70 292.26,263.11 292.29,243.61 292.33,313.82 292.36,277.50 292.39,259.38 292.43,296.26 292.46,301.17 292.49,274.36 292.53,279.22 292.56,286.58 292.59,244.99 292.63,247.62 292.66,262.98 292.69,276.12 292.73,280.83 292.76,258.74 292.79,279.11 292.83,247.67 292.86,252.04 292.89,285.78 292.93,260.86 292.96,246.12 292.99,262.73 293.03,291.88 293.06,279.50 293.09,280.78 293.13,272.35 293.16,273.95 293.19,280.92 293.23,258.81 293.26,249.75 293.29,284.67 293.33,301.26 293.36,267.55 293.39,274.19 293.43,266.57 293.46,286.70 293.50,268.88 293.53,290.77 293.56,254.26 293.60,243.45 293.63,291.04 293.66,321.41 293.70,282.94 293.73,283.59 293.76,270.39 293.80,273.56 293.83,264.89 293.86,224.39 293.90,284.03 293.93,280.66 293.96,265.93 294.00,307.54 294.03,259.44 294.06,285.12 294.10,299.96 294.13,289.17 294.16,264.55 294.20,258.36 294.23,250.93 294.26,265.67 294.30,286.81 294.33,263.47 294.36,275.04 294.40,230.93 294.43,311.10 294.46,244.15 294.50,259.47 294.53,266.05 294.56,275.15 294.60,283.70 294.63,291.03 294.66,301.84 294.70,236.22 294.73,256.28 294.76,261.08 294.80,266.71 294.83,308.28 294.86,278.37 294.90,271.05 294.93,252.13 294.96,291.53 295.00,268.27 295.03,277.56 295.06,272.66 295.10,287.41 295.13,266.59 295.17,271.68 295.20,307.24 295.23,251.00 295.27,233.04 295.30,289.11 295.33,252.11 295.37,290.93 295.40,282.70 295.43,240.93 295.47,269.37 295.50,245.35 295.53,267.64 295.57,254.51 295.60,275.95 295.63,246.77 295.67,240.29 295.70,260.49 295.73,283.16 295.77,279.54 295.80,290.02 295.83,261.75 295.87,263.27 295.90,285.48 295.93,256.01 295.97,283.26 296.00,239.54 296.03,257.65 296.07,243.69 296.10,285.65 296.13,290.81 296.17,305.92 296.20,260.83 296.23,293.10 296.27,248.09 296.30,269.94 296.33,258.63 296.37,295.92 296.40,283.33 296.43,269.16 296.47,259.07 296.50,295.95 296.53,266.24 296.57,287.55 296.60,257.69 296.63,276.62 296.67,277.89 296.70,264.51 296.73,251.40 296.77,276.85 296.80,250.16 296.83,290.61 296.87,267.30 296.90,292.81 296.94,268.57 296.97,289.05 297.00,271.83 297.04,261.14 297.07,290.02 297.10,304.36 297.14,275.66 297.17,262.99 297.20,268.28 297.24,289.01 297.27,257.32 297.30,277.77 297.34,258.60 297.37,288.57 297.40,264.52 297.44,251.16 297.47,284.59 297.50,277.85 297.54,261.28 297.57,263.06 297.60,266.11 297.64,274.82 297.67,300.99 297.70,272.72 297.74,296.07 297.77,271.12 297.80,315.11 297.84,246.60 297.87,238.19 297.90,264.62 297.94,288.06 297.97,278.20 298.00,256.62 298.04,260.78 298.07,285.36 298.10,250.98 298.14,259.61 298.17,263.05 298.20,279.12 298.24,272.79 298.27,285.62 298.30,269.36 298.34,284.73 298.37,251.56 298.40,272.06 298.44,268.97 298.47,266.81 298.50,266.98 298.54,298.55 298.57,249.64 298.61,271.05 298.64,282.74 298.67,290.34 298.71,285.15 298.74,283.89 298.77,272.60 298.81,288.39 298.84,270.86 298.87,270.22 298.91,285.35 298.94,232.93 298.97,275.03 299.01,266.83 299.04,270.91 299.07,275.81 299.11,260.76 299.14,248.04 299.17,274.29 299.21,288.50 299.24,263.13 299.27,311.92 299.31,270.20 299.34,276.46 299.37,267.20 299.41,300.37 299.44,281.01 299.47,291.69 299.51,282.92 299.54,262.60 299.57,276.82 299.61,284.07 299.64,251.96 299.67,273.12 299.71,309.92 299.74,292.24 299.77,266.06 299.81,265.62 299.84,269.55 299.87,268.87 299.91,289.83 299.94,275.37 299.97,295.11 300.01,288.82 300.04,290.21 300.07,288.96 300.11,280.03 300.14,278.01 300.18,288.39 300.21,254.58 300.24,282.25 300.28,246.44 300.31,256.11 300.34,295.98 300.38,258.25 300.41,299.40 300.44,248.26 300.48,268.44 300.51,292.23 300.54,313.82 300.58,281.67 300.61,298.84 300.64,254.87 300.68,296.99 300.71,278.79 300.74,265.88 300.78,274.54 300.81,270.07 300.84,279.26 300.88,261.84 300.91,291.60 300.94,264.64 300.98,296.52 301.01,271.72 301.04,295.39 301.08,278.58 301.11,264.41 301.14,252.76 301.18,307.35 301.21,288.80 301.24,292.54 301.28,253.25 301.31,290.62 301.34,262.40 301.38,284.34 301.41,301.00 301.44,273.10 301.48,295.57 301.51,261.98 301.54,260.24 301.58,251.19 301.61,293.37 301.64,246.85 301.68,257.77 301.71,307.40 301.74,235.33 301.78,244.88 301.81,293.85 301.84,269.27 301.88,299.32 301.91,277.61 301.95,271.86 301.98,264.07 302.01,290.03 302.05,275.69 302.08,291.97 302.11,268.32 302.15,263.26 302.18,273.91 302.21,254.53 302.25,261.61 302.28,268.52 302.31,254.30 302.35,297.59 302.38,275.87 302.41,307.14 302.45,275.55 302.48,283.69 302.51,260.33 302.55,283.19 302.58,286.75 302.61,276.93 302.65,277.60 302.68,265.94 302.71,290.96 302.75,302.24 302.78,303.90 302.81,254.48 302.85,297.96 302.88,283.58 302.91,295.13 302.95,259.33 302.98,285.38 303.01,253.08 303.05,287.91 303.08,269.86 303.11,261.54 303.15,257.76 303.18,296.71 303.21,281.81 303.25,276.63 303.28,308.17 303.31,262.34 303.35,268.13 303.38,265.97 303.41,300.29 303.45,271.84 303.48,267.28 303.51,256.57 303.55,284.55 303.58,262.92 303.62,239.72 303.65,282.97 303.68,282.54 303.72,280.96 303.75,302.02 303.78,281.66 303.82,245.80 303.85,291.85 303.88,278.59 303.92,253.52 303.95,264.89 303.98,270.96 304.02,281.11 304.05,277.15 304.08,274.86 304.12,262.66 304.15,273.65 304.18,258.10 304.22,308.68 304.25,260.27 304.28,284.58 304.32,274.82 304.35,282.67 304.38,263.46 304.42,277.16 304.45,263.75 304.48,289.52 304.52,271.60 304.55,252.89 304.58,254.92 304.62,281.42 304.65,272.43 304.68,281.65 304.72,277.15 304.75,274.68 304.78,253.17 304.82,264.48 304.85,248.71 304.88,247.31 304.92,297.76 304.95,269.41 304.98,282.98 305.02,304.04 305.05,294.38 305.08,284.00 305.12,244.87 305.15,273.39 305.19,278.29 305.22,275.46 305.25,288.42 305.29,271.83 305.32,276.58 305.35,304.22 305.39,284.47 305.42,219.75 305.45,263.58 305.49,276.66 305.52,262.95 305.55,292.36 305.59,273.29 305.62,259.17 305.65,303.70 305.69,288.07 305.72,282.07 305.75,279.96 305.79,284.06 305.82,270.02 305.85,256.64 305.89,268.72 305.92,256.54 305.95,256.18 305.99,285.56 306.02,270.01 306.05,281.58 306.09,263.11 306.12,281.12 306.15,278.19 306.19,244.51 306.22,278.04 306.25,302.73 306.29,272.71 306.32,269.55 306.35,283.88 306.39,273.59 306.42,256.62 306.45,284.09 306.49,278.18 306.52,287.47 306.55,268.92 306.59,277.06 306.62,291.29 306.65,277.58 306.69,242.18 306.72,305.22 306.75,299.48 306.79,268.79 306.82,299.50 306.86,239.99 306.89,301.35 306.92,298.04 306.96,283.94 306.99,255.54 307.02,260.48 307.06,264.62 307.09,269.47 307.12,251.60 307.16,307.16 307.19,269.83 307.22,249.29 307.26,293.78 307.29,269.06 307.32,252.97 307.36,252.48 307.39,277.17 307.42,241.61 307.46,265.75 307.49,255.68 307.52,293.81 307.56,288.19 307.59,288.27 307.62,243.32 307.66,316.23 307.69,307.40 307.72,260.55 307.76,272.13 307.79,327.37 307.82,281.79 307.86,280.18 307.89,253.23 307.92,308.74 307.96,284.16 307.99,255.80 308.02,261.18 308.06,291.06 308.09,279.81 308.12,300.94 308.16,250.48 308.19,282.33 308.22,252.11 308.26,260.49 308.29,290.40 308.32,277.26 308.36,263.18 308.39,266.83 308.42,247.61 308.46,254.84 308.49,268.88 308.52,262.39 308.56,287.21 308.59,285.17 308.63,263.93 308.66,268.65 308.69,294.21 308.73,276.00 308.76,288.73 308.79,284.40 308.83,251.69 308.86,291.29 308.89,286.14 308.93,264.52 308.96,273.21 308.99,271.56 309.03,300.06 309.06,274.99 309.09,281.07 309.13,288.80 309.16,284.43 309.19,279.68 309.23,259.63 309.26,241.23 309.29,272.49 309.33,248.25 309.36,272.43 309.39,300.64 309.43,273.39 309.46,251.77 309.49,249.67 309.53,289.98 309.56,234.92 309.59,287.40 309.63,287.28 309.66,283.60 309.69,248.78 309.73,267.28 309.76,258.28 309.79,313.55 309.83,275.26 309.86,276.31 309.89,262.00 309.93,282.58 309.96,253.24 309.99,286.44 310.03,298.90 310.06,303.23 310.09,251.96 310.13,260.90 310.16,288.05 310.19,254.78 310.23,277.26 310.26,276.37 310.30,300.03 310.33,283.91 310.36,272.30 310.40,270.61 310.43,284.12 310.46,256.67 310.50,248.81 310.53,288.46 310.56,267.11 310.60,301.06 310.63,266.89 310.66,291.19 310.70,276.89 310.73,271.12 310.76,278.43 310.80,255.73 310.83,287.83 310.86,282.37 310.90,268.39 310.93,274.72 310.96,269.64 311.00,277.82 311.03,288.31 311.06,262.42 311.10,272.72 311.13,258.24 311.16,250.62 311.20,280.30 311.23,287.11 311.26,282.06 311.30,285.50 311.33,309.05 311.36,245.16 311.40,266.83 311.43,233.02 311.46,283.88 311.50,263.62 311.53,269.20 311.56,275.25 311.60,256.77 311.63,273.94 311.66,275.36 311.70,271.16 311.73,313.26 311.76,286.62 311.80,286.92 311.83,245.01 311.87,263.68 311.90,260.20 311.93,262.94 311.97,277.35 312.00,244.95 312.03,277.61 312.07,298.80 312.10,262.90 312.13,253.24 312.17,272.12 312.20,267.54 312.23,257.10 312.27,247.07 312.30,263.69 312.33,244.40 312.37,268.83 312.40,237.11 312.43,298.08 312.47,257.31 312.50,268.85 312.53,271.79 312.57,296.36 312.60,255.03 312.63,277.31 312.67,291.32 312.70,284.97 312.73,277.95 312.77,272.09 312.80,289.81 312.83,290.06 312.87,266.59 312.90,275.13 312.93,239.37 312.97,281.28 313.00,260.82 313.03,243.31 313.07,277.38 313.10,256.58 313.13,268.57 313.17,272.95 313.20,245.73 313.23,291.27 313.27,284.47 313.30,304.92 313.33,275.99 313.37,256.61 313.40,278.34 313.43,259.48 313.47,287.18 313.50,253.85 313.53,275.86 313.57,282.25 313.60,245.15 313.64,274.07 313.67,263.85 313.70,271.78 313.74,261.57 313.77,271.77 313.80,294.95 313.84,268.95 313.87,265.53 313.90,267.11 313.94,277.90 313.97,242.15 314.00,286.65 314.04,271.75 314.07,270.20 314.10,292.88 314.14,294.75 314.17,262.28 314.20,262.09 314.24,271.46 314.27,302.00 314.30,278.99 314.34,269.71 314.37,263.04 314.40,253.11 314.44,265.95 314.47,257.05 314.50,244.85 314.54,314.79 314.57,256.56 314.60,281.57 314.64,265.50 314.67,270.27 314.70,291.81 314.74,289.74 314.77,266.32 314.80,277.09 314.84,261.15 314.87,280.69 314.90,236.42 314.94,278.42 314.97,237.70 315.00,287.25 315.04,264.18 315.07,254.30 315.10,296.89 315.14,290.89 315.17,266.88 315.20,253.93 315.24,250.12 315.27,264.31 315.31,255.68 315.34,294.34 315.37,337.99 315.41,248.77 315.44,283.67 315.47,278.22 315.51,304.38 315.54,277.34 315.57,301.83 315.61,267.75 315.64,248.34 315.67,268.57 315.71,271.12 315.74,281.04 315.77,264.45 315.81,293.44 315.84,282.12 315.87,236.35 315.91,296.87 315.94,283.97 315.97,298.48 316.01,252.61 316.04,278.25 316.07,296.35 316.11,296.04 316.14,254.79 316.17,262.40 316.21,260.24 316.24,275.30 316.27,258.50 316.31,251.26 316.34,262.58 316.37,302.22 316.41,308.64 316.44,299.83 316.47,269.62 316.51,300.47 316.54,293.25 316.57,273.76 316.61,289.74 316.64,296.77 316.67,257.65 316.71,214.22 316.74,260.70 316.77,258.39 316.81,249.30 316.84,275.24 316.88,277.84 316.91,305.33 316.94,278.88 316.98,285.14 317.01,256.38 317.04,262.94 317.08,248.94 317.11,255.65 317.14,253.99 317.18,265.50 317.21,272.33 317.24,281.46 317.28,275.13 317.31,291.50 317.34,268.00 317.38,276.31 317.41,310.41 317.44,322.17 317.48,287.65 317.51,283.10 317.54,280.21 317.58,252.30 317.61,285.96 317.64,297.21 317.68,268.31 317.71,257.48 317.74,246.22 317.78,292.74 317.81,279.44 317.84,282.48 317.88,248.64 317.91,262.83 317.94,274.64 317.98,262.39 318.01,281.31 318.04,278.62 318.08,275.68 318.11,283.84 318.14,279.50 318.18,268.93 318.21,270.90 318.24,249.23 318.28,260.07 318.31,276.43 318.34,313.44 318.38,301.02 318.41,283.96 318.44,281.90 318.48,298.08 318.51,281.79 318.54,273.27 318.58,286.32 318.61,277.77 318.65,276.94 318.68,287.58 318.71,290.39 318.75,277.59 318.78,270.70 318.81,293.52 318.85,310.96 318.88,292.06 318.91,266.61 318.95,303.54 318.98,259.33 319.01,285.66 319.05,273.28 319.08,288.95 319.11,265.37 319.15,274.64 319.18,269.08 319.21,309.37 319.25,262.97 319.28,304.77 319.31,281.35 319.35,266.55 319.38,278.91 319.41,266.90 319.45,272.65 319.48,274.00 319.51,289.64 319.55,258.14 319.58,256.10 319.61,284.90 319.65,291.12 319.68,272.06 319.71,288.71 319.75,273.22 319.78,261.45 319.81,264.11 319.85,250.01 319.88,267.62 319.91,293.65 319.95,290.40 319.98,266.38 320.01,242.63 320.05,281.77 320.08,291.46 320.11,251.52 320.15,277.79 320.18,263.64 320.21,257.01 320.25,292.63 320.28,281.82 320.32,285.24 320.35,266.52 320.38,264.38 320.42,284.21 320.45,266.04 320.48,306.44 320.52,269.63 320.55,269.74 320.58,275.63 320.62,300.65 320.65,277.40 320.68,294.14 320.72,250.70 320.75,280.66 320.78,279.25 320.82,277.60 320.85,266.40 320.88,274.36 320.92,266.47 320.95,291.64 320.98,256.75 321.02,284.13 321.05,262.68 321.08,271.62 321.12,257.28 321.15,276.95 321.18,300.97 321.22,295.42 321.25,279.59 321.28,251.94 321.32,282.89 321.35,274.75 321.38,254.19 321.42,285.35 321.45,270.44 321.48,270.86 321.52,285.97 321.55,271.74 321.58,257.75 321.62,257.73 321.65,281.44 321.68,225.79 321.72,269.70 321.75,280.42 321.78,288.06 321.82,292.55 321.85,261.68 321.88,325.08 321.92,278.31 321.95,299.23 321.99,278.61 322.02,276.28 322.05,298.09 322.09,292.59 322.12,253.97 322.15,285.15 322.19,275.81 322.22,281.09 322.25,261.49 322.29,254.81 322.32,259.99 322.35,266.23 322.39,266.07 322.42,296.02 322.45,253.30 322.49,285.27 322.52,290.91 322.55,282.14 322.59,289.30 322.62,268.64 322.65,263.33 322.69,253.78 322.72,277.32 322.75,285.89 322.79,280.47 322.82,295.76 322.85,288.30 322.89,241.51 322.92,288.89 322.95,283.56 322.99,264.93 323.02,271.32 323.05,262.58 323.09,290.55 323.12,293.97 323.15,253.13 323.19,287.30 323.22,277.38 323.25,272.06 323.29,307.33 323.32,278.99 323.35,286.83 323.39,266.74 323.42,281.03 323.45,314.21 323.49,262.22 323.52,319.45 323.56,282.74 323.59,287.58 323.62,286.18 323.66,275.93 323.69,259.42 323.72,290.64 323.76,286.19 323.79,263.00 323.82,267.03 323.86,263.45 323.89,270.01 323.92,279.89 323.96,284.09 323.99,283.83 324.02,260.19 324.06,250.10 324.09,241.77 324.12,293.52 324.16,279.77 324.19,275.62 324.22,278.52 324.26,295.02 324.29,238.32 324.32,249.81 324.36,278.50 324.39,283.48 324.42,275.83 324.46,296.42 324.49,281.50 324.52,262.42 324.56,247.27 324.59,260.40 324.62,253.41 324.66,293.79 324.69,331.29 324.72,252.00 324.76,272.50 324.79,277.08 324.82,246.94 324.86,292.22 324.89,292.10 324.92,288.45 324.96,247.84 324.99,259.37 325.02,306.35 325.06,247.13 325.09,275.42 325.12,268.30 325.16,288.98 325.19,243.26 325.23,268.11 325.26,252.95 325.29,292.87 325.33,263.60 325.36,274.10 325.39,279.55 325.43,289.70 325.46,287.76 325.49,295.86 325.53,287.13 325.56,276.11 325.59,265.60 325.63,302.64 325.66,293.58 325.69,286.27 325.73,304.01 325.76,280.67 325.79,280.26 325.83,278.99 325.86,268.56 325.89,259.37 325.93,261.82 325.96,270.85 325.99,265.45 326.03,289.46 326.06,292.00 326.09,264.48 326.13,265.90 326.16,237.66 326.19,279.59 326.23,292.80 326.26,270.63 326.29,283.47 326.33,291.12 326.36,252.03 326.39,242.28 326.43,269.24 326.46,287.01 326.49,271.24 326.53,276.61 326.56,299.77 326.59,261.19 326.63,269.68 326.66,253.88 326.69,285.28 326.73,275.93 326.76,277.65 326.79,305.55 326.83,232.06 326.86,311.93 326.89,295.50 326.93,281.79 326.96,302.77 327.00,268.29 327.03,283.66 327.06,274.29 327.10,271.50 327.13,274.25 327.16,273.83 327.20,278.14 327.23,268.08 327.26,261.42 327.30,279.94 327.33,283.25 327.36,282.44 327.40,270.10 327.43,281.85 327.46,282.09 327.50,301.67 327.53,241.81 327.56,296.88 327.60,246.10 327.63,261.46 327.66,257.47 327.70,270.78 327.73,266.72 327.76,270.22 327.80,264.95 327.83,260.61 327.86,248.65 327.90,292.55 327.93,266.66 327.96,246.95 328.00,250.78 328.03,293.08 328.06,269.67 328.10,270.23 328.13,270.76 328.16,314.54 328.20,259.92 328.23,303.25 328.26,236.68 328.30,263.50 328.33,276.71 328.36,263.86 328.40,272.44 328.43,284.29 328.46,276.55 328.50,268.81 328.53,289.03 328.56,262.34 328.60,255.26 328.63,255.99 328.67,254.11 328.70,251.98 328.73,262.41 328.77,251.76 328.80,273.69 328.83,267.57 328.87,249.77 328.90,240.60 328.93,280.92 328.97,300.30 329.00,236.92 329.03,254.31 329.07,242.50 329.10,258.74 329.13,270.43 329.17,285.89 329.20,291.63 329.23,249.02 329.27,257.27 329.30,269.03 329.33,294.32 329.37,283.89 329.40,285.61 329.43,279.98 329.47,325.64 329.50,270.64 329.53,246.99 329.57,284.28 329.60,274.16 329.63,269.75 329.67,292.32 329.70,267.01 329.73,289.03 329.77,282.42 329.80,270.15 329.83,275.61 329.87,272.92 329.90,290.94 329.93,261.72 329.97,293.86 330.00,259.62 330.03,283.17 330.07,295.68 330.10,276.18 330.13,293.38 330.17,284.04 330.20,277.29 330.24,260.72 330.27,260.47 330.30,266.11 330.34,279.65 330.37,301.69 330.40,278.59 330.44,280.32 330.47,276.92 330.50,283.99 330.54,283.93 330.57,260.31 330.60,298.33 330.64,274.45 330.67,252.21 330.70,288.32 330.74,292.16 330.77,278.60 330.80,280.72 330.84,269.95 330.87,250.52 330.90,276.87 330.94,264.69 330.97,284.95 331.00,283.31 331.04,269.40 331.07,286.56 331.10,253.27 331.14,281.84 331.17,277.52 331.20,293.18 331.24,282.39 331.27,292.48 331.30,283.34 331.34,306.28 331.37,274.84 331.40,243.53 331.44,308.10 331.47,243.67 331.50,276.82 331.54,258.86 331.57,292.66 331.60,238.46 331.64,293.90 331.67,276.05 331.70,246.89 331.74,297.50 331.77,316.43 331.80,275.99 331.84,288.44 331.87,292.11 331.90,291.08 331.94,300.95 331.97,249.62 332.01,252.87 332.04,299.17 332.07,276.63 332.11,282.98 332.14,254.96 332.17,289.77 332.21,245.61 332.24,274.68 332.27,288.90 332.31,276.35 332.34,285.25 332.37,234.16 332.41,272.10 332.44,283.44 332.47,273.06 332.51,248.22 332.54,292.11 332.57,305.13 332.61,251.15 332.64,263.74 332.67,282.92 332.71,276.25 332.74,214.22 332.77,323.97 332.81,251.84 332.84,278.00 332.87,262.60 332.91,275.76 332.94,219.75 332.97,286.04 333.01,254.94 333.04,321.98 333.07,274.14 333.11,260.59 333.14,302.85 333.17,311.64 333.21,273.12 333.24,256.51 333.27,253.38 333.31,287.30 333.34,268.60 333.37,300.51 333.41,243.21 333.44,285.28 333.47,251.74 333.51,279.79 333.54,280.89 333.57,245.45 333.61,290.73 333.64,251.41 333.68,281.40 333.71,290.89 333.74,290.15 333.78,254.43 333.81,276.39 333.84,281.38 333.88,302.37 333.91,253.58 333.94,255.87 333.98,269.08 334.01,260.80 334.04,332.46 334.08,284.65 334.11,272.03 334.14,273.06 334.18,285.33 334.21,270.66 334.24,288.28 334.28,286.92 334.31,297.68 334.34,272.49 334.38,288.15 334.41,284.16 334.44,249.75 334.48,275.78 334.51,275.65 334.54,302.99 334.58,284.54 334.61,257.10 334.64,264.95 334.68,274.03 334.71,278.21 334.74,273.79 334.78,267.75 334.81,280.93 334.84,320.35 334.88,239.17 334.91,254.29 334.94,277.82 334.98,249.28 335.01,298.81 335.04,251.49 335.08,271.52 335.11,258.81 335.14,281.30 335.18,272.25 335.21,264.35 335.25,255.89 335.28,265.63 335.31,266.92 335.35,285.80 335.38,243.71 335.41,271.21 335.45,279.12 335.48,280.92 335.51,296.94 335.55,288.48 335.58,302.78 335.61,271.29 335.65,276.50 335.68,271.02 335.71,297.80 335.75,282.71 335.78,286.71 335.81,256.94 335.85,302.21 335.88,302.72 335.91,251.61 335.95,268.44 335.98,303.61 336.01,250.42 336.05,247.81 336.08,259.62 336.11,302.82 336.15,273.40 336.18,286.68 336.21,278.61 336.25,296.32 336.28,251.64 336.31,284.36 336.35,271.28 336.38,264.18 336.41,266.75 336.45,269.47 336.48,280.29 336.51,272.05 336.55,278.00 336.58,305.68 336.61,261.54 336.65,283.49 336.68,282.06 336.71,280.59 336.75,293.77 336.78,291.38 336.81,299.35 336.85,268.72 336.88,259.11 336.91,274.03 336.95,290.49 336.98,257.43 337.02,279.35 337.05,296.54 337.08,300.43 337.12,272.60 337.15,255.58 337.18,280.24 337.22,283.62 337.25,278.75 337.28,286.51 337.32,282.43 337.35,271.66 337.38,284.82 337.42,262.50 337.45,288.25 337.48,265.52 337.52,270.41 337.55,280.28 337.58,279.09 337.62,279.46 337.65,252.45 337.68,286.00 337.72,259.06 337.75,261.47 337.78,279.64 337.82,253.27 337.85,307.15 337.88,271.78 337.92,273.35 337.95,274.82 337.98,263.80 338.02,280.48 338.05,277.60 338.08,259.58 338.12,276.65 338.15,289.03 338.18,267.41 338.22,276.21 338.25,282.70 338.28,267.64 338.32,285.49 338.35,288.32 338.38,278.61 338.42,277.66 338.45,274.38 338.48,291.33 338.52,251.91 338.55,265.98 338.58,273.17 338.62,271.99 338.65,308.82 338.69,262.63 338.72,288.88 338.75,268.31 338.79,291.20 338.82,261.81 338.85,282.31 338.89,277.96 338.92,254.48 338.95,261.75 338.99,293.64 339.02,284.51 339.05,272.48 339.09,278.24 339.12,264.20 339.15,284.32 339.19,300.39 339.22,287.39 339.25,277.59 339.29,267.71 339.32,265.07 339.35,258.29 339.39,271.92 339.42,277.83 339.45,265.24 339.49,276.44 339.52,281.42 339.55,281.40 339.59,262.58 339.62,255.07 339.65,257.35 339.69,296.65 339.72,260.36 339.75,290.20 339.79,279.70 339.82,267.19 339.85,293.07 339.89,291.63 339.92,285.21 339.95,252.33 339.99,260.58 340.02,287.20 340.05,273.23 340.09,273.26 340.12,270.87 340.15,284.67 340.19,255.66 340.22,280.20 340.25,264.04 340.29,297.79 340.32,269.80 340.36,273.13 340.39,256.78 340.42,310.10 340.46,267.60 340.49,264.12 340.52,278.66 340.56,257.34 340.59,246.73 340.62,263.20 340.66,264.16 340.69,256.88 340.72,269.15 340.76,258.51 340.79,266.99 340.82,284.30 340.86,289.24 340.89,259.22 340.92,266.99 340.96,284.10 340.99,274.70 341.02,255.31 341.06,298.18 341.09,287.22 341.12,265.64 341.16,263.94 341.19,290.86 341.22,288.48 341.26,272.82 341.29,256.10 341.32,274.89 341.36,306.38 341.39,261.17 341.42,275.34 341.46,281.24 341.49,290.71 341.52,258.94 341.56,271.44 341.59,269.60 341.62,270.33 341.66,269.17 341.69,263.76 341.72,251.93 341.76,289.39 341.79,276.07 341.82,281.17 341.86,252.35 341.89,278.94 341.93,296.79 341.96,275.42 341.99,284.94 342.03,285.04 342.06,281.09 342.09,292.70 342.13,301.15 342.16,248.74 342.19,276.77 342.23,287.69 342.26,266.65 342.29,257.06 342.33,298.65 342.36,281.10 342.39,271.27 342.43,286.46 342.46,268.98 342.49,291.77 342.53,284.06 342.56,276.71 342.59,269.29 342.63,274.54 342.66,284.27 342.69,280.05 342.73,303.62 342.76,246.26 342.79,280.60 342.83,279.06 342.86,271.50 342.89,267.37 342.93,270.45 342.96,284.23 342.99,297.46 343.03,277.44 343.06,285.86 343.09,282.55 343.13,275.12 343.16,271.84 343.19,257.65 343.23,277.09 343.26,298.41 343.29,267.20 343.33,262.59 343.36,297.31 343.39,266.92 343.43,272.58 343.46,282.44 343.49,272.80 343.53,269.86 343.56,267.12 343.60,259.62 343.63,275.29 343.66,275.20 343.70,242.51 343.73,289.56 343.76,278.82 343.80,279.91 343.83,264.75 343.86,260.17 343.90,292.96 343.93,258.49 343.96,291.17 344.00,239.88 344.03,284.17 344.06,260.19 344.10,278.73 344.13,265.53 344.16,285.22 344.20,273.32 344.23,274.80 344.26,273.85 344.30,264.37 344.33,281.06 344.36,279.48 344.40,292.87 344.43,276.98 344.46,281.74 344.50,263.17 344.53,266.04 344.56,284.87 344.60,269.12 344.63,257.35 344.66,277.93 344.70,290.93 344.73,241.86 344.76,267.62 344.80,265.59 344.83,241.28 344.86,285.87 344.90,270.96 344.93,300.67 344.96,268.44 345.00,269.75 345.03,285.66 345.06,286.59 345.10,277.46 345.13,278.20 345.16,253.71 345.20,278.38 345.23,277.23 345.26,277.47 345.30,296.68 345.33,281.67 345.37,293.34 345.40,273.38 345.43,304.71 345.47,290.28 345.50,271.66 345.53,303.46 345.57,296.14 345.60,261.67 345.63,293.08 345.67,275.23 345.70,270.96 345.73,289.43 345.77,297.91 345.80,254.49 345.83,282.64 345.87,268.14 345.90,285.37 345.93,270.19 345.97,292.84 346.00,293.68 346.03,289.24 346.07,283.60 346.10,283.60 346.13,279.58 346.17,269.27 346.20,282.36 346.23,262.50 346.27,284.07 346.30,266.18 346.33,257.42 346.37,251.62 346.40,301.95 346.43,251.83 346.47,298.94 346.50,255.96 346.53,275.29 346.57,270.37 346.60,287.88 346.63,262.49 346.67,265.85 346.70,282.58 346.73,283.43 346.77,263.54 346.80,261.17 346.83,264.73 346.87,280.24 346.90,275.05 346.94,262.43 346.97,263.79 347.00,259.86 347.04,273.17 347.07,284.58 347.10,271.18 347.14,268.97 347.17,282.26 347.20,269.03 347.24,286.39 347.27,271.61 347.30,283.24 347.34,246.53 347.37,259.01 347.40,271.54 347.44,292.80 347.47,291.66 347.50,265.66 347.54,277.12 347.57,270.93 347.60,296.34 347.64,295.38 347.67,273.53 347.70,277.89 347.74,293.06 347.77,285.88 347.80,264.50 347.84,280.95 347.87,267.33 347.90,252.80 347.94,270.54 347.97,273.35 348.00,283.11 348.04,258.67 348.07,294.57 348.10,289.90 348.14,275.33 348.17,294.96 348.20,261.86 348.24,283.51 348.27,267.95 348.30,279.26 348.34,278.49 348.37,274.90 348.40,301.56 348.44,289.77 348.47,281.47 348.50,245.15 348.54,264.12 348.57,265.34 348.60,289.09 348.64,263.06 348.67,258.30 348.71,264.95 348.74,239.71 348.77,293.27 348.81,289.61 348.84,278.65 348.87,288.25 348.91,274.40 348.94,268.08 348.97,275.28 349.01,273.74 349.04,269.64 349.07,264.66 349.11,284.01 349.14,284.13 349.17,259.03 349.21,279.69 349.24,286.34 349.27,271.29 349.31,279.87 349.34,273.52 349.37,275.99 349.41,266.61 349.44,262.80 349.47,286.31 349.51,291.51 349.54,253.61 349.57,284.38 349.61,296.06 349.64,300.72 349.67,275.64 349.71,283.83 349.74,299.84 349.77,287.93 349.81,289.44 349.84,261.73 349.87,272.00 349.91,275.34 349.94,292.31 349.97,277.62 350.01,266.26 350.04,273.05 350.07,260.96 350.11,274.15 350.14,265.87 350.17,269.04 350.21,282.85 350.24,257.18 350.27,270.33 350.31,264.09 350.34,289.56 350.38,289.84 350.41,277.63 350.44,286.06 350.48,266.86 350.51,269.70 350.54,258.68 350.58,267.27 350.61,290.44 350.64,262.43 350.68,283.97 350.71,285.10 350.74,274.37 350.78,275.33 350.81,261.23 350.84,237.11 350.88,269.50 350.91,255.61 350.94,278.06 350.98,270.67 351.01,282.18 351.04,280.91 351.08,257.11 351.11,269.11 351.14,269.20 351.18,286.00 351.21,252.19 351.24,277.60 351.28,283.97 351.31,275.47 351.34,266.14 351.38,265.12 351.41,255.41 351.44,289.49 351.48,281.00 351.51,254.20 351.54,244.60 351.58,283.65 351.61,276.49 351.64,295.99 351.68,286.27 351.71,287.08 351.74,276.58 351.78,291.22 351.81,262.66 351.84,275.96 351.88,278.59 351.91,262.78 351.94,278.77 351.98,291.87 352.01,274.81 352.05,245.97 352.08,273.83 352.11,268.13 352.15,277.82 352.18,278.12 352.21,268.38 352.25,310.75 352.28,291.85 352.31,283.17 352.35,278.79 352.38,255.62 352.41,242.17 352.45,266.69 352.48,269.81 352.51,265.99 352.55,254.91 352.58,288.40 352.61,281.79 352.65,273.08 352.68,271.16 352.71,300.70 352.75,269.39 352.78,296.54 352.81,264.88 352.85,263.80 352.88,305.58 352.91,268.42 352.95,272.54 352.98,283.49 353.01,262.39 353.05,248.25 353.08,268.51 353.11,289.88 353.15,294.57 353.18,290.91 353.21,288.87 353.25,260.09 353.28,271.33 353.31,275.56 353.35,263.47 353.38,274.95 353.41,274.73 353.45,286.51 353.48,283.57 353.51,274.79 353.55,290.92 353.58,252.88 353.62,273.54 353.65,282.58 353.68,262.10 353.72,289.43 353.75,260.99 353.78,274.07 353.82,249.92 353.85,282.59 353.88,280.54 353.92,286.55 353.95,291.98 353.98,271.84 354.02,289.44 354.05,270.93 354.08,283.81 354.12,261.05 354.15,309.51 354.18,269.63 354.22,274.59 354.25,275.22 354.28,283.74 354.32,251.75 354.35,280.75 354.38,269.52 354.42,278.77 354.45,280.08 354.48,274.06 354.52,266.17 354.55,290.25 354.58,281.57 354.62,294.18 354.65,269.90 354.68,286.72 354.72,285.27 354.75,266.51 354.78,275.42 354.82,269.83 354.85,277.15 354.88,269.77 354.92,274.10 354.95,290.26 354.98,272.42 355.02,279.90 355.05,278.50 355.08,271.52 355.12,282.67 355.15,289.52 355.18,259.38 355.22,250.55 355.25,279.91 355.28,259.85 355.32,270.10 355.35,283.91 355.39,286.51 355.42,279.05 355.45,281.05 355.49,279.75 355.52,276.94 355.55,290.48 355.59,263.66 355.62,290.47 355.65,289.65 355.69,262.86 355.72,265.05 355.75,255.72 355.79,273.45 355.82,283.93 355.85,259.88 355.89,276.56 355.92,276.95 355.95,286.67 355.99,269.86 356.02,307.09 356.05,268.20 356.09,302.19 356.12,263.54 356.15,296.22 356.19,266.12 356.22,242.01 356.25,279.02 356.29,290.97 356.32,249.12 356.35,281.21 356.39,290.26 356.42,258.38 356.45,313.56 356.49,295.24 356.52,292.99 356.55,284.63 356.59,302.54 356.62,264.19 356.65,261.50 356.69,276.03 356.72,280.85 356.75,296.34 356.79,268.97 356.82,284.72 356.85,266.99 356.89,261.54 356.92,274.66 356.95,303.76 356.99,287.90 357.02,256.88 357.06,271.56 357.09,256.12 357.12,305.39 357.16,276.78 357.19,277.64 357.22,297.17 357.26,283.95 357.29,262.08 357.32,267.96 357.36,282.47 357.39,270.86 357.42,259.18 357.46,289.80 357.49,271.30 357.52,261.18 357.56,284.53 357.59,257.69 357.62,276.46 357.66,260.28 357.69,262.78 357.72,271.67 357.76,279.16 357.79,284.07 357.82,272.93 357.86,272.38 357.89,256.29 357.92,276.38 357.96,270.46 357.99,252.49 358.02,270.85 358.06,269.04 358.09,253.51 358.12,273.97 358.16,269.82 358.19,265.01 358.22,276.78 358.26,290.21 358.29,294.92 358.32,277.93 358.36,260.04 358.39,261.77 358.42,253.23 358.46,262.98 358.49,283.94 358.52,294.82 358.56,282.16 358.59,278.78 358.62,285.21 358.66,262.77 358.69,285.88 358.73,267.38 358.76,264.67 358.79,298.66 358.83,280.91 358.86,258.28 358.89,263.84 358.93,273.57 358.96,290.14 358.99,284.68 359.03,274.03 359.06,258.21 359.09,268.57 359.13,276.38 359.16,272.07 359.19,264.73 359.23,298.84 359.26,288.56 359.29,274.80 359.33,258.93 359.36,260.68 359.39,285.73 359.43,274.90 359.46,285.21 359.49,280.49 359.53,273.29 359.56,280.11 359.59,282.76 359.63,290.93 359.66,296.59 359.69,277.84 359.73,272.66 359.76,266.93 359.79,286.26 359.83,284.99 359.86,258.25 359.89,269.66 359.93,263.34 359.96,282.91 359.99,284.88 360.03,290.76 360.06,261.92 360.09,290.55 360.13,298.56 360.16,285.34 360.19,258.23 360.23,274.89 360.26,272.12 360.29,273.70 360.33,275.88 360.36,277.52 360.40,294.15 360.43,252.88 360.46,277.32 360.50,258.96 360.53,296.29 360.56,267.99 360.60,291.15 360.63,292.65 360.66,271.69 360.70,261.41 360.73,256.88 360.76,257.37 360.80,278.93 360.83,264.72 360.86,283.31 360.90,282.54 360.93,271.99 360.96,276.86 361.00,263.85 361.03,299.91 361.06,259.99 361.10,283.09 361.13,255.40 361.16,259.88 361.20,290.74 361.23,275.93 361.26,266.14 361.30,285.90 361.33,285.22 361.36,279.34 361.40,265.23 361.43,263.04 361.46,280.91 361.50,264.10 361.53,255.44 361.56,262.87 361.60,285.07 361.63,286.52 361.66,271.39 361.70,264.19 361.73,269.45 361.76,280.38 361.80,287.67 361.83,258.16 361.86,277.20 361.90,250.16 361.93,290.57 361.96,279.62 362.00,283.78 362.03,250.45 362.07,258.58 362.10,281.79 362.13,301.00 362.17,259.69 362.20,273.39 362.23,290.26 362.27,295.27 362.30,269.77 362.33,277.89 362.37,273.19 362.40,269.83 362.43,280.08 362.47,278.77 362.50,266.27 362.53,276.59 362.57,278.83 362.60,266.54 362.63,301.60 362.67,258.45 362.70,269.13 362.73,285.34 362.77,277.45 362.80,258.63 362.83,267.67 362.87,298.90 362.90,288.66 362.93,272.62 362.97,251.16 363.00,264.83 363.03,277.69 363.07,267.30 363.10,274.82 363.13,279.08 363.17,269.93 363.20,303.64 363.23,261.50 363.27,267.84 363.30,280.91 363.33,286.46 363.37,291.16 363.40,271.37 363.43,273.02 363.47,272.65 363.50,252.12 363.53,304.45 363.57,284.65 363.60,285.35 363.63,262.33 363.67,278.36 363.70,287.61 363.74,272.22 363.77,269.57 363.80,253.45 363.84,271.60 363.87,280.88 363.90,281.72 363.94,285.86 363.97,268.47 364.00,264.07 364.04,278.02 364.07,276.80 364.10,256.56 364.14,273.65 364.17,268.33 364.20,289.50 364.24,283.08 364.27,303.56 364.30,293.27 364.34,270.07 364.37,258.32 364.40,278.56 364.44,290.95 364.47,273.75 364.50,259.69 364.54,277.18 364.57,262.70 364.60,275.83 364.64,291.45 364.67,287.11 364.70,278.41 364.74,244.48 364.77,267.17 364.80,278.17 364.84,271.10 364.87,272.14 364.90,280.90 364.94,276.39 364.97,278.38 365.00,265.06 365.04,254.13 365.07,257.23 365.10,279.24 365.14,267.58 365.17,284.66 365.20,289.58 365.24,273.96 365.27,266.83 365.30,275.81 365.34,263.91 365.37,263.90 365.41,264.85 365.44,277.03 365.47,293.16 365.51,250.89 365.54,281.34 365.57,265.18 365.61,268.47 365.64,279.60 365.67,250.55 365.71,265.95 365.74,275.15 365.77,280.54 365.81,287.90 365.84,291.88 365.87,267.33 365.91,280.85 365.94,281.02 365.97,268.22 366.01,279.61 366.04,266.26 366.07,283.51 366.11,281.90 366.14,262.71 366.17,284.06 366.21,266.81 366.24,268.22 366.27,274.86 366.31,297.05 366.34,292.45 366.37,289.57 366.41,292.14 366.44,263.47 366.47,286.59 366.51,291.52 366.54,281.74 366.57,276.28 366.61,297.23 366.64,266.93 366.67,265.36 366.71,282.93 366.74,264.23 366.77,295.70 366.81,282.35 366.84,277.18 366.87,274.07 366.91,259.71 366.94,279.39 366.97,288.45 367.01,272.15 367.04,272.94 367.08,269.05 367.11,279.45 367.14,272.71 367.18,282.60 367.21,267.53 367.24,283.81 367.28,283.25 367.31,259.51 367.34,285.12 367.38,274.97 367.41,267.48 367.44,279.24 367.48,263.01 367.51,282.73 367.54,261.47 367.58,295.70 367.61,292.97 367.64,274.14 367.68,256.05 367.71,253.63 367.74,286.43 367.78,275.42 367.81,281.55 367.84,303.45 367.88,265.42 367.91,280.01 367.94,256.86 367.98,271.34 368.01,282.07 368.04,284.20 368.08,277.53 368.11,269.00 368.14,281.53 368.18,237.84 368.21,272.27 368.24,290.10 368.28,273.96 368.31,259.85 368.34,269.33 368.38,279.42 368.41,283.82 368.44,285.50 368.48,290.73 368.51,281.87 368.54,271.55 368.58,282.53 368.61,253.46 368.64,270.03 368.68,280.91 368.71,275.46 368.75,255.58 368.78,297.62 368.81,271.89 368.85,239.50 368.88,261.74 368.91,287.02 368.95,273.37 368.98,278.15 369.01,238.12 369.05,283.94 369.08,278.65 369.11,279.41 369.15,293.92 369.18,318.79 369.21,278.18 369.25,268.20 369.28,280.77 369.31,268.47 369.35,265.04 369.38,265.77 369.41,297.55 369.45,255.02 369.48,263.63 369.51,264.38 369.55,274.90 369.58,275.07 369.61,282.22 369.65,269.46 369.68,262.78 369.71,282.60 369.75,264.17 369.78,281.21 369.81,267.16 369.85,276.96 369.88,263.62 369.91,249.44 369.95,272.02 369.98,281.55 370.01,280.69 370.05,266.75 370.08,281.59 370.11,262.02 370.15,271.06 370.18,263.00 370.21,282.34 370.25,287.71 370.28,284.89 370.31,269.73 370.35,285.43 370.38,265.78 370.42,302.31 370.45,283.84 370.48,277.18 370.52,299.27 370.55,283.11 370.58,294.87 370.62,275.93 370.65,278.20 370.68,265.13 370.72,286.15 370.75,296.61 370.78,282.21 370.82,273.25 370.85,273.72 370.88,272.74 370.92,258.77 370.95,279.69 370.98,277.78 371.02,286.19 371.05,282.83 371.08,261.09 371.12,270.16 371.15,309.68 371.18,258.93 371.22,301.39 371.25,280.40 371.28,262.03 371.32,273.21 371.35,267.52 371.38,263.40 371.42,270.97 371.45,291.62 371.48,270.03 371.52,284.19 371.55,307.03 371.58,278.80 371.62,267.63 371.65,273.33 371.68,274.80 371.72,251.83 371.75,271.29 371.78,262.77 371.82,270.55 371.85,253.05 371.88,279.79 371.92,259.22 371.95,250.70 371.99,279.84 372.02,260.97 372.05,292.87 372.09,270.66 372.12,265.08 372.15,285.89 372.19,298.68 372.22,274.19 372.25,279.19 372.29,272.36 372.32,270.92 372.35,263.74 372.39,254.03 372.42,269.05 372.45,295.11 372.49,265.84 372.52,269.59 372.55,272.82 372.59,253.71 372.62,271.23 372.65,279.48 372.69,268.55 372.72,295.97 372.75,262.00 372.79,273.89 372.82,252.25 372.85,265.58 372.89,269.69 372.92,272.18 372.95,290.36 372.99,275.71 373.02,270.68 373.05,261.55 373.09,268.89 373.12,265.39 373.15,265.49 373.19,281.60 373.22,270.55 373.25,277.45 373.29,291.20 373.32,294.63 373.35,263.58 373.39,255.51 373.42,255.67 373.45,285.82 373.49,254.62 373.52,253.83 373.55,284.62 373.59,268.06 373.62,251.84 373.65,273.28 373.69,258.78 373.72,282.73 373.76,278.99 373.79,262.83 373.82,276.67 373.86,272.79 373.89,273.24 373.92,288.06 373.96,254.67 373.99,276.28 374.02,278.83 374.06,280.40 374.09,273.62 374.12,286.84 374.16,262.98 374.19,279.00 374.22,263.97 374.26,286.12 374.29,288.01 374.32,286.72 374.36,271.45 374.39,292.04 374.42,263.34 374.46,278.89 374.49,262.61 374.52,279.59 374.56,263.75 374.59,288.16 374.62,289.13 374.66,266.67 374.69,281.86 374.72,260.49 374.76,283.77 374.79,267.78 374.82,285.44 374.86,297.69 374.89,255.55 374.92,277.35 374.96,261.69 374.99,272.23 375.02,297.37 375.06,269.35 375.09,260.24 375.12,257.44 375.16,252.84 375.19,269.41 375.22,275.99 375.26,273.69 375.29,290.10 375.32,264.86 375.36,265.01 375.39,270.00 375.43,284.92 375.46,266.09 375.49,281.97 375.53,258.08 375.56,282.73 375.59,281.67 375.63,278.92 375.66,288.38 375.69,286.59 375.73,278.44 375.76,307.41 375.79,248.10 375.83,269.74 375.86,270.83 375.89,286.45 375.93,272.17 375.96,274.84 375.99,273.44 376.03,294.44 376.06,276.31 376.09,299.91 376.13,277.40 376.16,286.59 376.19,282.87 376.23,279.11 376.26,263.59 376.29,258.53 376.33,274.40 376.36,289.15 376.39,255.00 376.43,293.52 376.46,282.17 376.49,277.68 376.53,284.66 376.56,257.06 376.59,269.46 376.63,260.48 376.66,278.80 376.69,263.25 376.73,276.88 376.76,276.81 376.79,270.87 376.83,269.65 376.86,267.24 376.89,277.73 376.93,294.91 376.96,279.13 377.00,310.69 377.03,278.74 377.06,285.77 377.10,263.98 377.13,311.13 377.16,248.20 377.20,279.53 377.23,296.24 377.26,269.30 377.30,268.44 377.33,269.28 377.36,245.86 377.40,286.06 377.43,271.04 377.46,272.97 377.50,284.07 377.53,271.10 377.56,258.15 377.60,286.35 377.63,268.96 377.66,261.53 377.70,266.26 377.73,296.34 377.76,271.20 377.80,280.15 377.83,258.60 377.86,276.67 377.90,248.75 377.93,291.45 377.96,268.30 378.00,286.68 378.03,251.28 378.06,253.98 378.10,287.33 378.13,264.91 378.16,275.54 378.20,296.69 378.23,288.93 378.26,273.66 378.30,268.09 378.33,279.99 378.36,271.05 378.40,270.79 378.43,271.14 378.46,290.81 378.50,273.14 378.53,267.87 378.56,294.92 378.60,254.40 378.63,255.49 378.66,272.81 378.70,247.06 378.73,285.71 378.77,287.61 378.80,283.31 378.83,284.54 378.87,250.30 378.90,274.32 378.93,275.73 378.97,270.10 379.00,253.71 379.03,272.72 379.07,280.00 379.10,271.33 379.13,258.13 379.17,277.67 379.20,256.08 379.23,270.86 379.27,277.31 379.30,268.37 379.33,248.55 379.37,278.20 379.40,256.55 379.43,267.40 379.47,272.83 379.50,274.26 379.53,263.99 379.57,266.72 379.60,269.97 379.63,266.15 379.67,286.42 379.70,283.64 379.73,288.27 379.77,279.53 379.80,277.74 379.83,279.84 379.87,267.82 379.90,287.55 379.93,278.17 379.97,263.39 380.00,252.49 380.03,274.22 380.07,258.94 380.10,256.67 380.13,288.47 380.17,271.71 380.20,288.87 380.23,280.09 380.27,269.51 380.30,291.78 380.33,267.85 380.37,276.80 380.40,278.15 380.44,267.82 380.47,285.87 380.50,297.45 380.54,274.56 380.57,284.52 380.60,277.59 380.64,289.58 380.67,287.42 380.70,288.63 380.74,291.98 380.77,285.80 380.80,285.41 380.84,274.65 380.87,233.03 380.90,283.22 380.94,296.10 380.97,267.36 381.00,291.40 381.04,286.88 381.07,279.61 381.10,274.52 381.14,274.15 381.17,271.86 381.20,276.66 381.24,260.44 381.27,263.99 381.30,282.31 381.34,277.96 381.37,293.06 381.40,266.39 381.44,277.87 381.47,249.94 381.50,284.13 381.54,255.08 381.57,287.30 381.60,297.40 381.64,286.50 381.67,270.65 381.70,261.72 381.74,286.74 381.77,262.40 381.80,282.08 381.84,281.97 381.87,279.17 381.90,253.38 381.94,272.80 381.97,271.17 382.00,295.15 382.04,273.01 382.07,271.53 382.11,253.68 382.14,286.70 382.17,284.54 382.21,287.34 382.24,283.82 382.27,266.38 382.31,285.75 382.34,258.41 382.37,274.81 382.41,287.29 382.44,283.85 382.47,293.38 382.51,294.41 382.54,260.10 382.57,263.68 382.61,288.25 382.64,281.26 382.67,254.15 382.71,284.89 382.74,272.40 382.77,268.64 382.81,277.98 382.84,277.83 382.87,279.82 382.91,273.80 382.94,295.98 382.97,274.75 383.01,272.99 383.04,292.88 383.07,269.44 383.11,287.70 383.14,310.03 383.17,301.01 383.21,274.16 383.24,268.03 383.27,281.10 383.31,294.64 383.34,277.61 383.37,263.37 383.41,276.09 383.44,294.90 383.47,269.33 383.51,278.15 383.54,277.80 383.57,274.70 383.61,268.11 383.64,276.95 383.67,288.23 383.71,276.98 383.74,273.76 383.78,259.95 383.81,291.70 383.84,277.36 383.88,287.10 383.91,271.99 383.94,282.74 383.98,316.18 384.01,262.97 384.04,284.30 384.08,289.98 384.11,295.45 384.14,289.66 384.18,292.68 384.21,277.49 384.24,273.66 384.28,276.60 384.31,270.85 384.34,286.56 384.38,267.61 384.41,276.96 384.44,269.72 384.48,267.47 384.51,280.43 384.54,259.21 384.58,265.03 384.61,280.96 384.64,252.36 384.68,253.59 384.71,295.80 384.74,305.18 384.78,283.70 384.81,269.40 384.84,263.19 384.88,266.77 384.91,275.69 384.94,262.75 384.98,266.10 385.01,281.26 385.04,273.05 385.08,261.45 385.11,283.87 385.14,283.72 385.18,286.45 385.21,256.20 385.24,266.59 385.28,264.31 385.31,280.31 385.34,275.77 385.38,259.42 385.41,279.07 385.45,259.82 385.48,275.65 385.51,275.69 385.55,268.09 385.58,264.08 385.61,252.29 385.65,279.91 385.68,253.17 385.71,285.34 385.75,286.63 385.78,304.72 385.81,264.27 385.85,255.87 385.88,291.08 385.91,279.57 385.95,278.70 385.98,295.74 386.01,274.39 386.05,271.36 386.08,281.88 386.11,288.70 386.15,273.53 386.18,267.46 386.21,293.87 386.25,276.59 386.28,267.91 386.31,312.12 386.35,271.03 386.38,252.68 386.41,292.15 386.45,258.08 386.48,279.13 386.51,267.30 386.55,277.35 386.58,290.28 386.61,297.78 386.65,243.86 386.68,292.85 386.71,278.81 386.75,256.47 386.78,271.23 386.81,272.93 386.85,301.72 386.88,283.36 386.91,292.74 386.95,298.83 386.98,270.44 387.01,264.27 387.05,285.35 387.08,283.77 387.12,269.54 387.15,263.61 387.18,289.11 387.22,259.78 387.25,262.85 387.28,275.14 387.32,289.84 387.35,267.73 387.38,266.10 387.42,252.02 387.45,283.11 387.48,254.30 387.52,279.85 387.55,268.24 387.58,276.68 387.62,274.08 387.65,255.82 387.68,284.20 387.72,264.25 387.75,278.73 387.78,275.66 387.82,284.64 387.85,272.55 387.88,301.52 387.92,278.60 387.95,261.81 387.98,264.06 388.02,296.62 388.05,289.99 388.08,280.63 388.12,250.40 388.15,280.81 388.18,275.28 388.22,278.40 388.25,271.13 388.28,287.20 388.32,271.72 388.35,268.85 388.38,261.34 388.42,286.80 388.45,263.19 388.48,249.66 388.52,264.66 388.55,266.04 388.58,307.49 388.62,257.37 388.65,249.70 388.68,258.92 388.72,268.38 388.75,264.08 388.79,235.23 388.82,284.53 388.85,280.44 388.89,260.45 388.92,271.68 388.95,303.79 388.99,272.10 389.02,270.46 389.05,287.49 389.09,270.02 389.12,271.80 389.15,299.04 389.19,268.21 389.22,246.43 389.25,251.80 389.29,290.16 389.32,292.68 389.35,274.28 389.39,271.33 389.42,292.92 389.45,284.96 389.49,256.94 389.52,271.82 389.55,261.22 389.59,275.50 389.62,261.37 389.65,282.15 389.69,282.00 389.72,287.76 389.75,300.71 389.79,280.39 389.82,293.21 389.85,281.36 389.89,273.19 389.92,272.80 389.95,269.86 389.99,280.39 390.02,275.89 390.05,259.67 390.09,277.19 390.12,274.76 390.15,307.90 390.19,289.91 390.22,260.49 390.25,286.74 390.29,289.57 390.32,262.21 390.36,291.59 390.39,261.91 390.42,276.52 390.46,283.59 390.49,302.66 390.52,257.43 390.56,299.57 390.59,291.72 390.62,264.68 390.66,291.88 390.69,268.44 390.72,275.74 390.76,278.90 390.79,289.45 390.82,284.13 390.86,271.58 390.89,288.44 390.92,266.80 390.96,272.06 390.99,268.01 391.02,272.17 391.06,267.73 391.09,270.17 391.12,264.20 391.16,270.22 391.19,270.95 391.22,287.58 391.26,298.43 391.29,274.60 391.32,262.42 391.36,287.76 391.39,296.60 391.42,282.63 391.46,270.47 391.49,263.83 391.52,279.61 391.56,291.09 391.59,276.12 391.62,266.18 391.66,276.01 391.69,261.73 391.72,282.05 391.76,263.62 391.79,253.34 391.82,288.65 391.86,286.95 391.89,266.58 391.92,233.44 391.96,268.50 391.99,275.65 392.02,257.74 392.06,276.81 392.09,296.98 392.13,288.09 392.16,257.19 392.19,297.86 392.23,294.38 392.26,264.29 392.29,273.30 392.33,259.06 392.36,289.50 392.39,285.15 392.43,279.95 392.46,291.88 392.49,278.42 392.53,277.59 392.56,263.67 392.59,276.46 392.63,280.66 392.66,268.65 392.69,260.43 392.73,261.33 392.76,271.57 392.79,280.39 392.83,281.63 392.86,292.84 392.89,274.38 392.93,275.62 392.96,253.17 392.99,272.36 393.03,265.26 393.06,257.72 393.09,300.38 393.13,283.96 393.16,278.45 393.19,273.68 393.23,290.52 393.26,263.76 393.29,263.13 393.33,268.54 393.36,266.14 393.39,290.03 393.43,260.03 393.46,283.50 393.49,300.63 393.53,273.62 393.56,269.61 393.59,284.47 393.63,297.54 393.66,290.74 393.69,277.33 393.73,309.39 393.76,261.49 393.80,261.85 393.83,277.71 393.86,261.07 393.90,277.50 393.93,290.55 393.96,266.79 394.00,267.76 394.03,287.76 394.06,294.25 394.10,288.51 394.13,259.59 394.16,279.38 394.20,237.52 394.23,284.14 394.26,267.17 394.30,270.97 394.33,278.31 394.36,264.06 394.40,286.82 394.43,276.05 394.46,291.08 394.50,304.66 394.53,274.37 394.56,290.70 394.60,292.81 394.63,267.48 394.66,277.49 394.70,270.11 394.73,252.03 394.76,272.87 394.80,269.20 394.83,291.32 394.86,264.03 394.90,263.82 394.93,289.40 394.96,266.46 395.00,270.98 395.03,278.16 395.06,274.13 395.10,242.68 395.13,283.97 395.16,279.76 395.20,273.90 395.23,277.69 395.26,299.82 395.30,266.54 395.33,262.86 395.37,251.96 395.40,282.85 395.43,292.23 395.47,266.43 395.50,289.09 395.53,275.29 395.57,280.69 395.60,272.70 395.63,281.27 395.67,265.83 395.70,287.64 395.73,243.15 395.77,264.74 395.80,283.67 395.83,288.24 395.87,277.76 395.90,281.56 395.93,286.37 395.97,256.43 396.00,262.14 396.03,289.82 396.07,267.68 396.10,275.03 396.13,264.84 396.17,284.12 396.20,246.50 396.23,274.16 396.27,248.31 396.30,281.57 396.33,257.01 396.37,276.64 396.40,252.72 396.43,277.63 396.47,289.55 396.50,289.66 396.53,283.73 396.57,267.02 396.60,270.11 396.63,273.56 396.67,260.84 396.70,253.07 396.73,288.69 396.77,261.60 396.80,243.95 396.83,283.47 396.87,282.76 396.90,269.67 396.93,272.03 396.97,282.36 397.00,276.07 397.03,253.42 397.07,262.77 397.10,285.99 397.14,298.13 397.17,290.01 397.20,272.67 397.24,285.68 397.27,286.44 397.30,265.37 397.34,278.92 397.37,280.24 397.40,272.19 397.44,255.53 397.47,270.94 397.50,265.78 397.54,273.97 397.57,254.19 397.60,291.61 397.64,290.19 397.67,281.92 397.70,247.75 397.74,254.26 397.77,289.87 397.80,281.24 397.84,267.65 397.87,274.12 397.90,263.09 397.94,281.67 397.97,297.36 398.00,266.72 398.04,258.18 398.07,295.73 398.10,300.33 398.14,281.13 398.17,300.20 398.20,269.24 398.24,290.64 398.27,265.03 398.30,279.64 398.34,273.23 398.37,266.10 398.40,277.75 398.44,288.68 398.47,262.68 398.50,294.82 398.54,256.04 398.57,283.21 398.60,282.11 398.64,269.68 398.67,269.38 398.70,268.18 398.74,294.78 398.77,286.87 398.81,270.38 398.84,269.99 398.87,276.24 398.91,257.55 398.94,277.37 398.97,262.31 399.01,260.36 399.04,270.30 399.07,277.58 399.11,265.01 399.14,268.94 399.17,266.62 399.21,286.62 399.24,268.68 399.27,253.49 399.31,278.76 399.34,273.08 399.37,278.16 399.41,263.08 399.44,302.68 399.47,253.44 399.51,268.04 399.54,277.97 399.57,271.23 399.61,259.75 399.64,269.92 399.67,265.88 399.71,258.73 399.74,272.60 399.77,264.91 399.81,255.05 399.84,267.30 399.87,283.19 399.91,264.47 399.94,247.47 399.97,279.11 400.01,268.74 400.04,269.07 400.07,262.95 400.11,280.32 400.14,275.08 400.17,248.58 400.21,265.51 400.24,283.09 400.27,264.21 400.31,273.95 400.34,254.17 400.38,296.38 400.41,273.44 400.44,261.63 400.48,291.77 400.51,284.77 400.54,268.40 400.58,274.27 400.61,278.82 400.64,270.66 400.68,293.36 400.71,285.99 400.74,251.60 400.78,283.40 400.81,268.92 400.84,275.47 400.88,263.26 400.91,270.36 400.94,269.35 400.98,259.19 401.01,270.43 401.04,297.48 401.08,283.58 401.11,255.70 401.14,260.57 401.18,277.84 401.21,295.98 401.24,284.28 401.28,246.96 401.31,258.75 401.34,258.44 401.38,296.27 401.41,292.85 401.44,282.63 401.48,292.85 401.51,273.26 401.54,289.34 401.58,268.44 401.61,277.74 401.64,282.24 401.68,266.07 401.71,268.80 401.74,273.04 401.78,279.64 401.81,275.44 401.84,300.46 401.88,300.90 401.91,283.81 401.94,272.95 401.98,251.31 402.01,269.51 402.04,287.96 402.08,281.27 402.11,291.64 402.15,275.39 402.18,276.01 402.21,275.31 402.25,271.21 402.28,260.97 402.31,265.71 402.35,290.19 402.38,263.59 402.41,288.30 402.45,269.73 402.48,273.54 402.51,252.46 402.55,276.15 402.58,276.08 402.61,278.45 402.65,263.36 402.68,270.67 402.71,278.33 402.75,263.70 402.78,246.79 402.81,253.15 402.85,254.82 402.88,281.86 402.91,275.97 402.95,272.59 402.98,297.36 403.01,251.87 403.05,293.82 403.08,269.40 403.11,291.12 403.15,273.05 403.18,263.73 403.21,267.77 403.25,286.11 403.28,283.33 403.31,262.37 403.35,275.55 403.38,273.14 403.41,262.25 403.45,308.04 403.48,271.29 403.51,257.93 403.55,251.01 403.58,265.58 403.61,284.39 403.65,261.84 403.68,249.81 403.71,283.12 403.75,284.22 403.78,276.64 403.82,280.10 403.85,301.69 403.88,306.00 403.92,292.01 403.95,283.02 403.98,268.90 404.02,281.65 404.05,272.31 404.08,256.54 404.12,234.99 404.15,263.06 404.18,287.61 404.22,261.49 404.25,274.71 404.28,270.13 404.32,261.91 404.35,264.41 404.38,292.07 404.42,289.79 404.45,271.15 404.48,265.36 404.52,246.79 404.55,266.74 404.58,279.54 404.62,281.15 404.65,284.13 404.68,291.90 404.72,292.00 404.75,282.06 404.78,273.46 404.82,284.92 404.85,274.56 404.88,278.47 404.92,277.78 404.95,280.52 404.98,270.94 405.02,274.54 405.05,309.81 405.08,271.26 405.12,273.37 405.15,282.84 405.18,272.53 405.22,283.97 405.25,273.17 405.28,286.35 405.32,265.77 405.35,270.18 405.38,293.96 405.42,284.04 405.45,265.51 405.49,269.43 405.52,272.96 405.55,289.78 405.59,283.80 405.62,272.65 405.65,270.90 405.69,275.02 405.72,285.79 405.75,277.84 405.79,281.36 405.82,290.18 405.85,289.35 405.89,285.53 405.92,294.68 405.95,268.65 405.99,264.70 406.02,263.16 406.05,285.14 406.09,284.80 406.12,271.59 406.15,281.05 406.19,279.01 406.22,279.02 406.25,296.12 406.29,258.17 406.32,293.84 406.35,295.67 406.39,264.31 406.42,289.37 406.45,260.81 406.49,270.43 406.52,270.25 406.55,279.96 406.59,293.57 406.62,290.58 406.65,273.61 406.69,276.38 406.72,290.86 406.75,289.99 406.79,286.38 406.82,275.79 406.85,269.21 406.89,263.11 406.92,279.87 406.95,256.14 406.99,265.54 407.02,255.57 407.05,286.49 407.09,267.37 407.12,260.70 407.16,298.24 407.19,262.87 407.22,269.56 407.26,262.93 407.29,272.72 407.32,259.95 407.36,280.52 407.39,281.81 407.42,265.56 407.46,265.51 407.49,292.60 407.52,259.24 407.56,259.58 407.59,261.51 407.62,284.51 407.66,258.47 407.69,268.21 407.72,262.84 407.76,275.66 407.79,280.60 407.82,284.20 407.86,282.99 407.89,263.24 407.92,285.07 407.96,283.03 407.99,270.68 408.02,278.42 408.06,301.79 408.09,283.56 408.12,279.71 408.16,253.94 408.19,266.28 408.22,288.03 408.26,289.37 408.29,280.94 408.32,272.03 408.36,285.17 408.39,269.30 408.42,293.34 408.46,270.69 408.49,259.44 408.52,309.70 408.56,275.37 408.59,271.68 408.62,269.12 408.66,273.68 408.69,275.85 408.73,271.30 408.76,273.56 408.79,273.81 408.83,254.43 408.86,261.61 408.89,262.94 408.93,283.25 408.96,281.33 408.99,261.20 409.03,288.68 409.06,261.70 409.09,292.56 409.13,247.26 409.16,258.81 409.19,282.15 409.23,281.01 409.26,301.62 409.29,275.64 409.33,259.48 409.36,267.04 409.39,278.39 409.43,248.29 409.46,267.78 409.49,269.62 409.53,278.87 409.56,267.40 409.59,240.84 409.63,269.13 409.66,296.73 409.69,272.15 409.73,250.05 409.76,259.47 409.79,281.72 409.83,270.44 409.86,294.22 409.89,266.66 409.93,286.44 409.96,281.92 409.99,282.40 410.03,284.33 410.06,252.90 410.09,255.74 410.13,278.74 410.16,273.74 410.19,253.03 410.23,278.74 410.26,280.81 410.29,286.05 410.33,254.67 410.36,272.86 410.39,274.88 410.43,280.51 410.46,286.88 410.50,262.58 410.53,285.10 410.56,281.81 410.60,296.94 410.63,289.37 410.66,281.75 410.70,281.43 410.73,294.80 410.76,283.07 410.80,276.87 410.83,309.26 410.86,267.50 410.90,278.70 410.93,292.63 410.96,278.69 411.00,269.36 411.03,275.20 411.06,274.59 411.10,274.99 411.13,266.67 411.16,292.88 411.20,282.83 411.23,270.17 411.26,274.81 411.30,289.02 411.33,278.86 411.36,284.29 411.40,274.92 411.43,296.81 411.46,296.35 411.50,294.02 411.53,276.96 411.56,242.99 411.60,262.42 411.63,259.27 411.66,275.09 411.70,254.47 411.73,270.60 411.76,274.36 411.80,261.09 411.83,291.09 411.86,303.81 411.90,290.78 411.93,256.90 411.96,263.54 412.00,272.80 412.03,278.36 412.06,277.50 412.10,270.19 412.13,286.52 412.17,265.19 412.20,287.96 412.23,257.72 412.27,279.67 412.30,287.34 412.33,279.03 412.37,287.40 412.40,277.03 412.43,298.88 412.47,281.73 412.50,274.32 412.53,270.28 412.57,280.40 412.60,259.49 412.63,297.42 412.67,278.17 412.70,281.67 412.73,275.43 412.77,278.77 412.80,257.24 412.83,275.38 412.87,287.46" fill="none" stroke="#1f77b4" stroke-width="0.75" stroke-linejoin="round"/>
<line x1="237.70" y1="207.50" x2="420.50" y2="207.50" stroke="#444" stroke-width="0.8" />
<line x1="420.50" y1="207.50" x2="420.50" y2="342.80" stroke="#e6e6e6" stroke-width="0.8" />
<line x1="237.70" y1="342.80" x2="420.50" y2="342.80" stroke="#444" stroke-width="0.8" />
<line x1="237.70" y1="207.50" x2="237.70" y2="342.80" stroke="#444" stroke-width="0.8" />
<line x1="235.70" y1="208.70" x2="237.70" y2="208.70" stroke="#444" stroke-width="0.7" />
<text x="234.80" y="210.86" font-family="Liberation Sans" font-size="6.0" text-anchor="end" fill="#222" >6</text>
<line x1="235.70" y1="230.80" x2="237.70" y2="230.80" stroke="#444" stroke-width="0.7" />
<text x="234.80" y="232.96" font-family="Liberation Sans" font-size="6.0" text-anchor="end" fill="#222" >4</text>
<line x1="235.70" y1="252.90" x2="237.70" y2="252.90" stroke="#444" stroke-width="0.7" />
<text x="234.80" y="255.06" font-family="Liberation Sans" font-size="6.0" text-anchor="end" fill="#222" >2</text>
<line x1="235.70" y1="275.00" x2="237.70" y2="275.00" stroke="#444" stroke-width="0.7" />
<text x="234.80" y="277.16" font-family="Liberation Sans" font-size="6.0" text-anchor="end" fill="#222" >0</text>
<line x1="235.70" y1="297.10" x2="237.70" y2="297.10" stroke="#444" stroke-width="0.7" />
<text x="234.80" y="299.26" font-family="Liberation Sans" font-size="6.0" text-anchor="end" fill="#222" >−2</text>
<line x1="235.70" y1="319.20" x2="237.70" y2="319.20" stroke="#444" stroke-width="0.7" />
<text x="234.80" y="321.36" font-family="Liberation Sans" font-size="6.0" text-anchor="end" fill="#222" >−4</text>
<line x1="235.70" y1="341.30" x2="237.70" y2="341.30" stroke="#444" stroke-width="0.7" />
<text x="234.80" y="343.46" font-family="Liberation Sans" font-size="6.0" text-anchor="end" fill="#222" >−6</text>
<line x1="245.90" y1="342.80" x2="245.90" y2="344.80" stroke="#444" stroke-width="0.7" />
<text x="245.90" y="350.80" font-family="Liberation Sans" font-size="6.0" text-anchor="middle" fill="#222" >0</text>
<line x1="279.30" y1="342.80" x2="279.30" y2="344.80" stroke="#444" stroke-width="0.7" />
<text x="279.30" y="350.80" font-family="Liberation Sans" font-size="6.0" text-anchor="middle" fill="#222" >1000</text>
<line x1="312.70" y1="342.80" x2="312.70" y2="344.80" stroke="#444" stroke-width="0.7" />
<text x="312.70" y="350.80" font-family="Liberation Sans" font-size="6.0" text-anchor="middle" fill="#222" >2000</text>
<line x1="346.10" y1="342.80" x2="346.10" y2="344.80" stroke="#444" stroke-width="0.7" />
<text x="346.10" y="350.80" font-family="Liberation Sans" font-size="6.0" text-anchor="middle" fill="#222" >3000</text>
<line x1="379.50" y1="342.80" x2="379.50" y2="344.80" stroke="#444" stroke-width="0.7" />
<text x="379.50" y="350.80" font-family="Liberation Sans" font-size="6.0" text-anchor="middle" fill="#222" >4000</text>
<line x1="412.90" y1="342.80" x2="412.90" y2="344.80" stroke="#444" stroke-width="0.7" />
<text x="412.90" y="350.80" font-family="Liberation Sans" font-size="6.0" text-anchor="middle" fill="#222" >5000</text>
<text x="221.70" y="275.75" font-family="Liberation Sans" font-size="6.2" text-anchor="middle" fill="#222" transform="rotate(-90 221.70 275.75)" dominant-baseline="central" textLength="47.5" lengthAdjust="spacingAndGlyphs">Simulated Returns</text>
<text x="329.50" y="357.70" font-family="Liberation Sans" font-size="5.8" text-anchor="middle" fill="#444" >Time</text>
<path d="M459.90,249.50 459.94,272.48 459.98,274.35 460.01,264.54 460.05,278.44 460.09,274.96 460.13,264.75 460.17,283.96 460.21,277.10 460.24,264.02 460.28,255.98 460.32,273.60 460.36,273.84 460.40,262.64 460.44,286.71 460.47,279.38 460.51,280.31 460.55,292.16 460.59,300.09 460.63,276.68 460.67,264.32 460.70,266.60 460.74,260.98 460.78,298.52 460.82,274.24 460.86,260.32 460.90,281.02 460.93,285.10 460.97,269.59 461.01,272.73 461.05,266.86 461.09,272.91 461.12,261.17 461.16,266.32 461.20,270.43 461.24,276.38 461.28,266.19 461.32,279.08 461.35,263.81 461.39,262.01 461.43,263.92 461.47,284.84 461.51,268.67 461.55,269.33 461.58,264.60 461.62,287.46 461.66,278.46 461.70,273.53 461.74,259.67 461.78,278.42 461.81,264.37 461.85,271.41 461.89,254.58 461.93,269.72 461.97,287.97 462.01,275.40 462.04,270.37 462.08,260.82 462.12,266.52 462.16,275.43 462.20,284.71 462.23,272.46 462.27,273.92 462.31,260.21 462.35,264.00 462.39,286.00 462.43,294.66 462.46,276.66 462.50,270.21 462.54,281.93 462.58,277.64 462.62,261.53 462.66,265.79 462.69,289.05 462.73,269.47 462.77,271.24 462.81,274.66 462.85,267.41 462.89,267.21 462.92,249.23 462.96,270.56 463.00,279.64 463.04,277.45 463.08,265.94 463.12,254.45 463.15,266.98 463.19,267.64 463.23,270.19 463.27,276.93 463.31,272.00 463.34,284.17 463.38,265.65 463.42,268.22 463.46,270.97 463.50,280.82 463.54,275.18 463.57,278.11 463.61,269.81 463.65,275.40 463.69,269.26 463.73,263.87 463.77,260.68 463.80,282.36 463.84,275.84 463.88,283.03 463.92,260.86 463.96,280.71 464.00,259.91 464.03,277.41 464.07,262.95 464.11,277.79 464.15,274.78 464.19,271.48 464.23,271.81 464.26,274.04 464.30,266.34 464.34,261.33 464.38,264.50 464.42,277.20 464.45,290.16 464.49,271.58 464.53,299.48 464.57,266.27 464.61,266.76 464.65,284.13 464.68,267.13 464.72,278.89 464.76,260.66 464.80,279.87 464.84,280.51 464.88,278.82 464.91,270.37 464.95,282.44 464.99,251.30 465.03,276.14 465.07,256.06 465.11,275.32 465.14,275.62 465.18,279.33 465.22,279.81 465.26,268.48 465.30,261.29 465.34,271.61 465.37,281.06 465.41,270.61 465.45,280.10 465.49,297.96 465.53,271.44 465.56,289.13 465.60,278.60 465.64,304.98 465.68,276.42 465.72,275.10 465.76,257.99 465.79,263.58 465.83,258.29 465.87,270.61 465.91,270.48 465.95,255.92 465.99,278.53 466.02,269.48 466.06,271.36 466.10,269.85 466.14,266.98 466.18,271.49 466.22,264.97 466.25,280.61 466.29,267.94 466.33,282.47 466.37,262.46 466.41,263.38 466.45,274.61 466.48,277.45 466.52,272.92 466.56,267.46 466.60,286.93 466.64,282.15 466.67,263.84 466.71,274.72 466.75,284.81 466.79,293.65 466.83,276.89 466.87,289.25 466.90,271.55 466.94,273.52 466.98,255.46 467.02,284.55 467.06,266.80 467.10,284.06 467.13,282.52 467.17,274.77 467.21,280.78 467.25,255.71 467.29,273.35 467.33,279.92 467.36,251.12 467.40,280.34 467.44,276.39 467.48,274.86 467.52,280.20 467.55,267.24 467.59,261.72 467.63,285.04 467.67,277.51 467.71,276.50 467.75,286.10 467.78,285.35 467.82,276.48 467.86,281.47 467.90,270.09 467.94,265.35 467.98,271.29 468.01,270.36 468.05,281.67 468.09,278.70 468.13,269.42 468.17,267.71 468.21,273.90 468.24,267.99 468.28,275.43 468.32,283.99 468.36,270.19 468.40,277.06 468.44,289.02 468.47,265.25 468.51,269.53 468.55,266.31 468.59,277.52 468.63,259.26 468.66,268.64 468.70,303.84 468.74,279.20 468.78,276.02 468.82,261.14 468.86,273.35 468.89,272.88 468.93,259.21 468.97,262.32 469.01,270.96 469.05,255.32 469.09,286.94 469.12,273.69 469.16,278.21 469.20,259.36 469.24,258.39 469.28,277.52 469.32,271.70 469.35,264.32 469.39,268.19 469.43,270.56 469.47,263.77 469.51,254.95 469.55,271.89 469.58,283.25 469.62,274.00 469.66,273.34 469.70,276.49 469.74,266.50 469.77,266.19 469.81,264.58 469.85,268.55 469.89,270.54 469.93,282.44 469.97,276.13 470.00,280.92 470.04,269.99 470.08,274.05 470.12,273.32 470.16,268.10 470.20,275.67 470.23,263.10 470.27,263.29 470.31,281.66 470.35,260.87 470.39,276.06 470.43,279.63 470.46,275.85 470.50,284.65 470.54,269.82 470.58,261.85 470.62,286.91 470.66,269.03 470.69,267.59 470.73,266.89 470.77,267.03 470.81,268.95 470.85,277.24 470.88,264.75 470.92,269.89 470.96,265.62 471.00,270.08 471.04,275.35 471.08,273.37 471.11,267.35 471.15,263.39 471.19,290.52 471.23,284.71 471.27,287.96 471.31,277.84 471.34,279.11 471.38,271.14 471.42,275.76 471.46,260.73 471.50,278.63 471.54,279.50 471.57,280.53 471.61,275.73 471.65,271.49 471.69,277.43 471.73,281.48 471.77,285.53 471.80,271.32 471.84,278.04 471.88,282.05 471.92,275.50 471.96,269.97 471.99,254.21 472.03,258.09 472.07,281.19 472.11,277.16 472.15,281.25 472.19,281.28 472.22,280.79 472.26,268.87 472.30,273.47 472.34,279.16 472.38,275.72 472.42,275.00 472.45,275.68 472.49,266.49 472.53,281.17 472.57,274.79 472.61,271.77 472.65,270.75 472.68,282.24 472.72,272.03 472.76,278.28 472.80,275.33 472.84,279.70 472.88,269.50 472.91,259.36 472.95,268.45 472.99,274.12 473.03,280.42 473.07,269.06 473.10,267.64 473.14,277.58 473.18,268.74 473.22,280.58 473.26,278.34 473.30,272.19 473.33,278.85 473.37,269.54 473.41,266.63 473.45,272.53 473.49,270.67 473.53,265.86 473.56,270.54 473.60,267.11 473.64,266.56 473.68,277.30 473.72,263.27 473.76,267.61 473.79,272.06 473.83,269.14 473.87,271.32 473.91,271.70 473.95,277.01 473.99,274.42 474.02,274.12 474.06,267.97 474.10,270.60 474.14,270.90 474.18,273.15 474.21,267.20 474.25,283.24 474.29,276.59 474.33,268.54 474.37,274.44 474.41,269.87 474.44,265.79 474.48,269.18 474.52,279.01 474.56,273.62 474.60,277.62 474.64,270.60 474.67,268.16 474.71,273.67 474.75,270.42 474.79,273.50 474.83,264.33 474.87,272.06 474.90,271.64 474.94,270.19 474.98,268.06 475.02,269.62 475.06,272.75 475.10,272.38 475.13,270.42 475.17,270.07 475.21,274.24 475.25,275.11 475.29,273.63 475.32,270.61 475.36,274.54 475.40,277.28 475.44,274.05 475.48,274.73 475.52,269.99 475.55,274.83 475.59,274.37 475.63,264.51 475.67,270.67 475.71,276.59 475.75,267.41 475.78,274.18 475.82,276.10 475.86,269.80 475.90,278.69 475.94,272.88 475.98,270.17 476.01,269.37 476.05,274.87 476.09,274.75 476.13,272.96 476.17,267.36 476.21,280.33 476.24,269.05 476.28,271.30 476.32,266.69 476.36,277.42 476.40,267.62 476.43,276.32 476.47,271.29 476.51,274.27 476.55,283.17 476.59,272.83 476.63,270.89 476.66,268.86 476.70,275.29 476.74,277.61 476.78,269.52 476.82,274.11 476.86,268.06 476.89,266.43 476.93,273.57 476.97,273.30 477.01,275.68 477.05,281.31 477.09,272.59 477.12,269.43 477.16,267.99 477.20,272.65 477.24,264.58 477.28,274.82 477.32,272.66 477.35,274.90 477.39,274.46 477.43,273.75 477.47,275.52 477.51,274.36 477.54,271.33 477.58,272.07 477.62,277.06 477.66,270.36 477.70,276.07 477.74,270.57 477.77,272.23 477.81,280.83 477.85,277.01 477.89,268.44 477.93,275.32 477.97,275.37 478.00,274.41 478.04,272.05 478.08,270.05 478.12,273.81 478.16,265.24 478.20,275.00 478.23,274.54 478.27,273.33 478.31,271.81 478.35,266.21 478.39,262.38 478.43,274.00 478.46,273.26 478.50,269.79 478.54,273.05 478.58,268.80 478.62,277.12 478.65,268.83 478.69,281.97 478.73,270.25 478.77,269.63 478.81,261.75 478.85,276.47 478.88,269.52 478.92,269.71 478.96,276.62 479.00,271.41 479.04,276.20 479.08,277.59 479.11,279.09 479.15,273.49 479.19,277.12 479.23,281.56 479.27,271.30 479.31,280.00 479.34,269.54 479.38,271.50 479.42,276.15 479.46,279.47 479.50,276.53 479.54,278.45 479.57,274.23 479.61,274.18 479.65,261.79 479.69,281.72 479.73,275.16 479.76,270.15 479.80,268.09 479.84,266.72 479.88,276.88 479.92,269.07 479.96,285.21 479.99,273.57 480.03,268.84 480.07,269.47 480.11,278.78 480.15,276.24 480.19,282.07 480.22,275.87 480.26,278.66 480.30,271.40 480.34,275.94 480.38,269.97 480.42,273.10 480.45,274.08 480.49,264.84 480.53,267.47 480.57,278.44 480.61,266.52 480.65,269.25 480.68,266.76 480.72,270.62 480.76,280.54 480.80,274.27 480.84,283.34 480.87,278.79 480.91,275.69 480.95,267.01 480.99,272.44 481.03,271.66 481.07,269.35 481.10,276.62 481.14,267.74 481.18,271.64 481.22,276.87 481.26,275.16 481.30,273.70 481.33,269.94 481.37,266.33 481.41,273.99 481.45,273.62 481.49,264.65 481.53,258.48 481.56,264.64 481.60,271.77 481.64,274.22 481.68,269.60 481.72,271.28 481.76,276.14 481.79,266.60 481.83,261.37 481.87,276.36 481.91,276.13 481.95,274.88 481.98,278.24 482.02,269.02 482.06,279.02 482.10,269.67 482.14,270.87 482.18,269.31 482.21,279.22 482.25,271.98 482.29,271.41 482.33,268.69 482.37,270.95 482.41,275.22 482.44,267.54 482.48,266.45 482.52,266.60 482.56,275.94 482.60,270.27 482.64,276.69 482.67,273.38 482.71,269.26 482.75,279.02 482.79,260.22 482.83,267.15 482.87,276.05 482.90,275.16 482.94,272.96 482.98,273.25 483.02,278.03 483.06,273.22 483.09,279.53 483.13,275.38 483.17,264.61 483.21,272.91 483.25,274.36 483.29,265.59 483.32,271.20 483.36,269.82 483.40,275.18 483.44,267.71 483.48,274.10 483.52,268.70 483.55,269.74 483.59,264.87 483.63,268.16 483.67,272.70 483.71,277.37 483.75,273.97 483.78,275.72 483.82,265.75 483.86,274.62 483.90,282.91 483.94,270.90 483.97,268.96 484.01,276.74 484.05,269.40 484.09,278.56 484.13,271.52 484.17,273.34 484.20,271.21 484.24,270.72 484.28,275.65 484.32,268.99 484.36,274.88 484.40,272.09 484.43,266.23 484.47,276.77 484.51,272.29 484.55,265.41 484.59,266.94 484.63,275.69 484.66,275.42 484.70,270.15 484.74,275.58 484.78,272.29 484.82,278.79 484.86,269.76 484.89,279.88 484.93,272.02 484.97,269.46 485.01,275.65 485.05,279.73 485.08,278.38 485.12,281.29 485.16,264.52 485.20,281.35 485.24,278.46 485.28,271.14 485.31,272.40 485.35,267.97 485.39,266.66 485.43,270.59 485.47,272.92 485.51,275.19 485.54,273.46 485.58,268.33 485.62,269.85 485.66,269.79 485.70,280.25 485.74,276.11 485.77,275.75 485.81,275.10 485.85,277.45 485.89,269.53 485.93,267.80 485.97,264.35 486.00,275.02 486.04,273.08 486.08,272.20 486.12,272.66 486.16,276.45 486.19,268.98 486.23,281.85 486.27,274.82 486.31,281.32 486.35,269.75 486.39,278.99 486.42,277.91 486.46,272.69 486.50,277.39 486.54,271.48 486.58,274.40 486.62,263.64 486.65,278.21 486.69,276.37 486.73,270.01 486.77,272.08 486.81,270.57 486.85,273.96 486.88,268.26 486.92,271.02 486.96,266.55 487.00,278.85 487.04,271.45 487.08,273.64 487.11,270.78 487.15,276.94 487.19,268.88 487.23,278.75 487.27,268.52 487.30,270.09 487.34,280.92 487.38,270.77 487.42,281.56 487.46,270.00 487.50,280.02 487.53,272.94 487.57,273.86 487.61,280.13 487.65,281.19 487.69,270.29 487.73,274.84 487.76,267.57 487.80,272.83 487.84,259.82 487.88,271.79 487.92,264.40 487.96,270.97 487.99,272.20 488.03,270.07 488.07,276.10 488.11,275.59 488.15,264.86 488.19,273.46 488.22,277.94 488.26,270.17 488.30,276.47 488.34,272.18 488.38,267.23 488.41,266.48 488.45,263.99 488.49,267.03 488.53,269.43 488.57,269.94 488.61,271.10 488.64,272.67 488.68,261.78 488.72,272.83 488.76,264.58 488.80,273.02 488.84,266.73 488.87,285.88 488.91,271.72 488.95,275.39 488.99,264.97 489.03,265.29 489.07,275.38 489.10,272.76 489.14,267.98 489.18,270.93 489.22,271.89 489.26,267.69 489.30,278.58 489.33,264.63 489.37,270.16 489.41,286.08 489.45,276.66 489.49,272.66 489.52,261.37 489.56,272.29 489.60,279.47 489.64,265.66 489.68,270.29 489.72,272.22 489.75,267.12 489.79,274.04 489.83,272.71 489.87,267.29 489.91,269.99 489.95,267.40 489.98,273.89 490.02,263.91 490.06,279.01 490.10,278.78 490.14,269.62 490.18,273.57 490.21,271.07 490.25,271.86 490.29,272.80 490.33,277.25 490.37,270.52 490.41,265.57 490.44,276.15 490.48,262.68 490.52,264.26 490.56,276.18 490.60,268.00 490.63,277.42 490.67,272.60 490.71,277.42 490.75,274.64 490.79,281.23 490.83,272.76 490.86,277.21 490.90,276.45 490.94,281.86 490.98,271.77 491.02,262.40 491.06,273.81 491.09,272.73 491.13,277.72 491.17,274.35 491.21,276.31 491.25,279.90 491.29,276.51 491.32,274.61 491.36,270.39 491.40,273.72 491.44,270.56 491.48,265.36 491.52,267.25 491.55,274.17 491.59,281.14 491.63,273.00 491.67,271.60 491.71,266.86 491.74,271.31 491.78,257.54 491.82,273.73 491.86,268.60 491.90,276.84 491.94,277.32 491.97,273.63 492.01,271.00 492.05,268.43 492.09,288.73 492.13,266.12 492.17,264.13 492.20,264.89 492.24,267.56 492.28,272.75 492.32,269.11 492.36,265.18 492.40,277.32 492.43,268.49 492.47,269.38 492.51,272.86 492.55,262.40 492.59,275.90 492.63,277.46 492.66,272.38 492.70,275.56 492.74,264.80 492.78,281.26 492.82,279.35 492.85,270.43 492.89,268.03 492.93,278.72 492.97,264.95 493.01,282.83 493.05,266.44 493.08,277.14 493.12,274.84 493.16,262.10 493.20,272.55 493.24,275.83 493.28,270.85 493.31,261.54 493.35,271.83 493.39,276.60 493.43,271.04 493.47,279.30 493.51,276.16 493.54,275.50 493.58,268.53 493.62,275.06 493.66,269.48 493.70,265.60 493.74,263.12 493.77,282.07 493.81,272.58 493.85,278.98 493.89,268.53 493.93,270.81 493.96,272.33 494.00,275.40 494.04,277.97 494.08,282.27 494.12,266.56 494.16,273.47 494.19,272.09 494.23,270.38 494.27,267.56 494.31,261.01 494.35,273.35 494.39,268.36 494.42,282.12 494.46,274.65 494.50,276.57 494.54,276.08 494.58,265.26 494.62,271.63 494.65,271.88 494.69,271.81 494.73,273.65 494.77,273.63 494.81,276.25 494.85,275.58 494.88,274.92 494.92,273.41 494.96,283.86 495.00,271.87 495.04,272.51 495.07,269.70 495.11,279.23 495.15,278.11 495.19,267.29 495.23,276.80 495.27,269.29 495.30,276.53 495.34,279.84 495.38,281.47 495.42,276.14 495.46,275.28 495.50,280.05 495.53,263.30 495.57,272.16 495.61,277.94 495.65,262.78 495.69,267.03 495.73,277.13 495.76,278.85 495.80,273.48 495.84,267.62 495.88,281.30 495.92,264.87 495.96,274.76 495.99,266.89 496.03,273.18 496.07,269.12 496.11,268.11 496.15,263.88 496.18,276.88 496.22,259.93 496.26,280.55 496.30,270.20 496.34,267.81 496.38,272.07 496.41,266.43 496.45,282.82 496.49,272.52 496.53,265.67 496.57,272.14 496.61,279.48 496.64,271.16 496.68,270.95 496.72,278.73 496.76,263.45 496.80,275.74 496.84,278.99 496.87,271.48 496.91,276.51 496.95,273.45 496.99,270.62 497.03,274.94 497.07,268.24 497.10,270.21 497.14,264.08 497.18,278.82 497.22,271.73 497.26,270.45 497.29,270.25 497.33,286.19 497.37,279.28 497.41,269.97 497.45,268.32 497.49,271.93 497.52,270.92 497.56,263.94 497.60,274.50 497.64,277.26 497.68,262.11 497.72,268.03 497.75,273.24 497.79,276.93 497.83,261.35 497.87,273.98 497.91,277.58 497.95,263.60 497.98,282.01 498.02,273.13 498.06,267.91 498.10,274.03 498.14,275.59 498.17,269.19 498.21,280.28 498.25,273.57 498.29,267.28 498.33,279.48 498.37,262.81 498.40,273.53 498.44,272.63 498.48,275.31 498.52,268.25 498.56,275.31 498.60,270.60 498.63,263.69 498.67,263.74 498.71,282.29 498.75,263.10 498.79,275.41 498.83,270.10 498.86,271.43 498.90,270.26 498.94,276.14 498.98,268.23 499.02,265.38 499.06,275.98 499.09,272.24 499.13,266.72 499.17,264.99 499.21,269.92 499.25,270.35 499.28,268.93 499.32,274.37 499.36,269.92 499.40,273.97 499.44,274.42 499.48,287.66 499.51,283.99 499.55,269.72 499.59,267.27 499.63,269.23 499.67,271.50 499.71,274.16 499.74,268.49 499.78,274.81 499.82,272.22 499.86,262.41 499.90,281.24 499.94,276.10 499.97,273.80 500.01,284.67 500.05,279.93 500.09,265.35 500.13,268.90 500.17,273.13 500.20,263.81 500.24,278.59 500.28,259.94 500.32,272.67 500.36,276.12 500.39,265.30 500.43,268.91 500.47,270.98 500.51,273.03 500.55,283.80 500.59,285.50 500.62,272.30 500.66,266.20 500.70,277.32 500.74,271.74 500.78,282.18 500.82,281.73 500.85,272.69 500.89,267.96 500.93,267.69 500.97,264.83 501.01,277.31 501.05,273.39 501.08,267.48 501.12,278.71 501.16,274.26 501.20,272.38 501.24,272.49 501.28,266.97 501.31,269.77 501.35,275.09 501.39,286.61 501.43,267.55 501.47,266.32 501.50,269.29 501.54,270.23 501.58,269.71 501.62,265.07 501.66,275.49 501.70,272.81 501.73,278.40 501.77,273.73 501.81,277.34 501.85,277.33 501.89,284.27 501.93,273.01 501.96,266.43 502.00,290.27 502.04,264.93 502.08,272.69 502.12,276.48 502.16,270.69 502.19,273.95 502.23,272.95 502.27,264.20 502.31,271.52 502.35,270.38 502.39,274.06 502.42,273.53 502.46,277.78 502.50,273.22 502.54,277.01 502.58,265.97 502.61,273.85 502.65,268.32 502.69,265.16 502.73,266.73 502.77,276.42 502.81,263.06 502.84,283.27 502.88,264.49 502.92,286.77 502.96,277.64 503.00,272.97 503.04,276.55 503.07,284.37 503.11,280.90 503.15,271.16 503.19,282.08 503.23,269.06 503.27,266.22 503.30,265.14 503.34,271.20 503.38,272.84 503.42,274.78 503.46,257.52 503.50,265.99 503.53,269.12 503.57,270.75 503.61,266.65 503.65,282.96 503.69,267.92 503.72,275.68 503.76,285.05 503.80,266.64 503.84,276.68 503.88,270.24 503.92,276.53 503.95,274.72 503.99,263.99 504.03,270.81 504.07,270.49 504.11,280.90 504.15,267.80 504.18,275.99 504.22,270.10 504.26,277.94 504.30,270.65 504.34,269.70 504.38,280.23 504.41,270.91 504.45,277.23 504.49,266.07 504.53,270.65 504.57,272.30 504.61,256.77 504.64,268.24 504.68,274.53 504.72,268.04 504.76,271.09 504.80,265.59 504.83,277.70 504.87,262.47 504.91,275.15 504.95,274.48 504.99,276.29 505.03,274.08 505.06,262.78 505.10,271.61 505.14,277.99 505.18,273.31 505.22,271.28 505.26,267.68 505.29,274.17 505.33,271.56 505.37,257.69 505.41,273.21 505.45,271.95 505.49,278.55 505.52,267.74 505.56,274.86 505.60,263.27 505.64,266.47 505.68,268.49 505.72,275.04 505.75,274.22 505.79,274.44 505.83,272.10 505.87,274.27 505.91,275.21 505.94,272.03 505.98,272.65 506.02,274.40 506.06,268.01 506.10,267.36 506.14,275.28 506.17,261.92 506.21,270.64 506.25,266.47 506.29,263.25 506.33,279.52 506.37,270.04 506.40,268.01 506.44,266.60 506.48,268.62 506.52,267.55 506.56,279.91 506.60,277.21 506.63,269.70 506.67,282.52 506.71,275.20 506.75,273.43 506.79,270.68 506.83,268.10 506.86,271.33 506.90,276.58 506.94,277.20 506.98,270.51 507.02,269.66 507.05,270.67 507.09,271.83 507.13,271.97 507.17,279.31 507.21,272.64 507.25,268.80 507.28,278.01 507.32,270.42 507.36,269.12 507.40,261.13 507.44,272.82 507.48,273.72 507.51,278.40 507.55,277.83 507.59,280.40 507.63,281.23 507.67,269.09 507.71,272.55 507.74,271.02 507.78,280.26 507.82,282.38 507.86,281.15 507.90,264.63 507.94,267.02 507.97,279.05 508.01,272.01 508.05,271.68 508.09,277.29 508.13,275.64 508.16,267.86 508.20,269.02 508.24,268.10 508.28,270.90 508.32,271.90 508.36,270.03 508.39,273.23 508.43,264.20 508.47,271.36 508.51,269.82 508.55,272.87 508.59,275.71 508.62,272.69 508.66,274.05 508.70,276.36 508.74,268.46 508.78,262.66 508.82,271.02 508.85,272.94 508.89,275.94 508.93,279.61 508.97,269.43 509.01,269.60 509.05,276.31 509.08,272.01 509.12,276.59 509.16,265.43 509.20,271.83 509.24,270.22 509.27,263.99 509.31,283.35 509.35,270.36 509.39,271.06 509.43,273.80 509.47,272.26 509.50,266.21 509.54,275.60 509.58,275.55 509.62,263.80 509.66,267.29 509.70,269.92 509.73,268.31 509.77,271.86 509.81,273.76 509.85,273.02 509.89,270.73 509.93,274.58 509.96,280.19 510.00,273.08 510.04,270.87 510.08,272.93 510.12,268.92 510.16,270.80 510.19,267.45 510.23,271.62 510.27,273.10 510.31,269.38 510.35,267.83 510.38,274.44 510.42,276.52 510.46,265.55 510.50,274.86 510.54,270.37 510.58,274.58 510.61,271.13 510.65,265.25 510.69,263.78 510.73,278.80 510.77,279.49 510.81,289.09 510.84,269.26 510.88,264.39 510.92,270.93 510.96,273.71 511.00,268.07 511.04,276.97 511.07,268.91 511.11,265.42 511.15,265.98 511.19,268.65 511.23,274.80 511.27,273.91 511.30,276.88 511.34,262.79 511.38,265.91 511.42,272.55 511.46,272.60 511.49,271.04 511.53,275.62 511.57,269.61 511.61,269.71 511.65,270.04 511.69,272.00 511.72,285.12 511.76,273.26 511.80,279.49 511.84,280.91 511.88,260.74 511.92,274.83 511.95,273.27 511.99,273.86 512.03,276.70 512.07,263.95 512.11,281.86 512.15,269.84 512.18,275.37 512.22,265.74 512.26,267.94 512.30,271.92 512.34,280.13 512.38,268.26 512.41,267.26 512.45,268.91 512.49,273.88 512.53,269.05 512.57,276.41 512.60,271.06 512.64,270.43 512.68,273.58 512.72,277.56 512.76,273.55 512.80,276.99 512.83,278.67 512.87,266.85 512.91,273.19 512.95,275.11 512.99,275.12 513.03,270.10 513.06,274.11 513.10,276.14 513.14,270.96 513.18,271.65 513.22,277.20 513.26,278.11 513.29,265.48 513.33,273.89 513.37,265.98 513.41,269.22 513.45,272.79 513.49,273.69 513.52,263.69 513.56,275.86 513.60,274.50 513.64,276.84 513.68,273.25 513.71,277.46 513.75,271.79 513.79,279.18 513.83,269.62 513.87,270.60 513.91,271.28 513.94,275.68 513.98,265.50 514.02,261.57 514.06,273.14 514.10,276.61 514.14,268.95 514.17,273.58 514.21,271.65 514.25,268.92 514.29,279.82 514.33,268.49 514.37,278.13 514.40,279.24 514.44,274.55 514.48,264.48 514.52,275.90 514.56,269.90 514.59,277.54 514.63,269.03 514.67,270.70 514.71,266.12 514.75,271.47 514.79,272.42 514.82,282.73 514.86,270.72 514.90,268.11 514.94,271.36 514.98,271.45 515.02,269.36 515.05,267.66 515.09,277.41 515.13,272.86 515.17,270.08 515.21,271.05 515.25,277.75 515.28,283.43 515.32,270.69 515.36,268.48 515.40,263.18 515.44,270.13 515.48,277.29 515.51,270.00 515.55,273.11 515.59,276.24 515.63,280.46 515.67,282.61 515.70,276.36 515.74,274.81 515.78,272.14 515.82,272.38 515.86,271.21 515.90,261.82 515.93,272.84 515.97,264.83 516.01,276.84 516.05,276.54 516.09,275.42 516.13,282.54 516.16,263.22 516.20,271.07 516.24,268.45 516.28,262.80 516.32,269.96 516.36,263.35 516.39,285.75 516.43,265.35 516.47,270.80 516.51,275.61 516.55,266.40 516.59,272.33 516.62,276.44 516.66,283.45 516.70,262.46 516.74,287.24 516.78,272.10 516.81,263.49 516.85,268.81 516.89,276.05 516.93,274.02 516.97,275.98 517.01,271.10 517.04,272.94 517.08,279.82 517.12,280.86 517.16,266.04 517.20,279.76 517.24,278.97 517.27,259.32 517.31,277.31 517.35,280.06 517.39,278.09 517.43,268.21 517.47,276.83 517.50,273.38 517.54,285.76 517.58,276.13 517.62,272.41 517.66,272.34 517.70,264.24 517.73,269.73 517.77,289.15 517.81,281.95 517.85,277.74 517.89,274.36 517.92,272.38 517.96,269.08 518.00,282.35 518.04,285.47 518.08,268.16 518.12,278.46 518.15,286.24 518.19,278.21 518.23,275.29 518.27,279.71 518.31,279.51 518.35,266.93 518.38,279.12 518.42,271.01 518.46,271.53 518.50,274.83 518.54,259.17 518.58,280.56 518.61,257.88 518.65,278.29 518.69,274.32 518.73,271.01 518.77,266.36 518.81,268.72 518.84,274.78 518.88,274.77 518.92,265.95 518.96,263.87 519.00,275.83 519.03,265.65 519.07,269.45 519.11,271.25 519.15,279.10 519.19,280.02 519.23,270.21 519.26,288.81 519.30,275.60 519.34,270.23 519.38,282.39 519.42,263.23 519.46,263.04 519.49,278.87 519.53,273.34 519.57,273.42 519.61,275.85 519.65,275.53 519.69,269.86 519.72,262.96 519.76,272.17 519.80,272.04 519.84,271.88 519.88,276.69 519.92,268.99 519.95,275.55 519.99,278.42 520.03,268.82 520.07,283.59 520.11,275.61 520.14,274.96 520.18,273.43 520.22,281.71 520.26,278.23 520.30,273.50 520.34,269.08 520.37,273.31 520.41,273.86 520.45,277.59 520.49,272.51 520.53,289.19 520.57,268.79 520.60,266.88 520.64,272.74 520.68,278.43 520.72,264.65 520.76,276.69 520.80,264.56 520.83,274.25 520.87,277.21 520.91,273.92 520.95,276.76 520.99,273.63 521.03,269.60 521.06,274.19 521.10,275.41 521.14,272.74 521.18,270.22 521.22,272.60 521.25,269.27 521.29,269.02 521.33,270.82 521.37,268.17 521.41,272.52 521.45,265.50 521.48,270.07 521.52,267.35 521.56,273.82 521.60,281.56 521.64,275.43 521.68,272.35 521.71,270.25 521.75,272.82 521.79,263.14 521.83,280.98 521.87,284.05 521.91,273.78 521.94,277.04 521.98,272.39 522.02,268.25 522.06,254.63 522.10,281.35 522.14,279.77 522.17,272.98 522.21,282.57 522.25,277.76 522.29,263.81 522.33,273.00 522.36,272.79 522.40,264.90 522.44,284.57 522.48,271.74 522.52,272.94 522.56,270.68 522.59,279.74 522.63,275.71 522.67,273.34 522.71,267.21 522.75,277.95 522.79,268.03 522.82,288.50 522.86,269.39 522.90,266.71 522.94,279.55 522.98,274.85 523.02,272.62 523.05,270.33 523.09,263.12 523.13,271.08 523.17,274.41 523.21,274.18 523.25,270.38 523.28,266.19 523.32,270.47 523.36,277.18 523.40,275.44 523.44,279.31 523.47,280.06 523.51,276.81 523.55,277.61 523.59,265.85 523.63,283.17 523.67,271.96 523.70,283.19 523.74,265.37 523.78,269.81 523.82,260.88 523.86,267.48 523.90,282.27 523.93,272.23 523.97,278.64 524.01,277.66 524.05,282.60 524.09,275.63 524.13,271.68 524.16,270.46 524.20,247.43 524.24,274.25 524.28,271.69 524.32,273.54 524.36,275.25 524.39,275.78 524.43,271.99 524.47,274.71 524.51,264.62 524.55,267.91 524.58,282.30 524.62,272.55 524.66,269.13 524.70,275.67 524.74,275.20 524.78,273.66 524.81,265.52 524.85,270.52 524.89,278.90 524.93,273.13 524.97,257.88 525.01,284.00 525.04,264.66 525.08,275.56 525.12,227.20 525.16,264.83 525.20,271.90 525.24,273.91 525.27,291.60 525.31,279.02 525.35,247.11 525.39,267.97 525.43,226.59 525.47,272.67 525.50,271.97 525.54,284.92 525.58,271.15 525.62,265.85 525.66,328.83 525.69,275.71 525.73,308.96 525.77,295.08 525.81,261.34 525.85,255.99 525.89,247.41 525.92,290.06 525.96,273.69 526.00,277.12 526.04,257.95 526.08,268.10 526.12,271.40 526.15,264.22 526.19,278.80 526.23,259.05 526.27,277.22 526.31,257.22 526.35,269.94 526.38,269.28 526.42,288.35 526.46,293.99 526.50,294.40 526.54,265.67 526.58,302.50 526.61,253.45 526.65,277.05 526.69,291.26 526.73,267.69 526.77,289.80 526.80,271.97 526.84,276.24 526.88,255.88 526.92,260.05 526.96,259.53 527.00,278.91 527.03,255.30 527.07,273.50 527.11,270.92 527.15,266.47 527.19,268.80 527.23,290.74 527.26,263.76 527.30,294.03 527.34,266.20 527.38,273.48 527.42,271.53 527.46,287.14 527.49,259.28 527.53,274.52 527.57,261.36 527.61,282.15 527.65,281.92 527.69,271.65 527.72,259.23 527.76,289.56 527.80,279.98 527.84,278.97 527.88,275.98 527.91,278.32 527.95,259.04 527.99,263.70 528.03,272.26 528.07,262.14 528.11,259.91 528.14,280.07 528.18,281.36 528.22,264.20 528.26,247.13 528.30,300.74 528.34,279.90 528.37,263.36 528.41,281.94 528.45,262.48 528.49,269.95 528.53,286.87 528.57,277.81 528.60,268.35 528.64,282.57 528.68,266.01 528.72,269.11 528.76,275.89 528.79,268.30 528.83,276.44 528.87,270.20 528.91,283.18 528.95,257.59 528.99,275.33 529.02,260.44 529.06,250.35 529.10,256.31 529.14,272.73 529.18,270.96 529.22,272.99 529.25,269.44 529.29,280.76 529.33,290.43 529.37,269.40 529.41,272.09 529.45,257.69 529.48,255.14 529.52,285.62 529.56,281.37 529.60,265.24 529.64,261.49 529.68,271.37 529.71,272.00 529.75,289.57 529.79,251.56 529.83,278.92 529.87,267.43 529.90,269.45 529.94,280.60 529.98,264.89 530.02,259.55 530.06,272.97 530.10,271.27 530.13,266.75 530.17,263.95 530.21,265.00 530.25,280.27 530.29,280.63 530.33,277.31 530.36,295.74 530.40,283.89 530.44,274.21 530.48,278.24 530.52,279.72 530.56,265.04 530.59,269.70 530.63,265.59 530.67,273.98 530.71,276.07 530.75,279.84 530.79,270.49 530.82,287.75 530.86,279.88 530.90,267.63 530.94,265.43 530.98,273.10 531.01,282.22 531.05,267.78 531.09,278.73 531.13,273.60 531.17,280.68 531.21,257.30 531.24,260.05 531.28,279.66 531.32,282.36 531.36,273.01 531.40,267.30 531.44,262.03 531.47,273.06 531.51,283.02 531.55,270.09 531.59,270.34 531.63,286.00 531.67,274.78 531.70,275.09 531.74,280.86 531.78,270.69 531.82,263.66 531.86,264.01 531.90,280.14 531.93,277.56 531.97,266.72 532.01,275.40 532.05,275.55 532.09,253.89 532.12,294.32 532.16,278.13 532.20,279.69 532.24,273.03 532.28,258.13 532.32,273.81 532.35,274.99 532.39,271.25 532.43,275.15 532.47,269.40 532.51,251.25 532.55,278.36 532.58,274.31 532.62,273.20 532.66,290.09 532.70,267.57 532.74,273.11 532.78,288.78 532.81,274.81 532.85,271.24 532.89,279.89 532.93,263.75 532.97,277.41 533.01,284.64 533.04,266.15 533.08,273.69 533.12,271.49 533.16,285.36 533.20,283.48 533.23,280.52 533.27,273.80 533.31,273.66 533.35,261.98 533.39,260.83 533.43,271.60 533.46,273.33 533.50,258.35 533.54,272.17 533.58,265.11 533.62,276.18 533.66,273.35 533.69,274.61 533.73,277.60 533.77,269.93 533.81,278.47 533.85,273.37 533.89,269.72 533.92,257.96 533.96,285.73 534.00,272.09 534.04,268.15 534.08,274.93 534.12,266.79 534.15,269.09 534.19,269.39 534.23,275.34 534.27,274.00 534.31,274.06 534.34,278.91 534.38,271.46 534.42,279.24 534.46,278.41 534.50,281.18 534.54,265.84 534.57,276.04 534.61,277.97 534.65,267.84 534.69,275.10 534.73,270.62 534.77,273.66 534.80,270.50 534.84,271.50 534.88,285.07 534.92,264.20 534.96,266.90 535.00,280.84 535.03,267.61 535.07,273.87 535.11,271.97 535.15,265.53 535.19,267.15 535.23,267.28 535.26,261.72 535.30,266.73 535.34,275.83 535.38,279.43 535.42,268.16 535.45,281.64 535.49,274.45 535.53,274.49 535.57,276.27 535.61,265.58 535.65,270.95 535.68,273.76 535.72,268.02 535.76,274.69 535.80,266.50 535.84,262.26 535.88,273.26 535.91,273.43 535.95,266.83 535.99,282.38 536.03,278.84 536.07,277.69 536.11,280.59 536.14,272.63 536.18,271.15 536.22,272.74 536.26,272.75 536.30,268.15 536.34,267.39 536.37,266.58 536.41,273.30 536.45,272.52 536.49,265.52 536.53,270.64 536.56,266.29 536.60,274.88 536.64,272.83 536.68,275.66 536.72,272.71 536.76,270.59 536.79,274.73 536.83,263.35 536.87,279.61 536.91,268.54 536.95,277.72 536.99,271.22 537.02,276.22 537.06,272.27 537.10,272.28 537.14,276.34 537.18,278.29 537.22,275.93 537.25,272.52 537.29,268.86 537.33,265.18 537.37,280.57 537.41,270.51 537.45,274.78 537.48,272.57 537.52,271.15 537.56,268.98 537.60,270.76 537.64,272.73 537.67,265.49 537.71,271.34 537.75,272.65 537.79,267.44 537.83,277.82 537.87,276.89 537.90,266.03 537.94,273.53 537.98,280.71 538.02,269.02 538.06,267.19 538.10,276.13 538.13,278.53 538.17,272.87 538.21,271.03 538.25,275.33 538.29,276.75 538.33,270.30 538.36,270.27 538.40,279.75 538.44,277.65 538.48,274.10 538.52,275.46 538.56,271.71 538.59,270.38 538.63,264.41 538.67,271.07 538.71,268.57 538.75,279.59 538.78,275.74 538.82,267.99 538.86,279.12 538.90,266.75 538.94,270.25 538.98,272.08 539.01,273.21 539.05,277.82 539.09,277.45 539.13,275.01 539.17,274.58 539.21,267.27 539.24,277.17 539.28,275.44 539.32,280.34 539.36,271.97 539.40,272.71 539.44,267.89 539.47,264.28 539.51,270.34 539.55,276.44 539.59,271.71 539.63,271.45 539.67,272.95 539.70,277.42 539.74,271.19 539.78,277.99 539.82,273.07 539.86,274.02 539.89,283.98 539.93,270.04 539.97,263.42 540.01,274.29 540.05,275.40 540.09,268.65 540.12,278.41 540.16,272.61 540.20,271.65 540.24,275.14 540.28,273.02 540.32,276.38 540.35,275.22 540.39,269.81 540.43,276.49 540.47,275.18 540.51,275.73 540.55,270.49 540.58,274.32 540.62,276.39 540.66,271.26 540.70,281.41 540.74,280.94 540.78,271.45 540.81,264.64 540.85,274.82 540.89,271.24 540.93,278.71 540.97,272.17 541.00,271.85 541.04,270.22 541.08,275.91 541.12,264.33 541.16,276.84 541.20,266.13 541.23,277.34 541.27,269.28 541.31,266.90 541.35,263.31 541.39,273.19 541.43,279.81 541.46,269.04 541.50,275.75 541.54,277.32 541.58,275.22 541.62,276.61 541.66,269.38 541.69,271.86 541.73,269.72 541.77,268.95 541.81,274.34 541.85,269.62 541.89,267.42 541.92,264.64 541.96,271.93 542.00,273.79 542.04,276.67 542.08,274.35 542.11,272.61 542.15,271.57 542.19,278.46 542.23,274.39 542.27,273.52 542.31,275.20 542.34,275.28 542.38,271.15 542.42,276.85 542.46,270.61 542.50,277.29 542.54,271.72 542.57,277.44 542.61,267.56 542.65,269.45 542.69,266.86 542.73,276.26 542.77,278.33 542.80,278.33 542.84,273.61 542.88,268.06 542.92,269.59 542.96,269.74 543.00,277.95 543.03,267.97 543.07,269.49 543.11,275.00 543.15,283.63 543.19,276.07 543.22,273.22 543.26,265.84 543.30,271.71 543.34,272.92 543.38,265.79 543.42,265.93 543.45,271.01 543.49,269.96 543.53,267.24 543.57,275.75 543.61,270.89 543.65,274.47 543.68,276.81 543.72,270.49 543.76,267.86 543.80,264.55 543.84,269.28 543.88,267.71 543.91,273.40 543.95,279.13 543.99,275.37 544.03,270.89 544.07,275.18 544.11,264.32 544.14,267.34 544.18,273.46 544.22,265.10 544.26,269.80 544.30,265.49 544.33,273.38 544.37,269.20 544.41,273.59 544.45,272.54 544.49,267.61 544.53,264.30 544.56,272.04 544.60,271.30 544.64,276.41 544.68,273.50 544.72,270.43 544.76,278.01 544.79,274.46 544.83,277.42 544.87,271.72 544.91,268.71 544.95,271.10 544.99,273.79 545.02,276.96 545.06,279.58 545.10,272.50 545.14,265.98 545.18,273.73 545.21,272.86 545.25,274.50 545.29,277.47 545.33,267.95 545.37,269.50 545.41,278.98 545.44,277.96 545.48,266.74 545.52,276.39 545.56,272.77 545.60,277.04 545.64,271.18 545.67,275.98 545.71,275.19 545.75,277.40 545.79,264.33 545.83,261.28 545.87,271.60 545.90,269.66 545.94,270.09 545.98,272.54 546.02,272.95 546.06,274.13 546.10,269.15 546.13,277.89 546.17,276.20 546.21,269.50 546.25,278.67 546.29,265.52 546.32,273.75 546.36,271.75 546.40,266.78 546.44,272.76 546.48,271.99 546.52,275.12 546.55,270.32 546.59,269.54 546.63,276.39 546.67,269.70 546.71,268.32 546.75,270.51 546.78,275.83 546.82,268.49 546.86,266.60 546.90,274.69 546.94,280.52 546.98,275.63 547.01,272.48 547.05,266.89 547.09,267.34 547.13,269.57 547.17,275.36 547.21,269.24 547.24,272.59 547.28,277.02 547.32,280.36 547.36,268.19 547.40,279.66 547.43,267.10 547.47,262.72 547.51,272.41 547.55,276.24 547.59,275.34 547.63,275.52 547.66,270.89 547.70,268.18 547.74,275.86 547.78,274.01 547.82,275.39 547.86,267.55 547.89,268.28 547.93,276.27 547.97,273.90 548.01,271.83 548.05,280.38 548.09,274.91 548.12,271.95 548.16,278.68 548.20,271.63 548.24,272.36 548.28,274.99 548.32,268.04 548.35,276.65 548.39,270.71 548.43,273.67 548.47,267.77 548.51,275.98 548.54,269.94 548.58,269.87 548.62,267.60 548.66,265.52 548.70,279.20 548.74,272.89 548.77,277.28 548.81,268.30 548.85,266.60 548.89,273.87 548.93,271.51 548.97,266.84 549.00,271.67 549.04,273.14 549.08,279.75 549.12,275.67 549.16,268.20 549.20,278.95 549.23,271.30 549.27,271.61 549.31,272.62 549.35,269.08 549.39,275.84 549.43,266.50 549.46,274.48 549.50,268.12 549.54,275.11 549.58,271.42 549.62,274.02 549.65,265.21 549.69,277.12 549.73,275.34 549.77,266.17 549.81,269.02 549.85,272.73 549.88,273.70 549.92,278.20 549.96,273.76 550.00,271.00 550.04,267.28 550.08,268.47 550.11,266.19 550.15,270.88 550.19,275.69 550.23,274.09 550.27,265.83 550.31,272.09 550.34,266.35 550.38,279.54 550.42,274.72 550.46,276.09 550.50,271.41 550.54,276.04 550.57,278.42 550.61,272.90 550.65,282.70 550.69,275.18 550.73,270.68 550.76,277.66 550.80,272.80 550.84,276.49 550.88,274.10 550.92,271.49 550.96,270.48 550.99,270.62 551.03,275.94 551.07,265.70 551.11,271.09 551.15,275.48 551.19,266.50 551.22,274.35 551.26,263.65 551.30,268.69 551.34,273.03 551.38,274.74 551.42,276.37 551.45,276.14 551.49,273.81 551.53,266.25 551.57,271.68 551.61,272.89 551.65,270.51 551.68,273.99 551.72,278.46 551.76,279.58 551.80,265.68 551.84,273.84 551.87,264.72 551.91,263.23 551.95,271.10 551.99,268.68 552.03,274.26 552.07,273.11 552.10,272.05 552.14,272.49 552.18,264.78 552.22,272.95 552.26,267.79 552.30,271.81 552.33,269.15 552.37,262.68 552.41,280.75 552.45,266.12 552.49,275.84 552.53,271.33 552.56,274.34 552.60,275.10 552.64,280.14 552.68,287.74 552.72,260.02 552.76,267.33 552.79,273.83 552.83,283.55 552.87,268.34 552.91,262.74 552.95,269.71 552.98,283.14 553.02,275.71 553.06,270.71 553.10,272.87 553.14,265.12 553.18,278.82 553.21,276.70 553.25,289.29 553.29,264.63 553.33,267.97 553.37,275.47 553.41,285.19 553.44,266.18 553.48,282.72 553.52,281.82 553.56,286.78 553.60,283.16 553.64,279.65 553.67,280.84 553.71,263.97 553.75,266.91 553.79,271.90 553.83,277.06 553.87,272.88 553.90,283.29 553.94,269.26 553.98,280.28 554.02,276.80 554.06,302.14 554.09,279.97 554.13,284.42 554.17,263.77 554.21,287.50 554.25,283.72 554.29,282.82 554.32,278.96 554.36,273.82 554.40,301.21 554.44,277.07 554.48,259.99 554.52,261.87 554.55,264.63 554.59,273.35 554.63,270.62 554.67,277.65 554.71,287.84 554.75,269.33 554.78,262.76 554.82,269.87 554.86,272.86 554.90,264.68 554.94,269.70 554.98,262.37 555.01,276.46 555.05,288.92 555.09,268.17 555.13,264.58 555.17,279.61 555.20,270.48 555.24,266.14 555.28,296.92 555.32,250.86 555.36,265.73 555.40,274.35 555.43,282.72 555.47,286.31 555.51,243.80 555.55,275.41 555.59,266.66 555.63,278.19 555.66,275.33 555.70,267.15 555.74,280.38 555.78,273.25 555.82,274.26 555.86,268.75 555.89,265.77 555.93,274.03 555.97,261.67 556.01,276.30 556.05,275.58 556.09,271.97 556.12,274.54 556.16,266.82 556.20,293.59 556.24,285.50 556.28,288.27 556.31,262.59 556.35,266.81 556.39,277.45 556.43,269.93 556.47,284.65 556.51,274.68 556.54,262.73 556.58,268.32 556.62,258.65 556.66,275.78 556.70,265.23 556.74,271.91 556.77,270.59 556.81,270.99 556.85,267.86 556.89,264.53 556.93,272.19 556.97,270.31 557.00,273.15 557.04,270.88 557.08,277.22 557.12,266.82 557.16,268.55 557.20,270.71 557.23,272.61 557.27,276.20 557.31,277.71 557.35,278.58 557.39,276.79 557.42,267.61 557.46,270.25 557.50,280.05 557.54,277.60 557.58,265.55 557.62,263.87 557.65,268.15 557.69,261.69 557.73,275.98 557.77,270.25 557.81,275.67 557.85,261.34 557.88,270.28 557.92,270.32 557.96,270.57 558.00,275.77 558.04,272.67 558.08,283.51 558.11,274.54 558.15,277.23 558.19,268.55 558.23,265.90 558.27,271.03 558.31,277.25 558.34,277.57 558.38,268.78 558.42,273.58 558.46,273.55 558.50,277.42 558.53,271.14 558.57,271.34 558.61,268.50 558.65,276.69 558.69,272.43 558.73,278.93 558.76,271.21 558.80,272.24 558.84,274.00 558.88,268.07 558.92,278.20 558.96,265.00 558.99,270.35 559.03,269.56 559.07,270.95 559.11,275.51 559.15,274.85 559.19,267.80 559.22,272.31 559.26,270.76 559.30,273.84 559.34,268.31 559.38,269.20 559.41,278.22 559.45,263.15 559.49,267.39 559.53,268.37 559.57,270.69 559.61,272.46 559.64,268.24 559.68,260.26 559.72,272.62 559.76,277.28 559.80,272.35 559.84,271.87 559.87,267.79 559.91,277.88 559.95,274.25 559.99,273.68 560.03,267.72 560.07,267.10 560.10,271.30 560.14,267.29 560.18,271.74 560.22,271.77 560.26,282.78 560.30,276.39 560.33,277.45 560.37,270.20 560.41,271.94 560.45,277.27 560.49,272.12 560.52,272.91 560.56,270.55 560.60,274.89 560.64,275.65 560.68,266.75 560.72,273.58 560.75,267.70 560.79,276.44 560.83,273.43 560.87,273.88 560.91,276.86 560.95,269.12 560.98,278.58 561.02,271.32 561.06,282.22 561.10,269.25 561.14,272.23 561.18,267.25 561.21,263.18 561.25,275.56 561.29,272.38 561.33,278.33 561.37,274.54 561.41,272.16 561.44,272.28 561.48,268.85 561.52,270.17 561.56,267.98 561.60,275.57 561.63,271.79 561.67,277.21 561.71,273.25 561.75,284.96 561.79,272.96 561.83,272.25 561.86,274.60 561.90,274.33 561.94,280.28 561.98,275.47 562.02,275.23 562.06,271.50 562.09,270.42 562.13,274.53 562.17,273.16 562.21,270.89 562.25,276.58 562.29,267.89 562.32,263.23 562.36,270.78 562.40,274.71 562.44,271.52 562.48,267.20 562.52,266.73 562.55,278.63 562.59,271.04 562.63,275.83 562.67,274.53 562.71,271.28 562.74,270.09 562.78,273.79 562.82,276.38 562.86,273.43 562.90,277.21 562.94,264.61 562.97,279.61 563.01,269.81 563.05,272.03 563.09,272.49 563.13,277.28 563.17,274.76 563.20,274.07 563.24,274.99 563.28,273.65 563.32,272.05 563.36,274.57 563.40,270.56 563.43,269.25 563.47,275.00 563.51,269.24 563.55,272.31 563.59,275.11 563.63,270.45 563.66,267.53 563.70,274.03 563.74,280.85 563.78,269.07 563.82,268.07 563.85,277.63 563.89,273.20 563.93,270.51 563.97,283.33 564.01,269.07 564.05,269.33 564.08,268.93 564.12,265.85 564.16,277.39 564.20,268.34 564.24,262.33 564.28,282.86 564.31,274.33 564.35,269.46 564.39,275.92 564.43,280.95 564.47,271.24 564.51,271.90 564.54,275.96 564.58,271.57 564.62,268.53 564.66,268.12 564.70,270.78 564.74,278.31 564.77,274.10 564.81,283.05 564.85,277.54 564.89,271.97 564.93,270.23 564.96,272.83 565.00,272.79 565.04,281.62 565.08,278.56 565.12,277.97 565.16,275.44 565.19,275.46 565.23,262.84 565.27,268.18 565.31,277.42 565.35,275.81 565.39,275.26 565.42,275.44 565.46,275.16 565.50,282.07 565.54,267.47 565.58,269.70 565.62,269.88 565.65,272.32 565.69,270.69 565.73,274.44 565.77,281.79 565.81,272.25 565.85,272.69 565.88,278.81 565.92,283.03 565.96,267.64 566.00,277.47 566.04,273.76 566.07,276.00 566.11,265.16 566.15,279.62 566.19,268.03 566.23,284.36 566.27,268.64 566.30,275.10 566.34,283.11 566.38,272.58 566.42,273.18 566.46,280.20 566.50,271.23 566.53,272.99 566.57,270.66 566.61,279.24 566.65,276.29 566.69,277.27 566.73,272.31 566.76,275.28 566.80,277.44 566.84,266.57 566.88,275.29 566.92,267.87 566.96,269.05 566.99,276.15 567.03,281.26 567.07,271.94 567.11,269.76 567.15,267.50 567.18,271.08 567.22,270.87 567.26,275.74 567.30,276.16 567.34,258.16 567.38,267.63 567.41,278.92 567.45,271.46 567.49,270.75 567.53,281.02 567.57,274.15 567.61,270.26 567.64,265.24 567.68,265.42 567.72,274.44 567.76,274.28 567.80,274.94 567.84,271.78 567.87,268.89 567.91,277.57 567.95,273.62 567.99,275.50 568.03,276.35 568.07,275.16 568.10,264.43 568.14,264.82 568.18,266.08 568.22,280.41 568.26,271.39 568.29,261.80 568.33,270.89 568.37,276.05 568.41,270.06 568.45,273.98 568.49,274.63 568.52,271.62 568.56,270.61 568.60,273.58 568.64,272.88 568.68,277.48 568.72,273.00 568.75,269.51 568.79,272.36 568.83,273.59 568.87,279.41 568.91,267.61 568.95,278.12 568.98,269.67 569.02,274.44 569.06,269.10 569.10,268.00 569.14,274.23 569.18,286.71 569.21,282.17 569.25,277.26 569.29,277.02 569.33,271.44 569.37,263.69 569.40,269.72 569.44,273.40 569.48,266.57 569.52,273.64 569.56,268.83 569.60,271.06 569.63,281.63 569.67,268.32 569.71,264.67 569.75,274.34 569.79,269.23 569.83,270.38 569.86,273.97 569.90,274.46 569.94,268.17 569.98,275.68 570.02,275.21 570.06,268.85 570.09,268.48 570.13,265.57 570.17,275.41 570.21,278.85 570.25,267.73 570.29,279.77 570.32,274.61 570.36,273.73 570.40,264.84 570.44,272.59 570.48,278.26 570.51,272.84 570.55,266.62 570.59,280.99 570.63,278.75 570.67,268.01 570.71,272.16 570.74,277.37 570.78,273.66 570.82,272.39 570.86,277.98 570.90,275.33 570.94,266.06 570.97,271.25 571.01,267.59 571.05,272.87 571.09,275.28 571.13,271.31 571.17,276.90 571.20,271.03 571.24,274.12 571.28,274.06 571.32,273.95 571.36,277.06 571.40,266.45 571.43,279.61 571.47,271.70 571.51,278.50 571.55,268.57 571.59,273.73 571.62,271.86 571.66,270.56 571.70,271.07 571.74,271.86 571.78,271.03 571.82,271.12 571.85,274.81 571.89,274.06 571.93,273.81 571.97,275.98 572.01,275.18 572.05,266.68 572.08,279.27 572.12,264.99 572.16,275.11 572.20,269.87 572.24,272.69 572.28,273.53 572.31,270.16 572.35,264.95 572.39,273.23 572.43,272.85 572.47,275.16 572.51,263.45 572.54,267.35 572.58,267.58 572.62,272.55 572.66,281.32 572.70,270.51 572.73,280.82 572.77,275.55 572.81,268.29 572.85,275.34 572.89,275.81 572.93,282.38 572.96,269.43 573.00,270.81 573.04,274.92 573.08,271.05 573.12,280.03 573.16,276.94 573.19,271.82 573.23,268.69 573.27,272.84 573.31,278.30 573.35,274.94 573.39,267.64 573.42,275.42 573.46,271.56 573.50,270.74 573.54,275.21 573.58,272.60 573.62,280.87 573.65,275.34 573.69,272.56 573.73,269.83 573.77,266.80 573.81,274.89 573.84,270.57 573.88,273.29 573.92,276.29 573.96,276.26 574.00,272.99 574.04,272.69 574.07,276.13 574.11,260.26 574.15,272.85 574.19,269.72 574.23,273.94 574.27,260.06 574.30,282.87 574.34,274.34 574.38,271.89 574.42,267.33 574.46,272.98 574.50,277.24 574.53,265.61 574.57,269.74 574.61,273.92 574.65,273.89 574.69,273.89 574.73,272.03 574.76,280.52 574.80,272.14 574.84,275.51 574.88,270.55 574.92,271.26 574.95,277.53 574.99,266.64 575.03,269.33 575.07,276.85 575.11,277.53 575.15,275.87 575.18,271.20 575.22,267.05 575.26,276.85 575.30,276.28 575.34,270.42 575.38,273.00 575.41,273.02 575.45,273.32 575.49,274.24 575.53,264.87 575.57,268.36 575.61,274.27 575.64,267.10 575.68,264.24 575.72,270.64 575.76,271.39 575.80,275.00 575.83,272.22 575.87,271.78 575.91,266.88 575.95,277.06 575.99,280.14 576.03,275.06 576.06,271.12 576.10,281.86 576.14,273.70 576.18,276.45 576.22,277.87 576.26,272.18 576.29,267.54 576.33,278.94 576.37,271.77 576.41,273.56 576.45,269.87 576.49,272.78 576.52,275.66 576.56,268.80 576.60,270.87 576.64,277.45 576.68,281.86 576.72,276.03 576.75,271.92 576.79,269.34 576.83,275.41 576.87,274.58 576.91,281.02 576.94,274.91 576.98,272.33 577.02,275.50 577.06,273.31 577.10,277.28 577.14,276.93 577.17,271.62 577.21,279.87 577.25,272.79 577.29,267.50 577.33,275.44 577.37,275.11 577.40,276.64 577.44,278.75 577.48,275.51 577.52,278.64 577.56,273.92 577.60,275.40 577.63,278.03 577.67,272.79 577.71,268.44 577.75,269.38 577.79,274.21 577.83,273.08 577.86,277.69 577.90,274.09 577.94,270.02 577.98,269.57 578.02,266.93 578.05,279.80 578.09,265.97 578.13,271.30 578.17,266.03 578.21,272.99 578.25,267.49 578.28,273.13 578.32,277.79 578.36,271.60 578.40,275.30 578.44,273.21 578.48,270.68 578.51,269.55 578.55,270.11 578.59,268.69 578.63,280.02 578.67,267.82 578.71,276.78 578.74,272.63 578.78,274.88 578.82,278.24 578.86,269.06 578.90,277.62 578.94,275.54 578.97,266.48 579.01,283.18 579.05,280.63 579.09,268.75 579.13,274.90 579.16,269.50 579.20,273.09 579.24,275.21 579.28,269.89 579.32,276.20 579.36,275.52 579.39,271.99 579.43,277.98 579.47,279.51 579.51,280.49 579.55,268.83 579.59,264.36 579.62,267.71 579.66,275.91 579.70,275.36 579.74,277.50 579.78,273.04 579.82,268.35 579.85,273.36 579.89,273.12 579.93,287.60 579.97,271.64 580.01,278.43 580.05,274.15 580.08,271.38 580.12,272.46 580.16,269.65 580.20,266.07 580.24,283.28 580.27,280.00 580.31,265.51 580.35,270.78 580.39,276.21 580.43,274.15 580.47,272.91 580.50,268.18 580.54,274.40 580.58,272.95 580.62,278.98 580.66,266.28 580.70,270.86 580.73,275.04 580.77,278.98 580.81,273.00 580.85,268.91 580.89,262.44 580.93,264.20 580.96,274.58 581.00,274.76 581.04,277.29 581.08,270.76 581.12,276.28 581.16,270.23 581.19,271.37 581.23,270.94 581.27,277.25 581.31,267.59 581.35,273.72 581.38,278.33 581.42,272.98 581.46,272.01 581.50,272.53 581.54,268.51 581.58,267.32 581.61,262.43 581.65,273.21 581.69,267.25 581.73,284.55 581.77,264.22 581.81,272.87 581.84,266.98 581.88,273.83 581.92,270.29 581.96,269.90 582.00,275.52 582.04,275.35 582.07,285.91 582.11,270.21 582.15,273.46 582.19,273.77 582.23,267.17 582.27,271.15 582.30,271.67 582.34,281.36 582.38,272.02 582.42,274.07 582.46,268.26 582.49,275.00 582.53,278.31 582.57,273.78 582.61,264.31 582.65,276.70 582.69,266.87 582.72,273.50 582.76,281.97 582.80,269.90 582.84,261.98 582.88,270.65 582.92,277.60 582.95,273.72 582.99,276.75 583.03,259.63 583.07,270.19 583.11,283.54 583.15,268.96 583.18,270.66 583.22,277.40 583.26,275.51 583.30,273.05 583.34,264.85 583.38,275.13 583.41,276.18 583.45,268.34 583.49,275.63 583.53,277.49 583.57,273.35 583.60,268.96 583.64,272.05 583.68,274.43 583.72,266.16 583.76,266.37 583.80,280.04 583.83,278.01 583.87,276.94 583.91,273.72 583.95,271.95 583.99,273.08 584.03,272.39 584.06,270.67 584.10,278.59 584.14,282.69 584.18,271.37 584.22,267.03 584.26,271.83 584.29,274.60 584.33,270.16 584.37,274.19 584.41,278.65 584.45,274.45 584.49,269.22 584.52,271.22 584.56,269.58 584.60,274.97 584.64,270.16 584.68,266.18 584.71,274.19 584.75,274.94 584.79,267.07 584.83,272.22 584.87,278.01 584.91,274.57 584.94,266.69 584.98,271.01 585.02,264.17 585.06,269.76 585.10,271.48 585.14,267.85 585.17,275.43 585.21,267.78 585.25,273.04 585.29,273.78 585.33,270.83 585.37,274.75 585.40,277.76 585.44,276.71 585.48,270.27 585.52,271.27 585.56,272.25 585.60,269.34 585.63,276.67 585.67,274.48 585.71,265.22 585.75,276.93 585.79,266.80 585.82,273.83 585.86,270.22 585.90,271.53 585.94,273.76 585.98,272.09 586.02,268.25 586.05,275.77 586.09,276.91 586.13,268.69 586.17,274.39 586.21,273.37 586.25,273.44 586.28,274.52 586.32,280.76 586.36,273.03 586.40,274.69 586.44,278.71 586.48,275.14 586.51,271.52 586.55,264.76 586.59,275.05 586.63,266.53 586.67,274.65 586.71,270.49 586.74,273.74 586.78,269.20 586.82,271.96 586.86,274.35 586.90,279.56 586.93,268.11 586.97,279.38 587.01,275.33 587.05,264.58 587.09,271.49 587.13,272.19 587.16,272.00 587.20,271.46 587.24,274.12 587.28,271.03 587.32,273.30 587.36,274.07 587.39,270.45 587.43,269.70 587.47,270.97 587.51,268.27 587.55,264.12 587.59,264.79 587.62,272.09 587.66,277.48 587.70,267.37 587.74,272.02 587.78,269.04 587.82,274.13 587.85,268.66 587.89,277.54 587.93,271.75 587.97,278.58 588.01,263.40 588.04,273.65 588.08,281.93 588.12,266.73 588.16,268.10 588.20,266.29 588.24,277.54 588.27,270.76 588.31,266.52 588.35,273.27 588.39,270.69 588.43,273.41 588.47,273.82 588.50,266.23 588.54,275.91 588.58,272.26 588.62,269.82 588.66,272.22 588.70,268.62 588.73,281.34 588.77,267.27 588.81,277.74 588.85,273.38 588.89,273.96 588.93,270.28 588.96,273.24 589.00,274.33 589.04,269.29 589.08,263.08 589.12,275.16 589.15,275.40 589.19,275.05 589.23,277.95 589.27,277.94 589.31,274.57 589.35,269.18 589.38,274.74 589.42,276.19 589.46,272.93 589.50,276.07 589.54,260.02 589.58,265.36 589.61,272.30 589.65,280.24 589.69,275.04 589.73,276.68 589.77,276.55 589.81,282.60 589.84,274.91 589.88,275.26 589.92,275.65 589.96,278.57 590.00,270.75 590.03,276.57 590.07,283.29 590.11,277.45 590.15,268.63 590.19,266.70 590.23,278.05 590.26,273.34 590.30,269.78 590.34,267.98 590.38,274.86 590.42,271.08 590.46,274.74 590.49,281.75 590.53,267.84 590.57,272.90 590.61,270.37 590.65,273.65 590.69,277.21 590.72,275.18 590.76,270.75 590.80,279.47 590.84,264.12 590.88,259.96 590.92,285.27 590.95,267.39 590.99,275.04 591.03,269.06 591.07,271.47 591.11,273.64 591.14,267.23 591.18,271.99 591.22,263.59 591.26,270.55 591.30,281.40 591.34,273.54 591.37,272.50 591.41,276.14 591.45,280.35 591.49,259.81 591.53,272.97 591.57,272.70 591.60,283.31 591.64,268.74 591.68,273.27 591.72,264.98 591.76,260.78 591.80,276.95 591.83,277.54 591.87,264.24 591.91,264.75 591.95,301.00 591.99,267.17 592.03,274.71 592.06,272.60 592.10,272.44 592.14,288.28 592.18,266.90 592.22,266.55 592.25,279.38 592.29,276.55 592.33,270.13 592.37,266.90 592.41,272.30 592.45,275.94 592.48,269.16 592.52,271.45 592.56,280.11 592.60,274.91 592.64,275.28 592.68,267.24 592.71,282.61 592.75,278.68 592.79,275.44 592.83,272.21 592.87,254.05 592.91,273.77 592.94,264.30 592.98,266.44 593.02,262.53 593.06,259.21 593.10,268.05 593.14,279.73 593.17,275.09 593.21,261.18 593.25,256.37 593.29,262.94 593.33,254.73 593.36,267.37 593.40,278.48 593.44,271.70 593.48,270.30 593.52,265.83 593.56,266.35 593.59,278.57 593.63,264.22 593.67,276.30 593.71,270.52 593.75,268.00 593.79,267.72 593.82,268.98 593.86,276.00 593.90,273.30 593.94,266.40 593.98,275.37 594.02,279.87 594.05,288.40 594.09,272.35 594.13,278.00 594.17,272.46 594.21,278.91 594.25,275.10 594.28,274.68 594.32,266.94 594.36,277.59 594.40,279.33 594.44,271.88 594.47,267.87 594.51,277.60 594.55,269.70 594.59,272.45 594.63,269.81 594.67,282.54 594.70,272.03 594.74,273.88 594.78,271.45 594.82,276.08 594.86,273.16 594.90,283.76 594.93,272.65 594.97,265.66 595.01,271.57 595.05,272.20 595.09,270.85 595.13,265.59 595.16,275.89 595.20,279.74 595.24,277.96 595.28,275.82 595.32,272.12 595.36,268.63 595.39,276.08 595.43,277.40 595.47,268.36 595.51,267.53 595.55,276.20 595.58,269.03 595.62,273.44 595.66,274.87 595.70,273.19 595.74,276.57 595.78,280.47 595.81,279.14 595.85,276.09 595.89,271.25 595.93,270.81 595.97,268.69 596.01,276.24 596.04,272.76 596.08,279.21 596.12,277.12 596.16,267.96 596.20,273.25 596.24,264.08 596.27,269.55 596.31,274.78 596.35,275.80 596.39,282.03 596.43,266.71 596.47,268.15 596.50,256.38 596.54,263.27 596.58,271.13 596.62,277.36 596.66,280.63 596.69,274.38 596.73,272.77 596.77,279.29 596.81,269.49 596.85,268.25 596.89,277.08 596.92,273.79 596.96,279.00 597.00,268.07 597.04,276.69 597.08,277.78 597.12,281.55 597.15,277.29 597.19,280.50 597.23,267.86 597.27,269.79 597.31,278.23 597.35,276.70 597.38,273.01 597.42,272.17 597.46,277.47 597.50,266.55 597.54,269.79 597.58,263.51 597.61,285.26 597.65,279.85 597.69,269.40 597.73,271.66 597.77,273.95 597.80,277.92 597.84,270.38 597.88,275.01 597.92,266.49 597.96,267.63 598.00,268.49 598.03,281.05 598.07,271.20 598.11,264.65 598.15,264.27 598.19,266.97 598.23,267.45 598.26,276.13 598.30,265.95 598.34,264.07 598.38,270.69 598.42,270.28 598.46,273.29 598.49,271.76 598.53,274.02 598.57,270.45 598.61,273.42 598.65,279.57 598.69,275.45 598.72,270.76 598.76,271.68 598.80,265.98 598.84,268.23 598.88,266.71 598.91,272.85 598.95,267.74 598.99,275.86 599.03,275.70 599.07,268.55 599.11,271.52 599.14,276.24 599.18,268.27 599.22,265.97 599.26,269.12 599.30,266.63 599.34,268.39 599.37,268.40 599.41,276.30 599.45,281.15 599.49,274.19 599.53,287.44 599.57,275.18 599.60,277.74 599.64,272.12 599.68,275.91 599.72,272.65 599.76,276.74 599.80,273.82 599.83,265.83 599.87,277.37 599.91,280.63 599.95,266.21 599.99,269.13 600.02,272.83 600.06,274.52 600.10,271.26 600.14,274.34 600.18,268.25 600.22,274.04 600.25,275.54 600.29,270.14 600.33,276.34 600.37,270.14 600.41,278.07 600.45,275.15 600.48,271.84 600.52,275.88 600.56,268.17 600.60,273.08 600.64,271.71 600.68,281.66 600.71,270.11 600.75,272.28 600.79,281.74 600.83,271.54 600.87,271.16 600.91,275.93 600.94,277.67 600.98,279.12 601.02,272.57 601.06,272.54 601.10,273.66 601.13,263.46 601.17,272.79 601.21,271.97 601.25,279.94 601.29,271.30 601.33,268.45 601.36,276.76 601.40,263.13 601.44,275.27 601.48,272.04 601.52,274.39 601.56,274.48 601.59,285.82 601.63,268.78 601.67,282.71 601.71,267.03 601.75,277.77 601.79,275.12 601.82,261.25 601.86,277.14 601.90,273.72 601.94,278.42 601.98,273.57 602.02,270.84 602.05,265.56 602.09,284.66 602.13,273.05 602.17,269.99 602.21,268.62 602.24,276.24 602.28,272.33 602.32,264.17 602.36,271.01 602.40,263.04 602.44,278.21 602.47,275.95 602.51,272.55 602.55,277.38 602.59,269.74 602.63,277.81 602.67,271.15 602.70,279.57 602.74,276.59 602.78,271.54 602.82,269.97 602.86,277.09 602.90,279.59 602.93,270.15 602.97,277.28 603.01,270.87 603.05,266.76 603.09,269.73 603.13,279.63 603.16,267.02 603.20,267.58 603.24,275.39 603.28,274.62 603.32,266.16 603.35,271.22 603.39,270.71 603.43,267.67 603.47,270.19 603.51,259.77 603.55,266.29 603.58,271.92 603.62,272.06 603.66,273.96 603.70,267.05 603.74,278.05 603.78,268.53 603.81,275.29 603.85,281.03 603.89,268.09 603.93,270.61 603.97,271.27 604.01,274.00 604.04,272.68 604.08,275.47 604.12,266.44 604.16,266.30 604.20,272.77 604.24,272.49 604.27,271.23 604.31,268.40 604.35,271.49 604.39,274.62 604.43,273.59 604.46,271.24 604.50,273.18 604.54,274.29 604.58,266.88 604.62,270.58 604.66,268.32 604.69,276.54 604.73,268.67 604.77,272.37 604.81,273.64 604.85,275.60 604.89,275.39 604.92,274.63 604.96,271.94 605.00,272.85 605.04,263.30 605.08,270.27 605.12,271.35 605.15,272.88 605.19,276.10 605.23,276.16 605.27,270.83 605.31,279.41 605.35,265.04 605.38,265.29 605.42,279.22 605.46,266.92 605.50,267.40 605.54,267.28 605.57,269.35 605.61,264.93 605.65,276.12 605.69,274.53 605.73,269.66 605.77,272.19 605.80,278.97 605.84,268.69 605.88,267.74 605.92,273.40 605.96,270.69 606.00,268.06 606.03,282.05 606.07,274.97 606.11,276.41 606.15,273.09 606.19,278.09 606.23,278.24 606.26,271.43 606.30,264.09 606.34,278.07 606.38,265.09 606.42,268.04 606.45,267.84 606.49,266.41 606.53,274.34 606.57,267.28 606.61,279.31 606.65,276.05 606.68,270.90 606.72,268.89 606.76,278.69 606.80,281.09 606.84,270.53 606.88,271.07 606.91,269.23 606.95,272.75 606.99,278.37 607.03,267.24 607.07,268.86 607.11,271.62 607.14,262.46 607.18,271.31 607.22,265.50 607.26,273.02 607.30,285.67 607.34,277.69 607.37,284.94 607.41,273.47 607.45,267.03 607.49,280.19 607.53,269.09 607.56,273.66 607.60,268.25 607.64,270.68 607.68,276.94 607.72,269.75 607.76,272.55 607.79,268.28 607.83,263.51 607.87,273.28 607.91,264.89 607.95,272.81 607.99,269.58 608.02,271.50 608.06,275.43 608.10,271.77 608.14,274.40 608.18,269.77 608.22,277.19 608.25,276.76 608.29,268.38 608.33,269.90 608.37,269.76 608.41,269.76 608.45,267.58 608.48,270.17 608.52,268.14 608.56,275.88 608.60,269.99 608.64,275.71 608.67,277.99 608.71,273.36 608.75,269.37 608.79,272.24 608.83,264.19 608.87,269.23 608.90,270.38 608.94,271.80 608.98,278.45 609.02,272.08 609.06,272.21 609.10,264.34 609.13,275.92 609.17,272.89 609.21,275.61 609.25,271.63 609.29,280.20 609.33,270.96 609.36,272.25 609.40,271.48 609.44,260.31 609.48,272.69 609.52,270.10 609.56,272.40 609.59,267.35 609.63,262.08 609.67,264.57 609.71,270.79 609.75,278.12 609.78,270.33 609.82,279.88 609.86,276.34 609.90,275.02 609.94,277.40 609.98,272.32 610.01,273.99 610.05,275.71 610.09,270.62 610.13,275.69 610.17,266.45 610.21,269.43 610.24,274.32 610.28,270.32 610.32,275.46 610.36,275.22 610.40,267.66 610.44,279.66 610.47,270.23 610.51,263.55 610.55,282.54 610.59,261.35 610.63,281.20 610.67,282.67 610.70,282.06 610.74,277.73 610.78,275.11 610.82,281.15 610.86,273.32 610.89,268.67 610.93,275.98 610.97,271.86 611.01,269.57 611.05,264.44 611.09,272.82 611.12,269.11 611.16,270.05 611.20,272.18 611.24,273.99 611.28,270.75 611.32,269.23 611.35,278.51 611.39,274.15 611.43,270.86 611.47,271.05 611.51,270.90 611.55,264.87 611.58,267.57 611.62,278.24 611.66,265.11 611.70,275.69 611.74,276.27 611.78,267.44 611.81,273.96 611.85,280.27 611.89,269.57 611.93,270.36 611.97,269.95 612.00,278.97 612.04,268.72 612.08,275.33 612.12,268.27 612.16,278.23 612.20,276.93 612.23,281.60 612.27,276.08 612.31,267.52 612.35,271.37 612.39,275.11 612.43,266.10 612.46,271.51 612.50,268.89 612.54,270.90 612.58,272.95 612.62,271.84 612.66,270.44 612.69,267.19 612.73,269.66 612.77,268.35 612.81,277.69 612.85,281.29 612.89,271.01 612.92,271.76 612.96,270.43 613.00,277.22 613.04,271.83 613.08,277.50 613.11,272.10 613.15,272.86 613.19,273.33 613.23,271.04 613.27,274.87 613.31,272.61 613.34,269.20 613.38,265.33 613.42,270.57 613.46,268.61 613.50,269.72 613.54,264.52 613.57,262.44 613.61,275.58 613.65,269.17 613.69,271.05 613.73,264.82 613.77,284.41 613.80,275.65 613.84,281.00 613.88,265.73 613.92,271.13 613.96,269.21 614.00,270.45 614.03,271.09 614.07,270.44 614.11,274.59 614.15,282.81 614.19,270.84 614.22,272.80 614.26,275.40 614.30,275.62 614.34,265.72 614.38,276.35 614.42,278.03 614.45,269.01 614.49,264.74 614.53,279.40 614.57,277.81 614.61,278.18 614.65,270.43 614.68,269.45 614.72,264.74 614.76,272.81 614.80,273.90 614.84,275.89 614.88,266.12 614.91,275.92 614.95,277.28 614.99,273.85 615.03,272.68 615.07,270.18 615.11,276.25 615.14,262.08 615.18,260.97 615.22,279.35 615.26,271.65 615.30,278.74 615.33,274.27 615.37,280.26 615.41,274.32 615.45,270.81 615.49,271.44 615.53,281.21 615.56,285.60 615.60,284.68 615.64,264.47 615.68,273.73 615.72,272.05 615.76,262.71 615.79,279.35 615.83,269.68 615.87,277.19 615.91,271.23 615.95,285.69 615.99,275.37 616.02,273.05 616.06,271.77 616.10,282.81 616.14,274.33 616.18,266.15 616.22,273.22 616.25,266.30 616.29,267.71 616.33,270.76 616.37,275.27 616.41,271.99 616.44,279.48 616.48,267.59 616.52,270.13 616.56,263.65 616.60,255.64 616.64,266.18 616.67,268.28 616.71,271.10 616.75,266.12 616.79,262.13 616.83,274.66 616.87,282.10 616.90,282.82 616.94,265.03 616.98,269.03 617.02,268.51 617.06,285.16 617.10,276.76 617.13,284.19 617.17,281.08 617.21,276.78 617.25,277.63 617.29,260.84 617.33,281.90 617.36,277.11 617.40,278.04 617.44,272.03 617.48,267.27 617.52,278.34 617.55,284.51 617.59,275.61 617.63,269.74 617.67,280.22 617.71,265.76 617.75,279.66 617.78,277.03 617.82,275.67 617.86,259.52 617.90,267.27 617.94,270.19 617.98,279.33 618.01,279.97 618.05,277.18 618.09,262.12 618.13,264.12 618.17,271.64 618.21,277.08 618.24,283.74 618.28,275.44 618.32,269.33 618.36,269.13 618.40,270.18 618.44,276.86 618.47,269.49 618.51,273.53 618.55,267.36 618.59,271.08 618.63,268.06 618.66,270.64 618.70,275.30 618.74,265.84 618.78,278.47 618.82,268.80 618.86,275.04 618.89,274.61 618.93,271.07 618.97,275.42 619.01,278.12 619.05,277.57 619.09,278.61 619.12,272.43 619.16,270.90 619.20,273.02 619.24,280.70 619.28,271.88 619.32,267.68 619.35,278.43 619.39,277.18 619.43,267.91 619.47,273.42 619.51,267.13 619.55,274.26 619.58,279.74 619.62,272.77 619.66,272.84 619.70,271.11 619.74,276.74 619.77,274.83 619.81,262.63 619.85,275.28 619.89,264.88 619.93,278.01 619.97,271.46 620.00,270.78 620.04,268.38 620.08,272.59 620.12,275.66 620.16,272.06 620.20,279.61 620.23,284.41 620.27,279.88 620.31,265.14 620.35,268.62 620.39,263.86 620.43,270.25 620.46,279.46 620.50,277.22 620.54,271.10 620.58,276.47 620.62,277.01" fill="none" stroke="#1f77b4" stroke-width="0.55" stroke-linejoin="round"/>
<line x1="452.30" y1="220.10" x2="628.80" y2="220.10" stroke="#444" stroke-width="0.8" />
<line x1="628.80" y1="220.10" x2="628.80" y2="333.10" stroke="#e6e6e6" stroke-width="0.8" />
<line x1="452.30" y1="333.10" x2="628.80" y2="333.10" stroke="#444" stroke-width="0.8" />
<line x1="452.30" y1="220.10" x2="452.30" y2="333.10" stroke="#444" stroke-width="0.8" />
<line x1="450.30" y1="230.00" x2="452.30" y2="230.00" stroke="#444" stroke-width="0.7" />
<text x="449.30" y="231.76" font-family="Liberation Sans" font-size="4.9" text-anchor="end" fill="#333" >0.075</text>
<line x1="450.30" y1="244.20" x2="452.30" y2="244.20" stroke="#444" stroke-width="0.7" />
<text x="449.30" y="245.96" font-family="Liberation Sans" font-size="4.9" text-anchor="end" fill="#333" >0.050</text>
<line x1="450.30" y1="258.40" x2="452.30" y2="258.40" stroke="#444" stroke-width="0.7" />
<text x="449.30" y="260.16" font-family="Liberation Sans" font-size="4.9" text-anchor="end" fill="#333" >0.025</text>
<line x1="450.30" y1="272.60" x2="452.30" y2="272.60" stroke="#444" stroke-width="0.7" />
<text x="449.30" y="274.36" font-family="Liberation Sans" font-size="4.9" text-anchor="end" fill="#333" >0.000</text>
<line x1="450.30" y1="286.80" x2="452.30" y2="286.80" stroke="#444" stroke-width="0.7" />
<text x="449.30" y="288.56" font-family="Liberation Sans" font-size="4.9" text-anchor="end" fill="#333" >−0.025</text>
<line x1="450.30" y1="301.00" x2="452.30" y2="301.00" stroke="#444" stroke-width="0.7" />
<text x="449.30" y="302.76" font-family="Liberation Sans" font-size="4.9" text-anchor="end" fill="#333" >−0.050</text>
<line x1="450.30" y1="315.20" x2="452.30" y2="315.20" stroke="#444" stroke-width="0.7" />
<text x="449.30" y="316.96" font-family="Liberation Sans" font-size="4.9" text-anchor="end" fill="#333" >−0.075</text>
<line x1="450.30" y1="329.40" x2="452.30" y2="329.40" stroke="#444" stroke-width="0.7" />
<text x="449.30" y="331.16" font-family="Liberation Sans" font-size="4.9" text-anchor="end" fill="#333" >−0.100</text>
<line x1="459.90" y1="333.10" x2="459.90" y2="335.10" stroke="#444" stroke-width="0.7" />
<text x="459.90" y="340.28" font-family="Liberation Sans" font-size="4.9" text-anchor="middle" fill="#333" >0</text>
<line x1="498.17" y1="333.10" x2="498.17" y2="335.10" stroke="#444" stroke-width="0.7" />
<text x="498.17" y="340.28" font-family="Liberation Sans" font-size="4.9" text-anchor="middle" fill="#333" >1000</text>
<line x1="536.45" y1="333.10" x2="536.45" y2="335.10" stroke="#444" stroke-width="0.7" />
<text x="536.45" y="340.28" font-family="Liberation Sans" font-size="4.9" text-anchor="middle" fill="#333" >2000</text>
<line x1="574.73" y1="333.10" x2="574.73" y2="335.10" stroke="#444" stroke-width="0.7" />
<text x="574.73" y="340.28" font-family="Liberation Sans" font-size="4.9" text-anchor="middle" fill="#333" >3000</text>
<line x1="613.00" y1="333.10" x2="613.00" y2="335.10" stroke="#444" stroke-width="0.7" />
<text x="613.00" y="340.28" font-family="Liberation Sans" font-size="4.9" text-anchor="middle" fill="#333" >4000</text>
<text x="428.60" y="276.50" font-family="Liberation Sans" font-size="5.3" text-anchor="middle" fill="#333" transform="rotate(-90 428.60 276.50)" dominant-baseline="central" textLength="41" lengthAdjust="spacingAndGlyphs">Simulated Returns</text>
<text x="536.50" y="345.00" font-family="Liberation Sans" font-size="4.9" text-anchor="middle" fill="#333" >Time</text>
</svg></body></html>
